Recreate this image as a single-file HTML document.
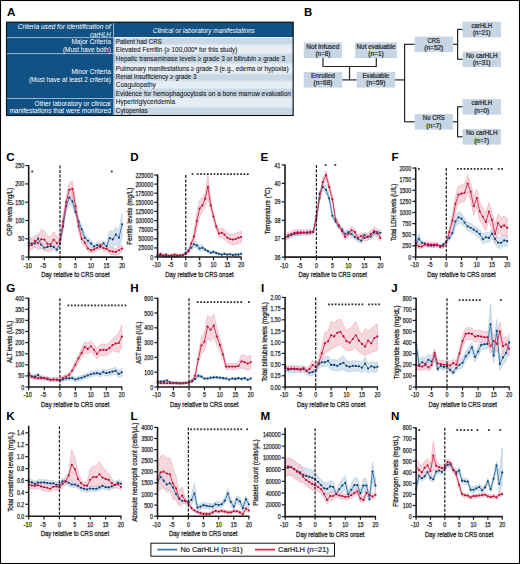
<!DOCTYPE html>
<html><head><meta charset="utf-8"><title>Figure</title>
<style>html,body{margin:0;padding:0;background:#fff;overflow:hidden}svg{display:block}
text{font-family:"Liberation Sans",sans-serif}</style></head>
<body><svg width="520" height="564" viewBox="0 0 520 564" font-family="Liberation Sans, sans-serif" fill="#222">
<rect x="0" y="0" width="520" height="564" fill="#fff"/>
<text x="7.00" y="15.80" font-size="11.6" font-weight="bold" fill="#000">A</text>
<rect x="6.0" y="21.8" width="287.6" height="94.2" fill="#115184"/>
<rect x="114.19999999999999" y="38.0" width="179.40000000000003" height="6.600000000000001" fill="#c8d8e6"/>
<rect x="114.19999999999999" y="44.6" width="179.40000000000003" height="9.0" fill="#e6edf5"/>
<rect x="114.19999999999999" y="53.6" width="179.40000000000003" height="10.0" fill="#c8d8e6"/>
<rect x="114.19999999999999" y="63.6" width="179.40000000000003" height="10.300000000000004" fill="#e6edf5"/>
<rect x="114.19999999999999" y="73.9" width="179.40000000000003" height="7.199999999999989" fill="#c8d8e6"/>
<rect x="114.19999999999999" y="81.1" width="179.40000000000003" height="7.5" fill="#e6edf5"/>
<rect x="114.19999999999999" y="88.6" width="179.40000000000003" height="9.200000000000003" fill="#c8d8e6"/>
<rect x="114.19999999999999" y="97.8" width="179.40000000000003" height="9.799999999999997" fill="#e6edf5"/>
<rect x="114.19999999999999" y="107.6" width="179.40000000000003" height="8.400000000000006" fill="#c8d8e6"/>
<rect x="114.19999999999999" y="44.25" width="179.40000000000003" height="0.7" fill="#f4f7fa"/>
<rect x="114.19999999999999" y="53.25" width="179.40000000000003" height="0.7" fill="#f4f7fa"/>
<rect x="114.19999999999999" y="63.25" width="179.40000000000003" height="0.7" fill="#f4f7fa"/>
<rect x="114.19999999999999" y="73.55000000000001" width="179.40000000000003" height="0.7" fill="#f4f7fa"/>
<rect x="114.19999999999999" y="80.75" width="179.40000000000003" height="0.7" fill="#f4f7fa"/>
<rect x="114.19999999999999" y="88.25" width="179.40000000000003" height="0.7" fill="#f4f7fa"/>
<rect x="114.19999999999999" y="97.45" width="179.40000000000003" height="0.7" fill="#f4f7fa"/>
<rect x="114.19999999999999" y="107.25" width="179.40000000000003" height="0.7" fill="#f4f7fa"/>
<rect x="114.19999999999999" y="37.0" width="179.40000000000003" height="1.0" fill="#f4f7fa"/>
<rect x="6.0" y="37.2" width="107.6" height="0.9" fill="#a8c0d8"/>
<rect x="6.0" y="53.2" width="107.6" height="0.9" fill="#a8c0d8"/>
<rect x="6.0" y="98.0" width="107.6" height="0.9" fill="#a8c0d8"/>
<rect x="113.19999999999999" y="21.8" width="0.9" height="94.2" fill="#a8c0d8"/>
<rect x="6.5" y="22.3" width="286.6" height="93.2" fill="none" stroke="#111" stroke-width="1.1"/>
<text x="115.80" y="43.70" font-size="7.0" fill="#1a1a1a" stroke="#1a1a1a" stroke-width="0.1" textLength="46.00" lengthAdjust="spacingAndGlyphs">Patient had CRS</text>
<text x="115.80" y="51.80" font-size="7.0" fill="#1a1a1a" stroke="#1a1a1a" stroke-width="0.1" textLength="121.50" lengthAdjust="spacingAndGlyphs">Elevated Ferritin (≥ 100,000* for this study)</text>
<text x="115.80" y="61.40" font-size="7.0" fill="#1a1a1a" stroke="#1a1a1a" stroke-width="0.1" textLength="169.20" lengthAdjust="spacingAndGlyphs">Hepatic transaminase levels ≥ grade 3 or bilirubin ≥ grade 3</text>
<text x="115.80" y="70.80" font-size="7.0" fill="#1a1a1a" stroke="#1a1a1a" stroke-width="0.1" textLength="172.70" lengthAdjust="spacingAndGlyphs">Pulmonary manifestations ≥ grade 3 (e.g., edema or hypoxia)</text>
<text x="115.80" y="79.40" font-size="7.0" fill="#1a1a1a" stroke="#1a1a1a" stroke-width="0.1" textLength="80.80" lengthAdjust="spacingAndGlyphs">Renal insufficiency ≥ grade 3</text>
<text x="115.80" y="86.80" font-size="7.0" fill="#1a1a1a" stroke="#1a1a1a" stroke-width="0.1" textLength="40.00" lengthAdjust="spacingAndGlyphs">Coagulopathy</text>
<text x="115.80" y="96.30" font-size="7.0" fill="#1a1a1a" stroke="#1a1a1a" stroke-width="0.1" textLength="175.00" lengthAdjust="spacingAndGlyphs">Evidence for hemophagocytosis on a bone marrow evaluation</text>
<text x="115.80" y="104.20" font-size="7.0" fill="#1a1a1a" stroke="#1a1a1a" stroke-width="0.1" textLength="59.20" lengthAdjust="spacingAndGlyphs">Hypertriglyceridemia</text>
<text x="115.80" y="113.20" font-size="7.0" fill="#1a1a1a" stroke="#1a1a1a" stroke-width="0.1" textLength="32.00" lengthAdjust="spacingAndGlyphs">Cytopenias</text>
<text x="152.80" y="32.50" font-size="7.0" font-style="italic" fill="#ffffff" textLength="102.00" lengthAdjust="spacingAndGlyphs">Clinical or laboratory manifestations</text>
<text x="110.80" y="29.20" font-size="6.9" font-style="italic" text-anchor="end" fill="#ffffff" textLength="93.00" lengthAdjust="spacingAndGlyphs">Criteria used for identification of</text>
<text x="110.80" y="36.60" font-size="6.9" font-style="italic" text-anchor="end" fill="#ffffff" textLength="20.80" lengthAdjust="spacingAndGlyphs">carHLH</text>
<text x="110.80" y="44.30" font-size="6.9" text-anchor="end" fill="#ffffff" textLength="39.40" lengthAdjust="spacingAndGlyphs">Major Criteria</text>
<text x="110.80" y="51.80" font-size="6.9" text-anchor="end" fill="#ffffff" textLength="47.80" lengthAdjust="spacingAndGlyphs">(Must have both)</text>
<text x="110.80" y="74.00" font-size="6.9" text-anchor="end" fill="#ffffff" textLength="39.40" lengthAdjust="spacingAndGlyphs">Minor Criteria</text>
<text x="110.80" y="81.50" font-size="6.9" text-anchor="end" fill="#ffffff" textLength="81.90" lengthAdjust="spacingAndGlyphs">(Must have at least 2 criteria)</text>
<text x="110.80" y="105.80" font-size="6.9" text-anchor="end" fill="#ffffff" textLength="76.20" lengthAdjust="spacingAndGlyphs">Other laboratory or clinical</text>
<text x="110.80" y="113.40" font-size="6.9" text-anchor="end" fill="#ffffff" textLength="101.40" lengthAdjust="spacingAndGlyphs">manifestations that were monitored</text>
<text x="304.00" y="15.60" font-size="11.4" font-weight="bold" fill="#000">B</text>
<rect x="303.8" y="42.3" width="38.099999999999966" height="15.700000000000003" fill="#c7d6e4"/>
<text x="322.85" y="48.50" font-size="6.4" text-anchor="middle" stroke="#222" stroke-width="0.2" textLength="33.00" lengthAdjust="spacingAndGlyphs">Not infused</text>
<text x="322.85" y="55.80" font-size="6.4" text-anchor="middle" stroke="#222" stroke-width="0.2" textLength="14.80" lengthAdjust="spacingAndGlyphs">(n=8)</text>
<rect x="355.1" y="42.3" width="41.799999999999955" height="15.700000000000003" fill="#c7d6e4"/>
<text x="376.00" y="48.50" font-size="6.4" text-anchor="middle" stroke="#222" stroke-width="0.2" textLength="39.00" lengthAdjust="spacingAndGlyphs">Not evaluable</text>
<text x="376.00" y="55.80" font-size="6.4" text-anchor="middle" stroke="#222" stroke-width="0.2" textLength="15.40" lengthAdjust="spacingAndGlyphs">(n=1)</text>
<rect x="303.8" y="71.9" width="38.39999999999998" height="15.699999999999989" fill="#c7d6e4"/>
<text x="323.00" y="78.10" font-size="6.4" text-anchor="middle" stroke="#222" stroke-width="0.2" textLength="24.00" lengthAdjust="spacingAndGlyphs">Enrolled</text>
<text x="323.00" y="85.40" font-size="6.4" text-anchor="middle" stroke="#222" stroke-width="0.2" textLength="19.00" lengthAdjust="spacingAndGlyphs">(n=68)</text>
<rect x="356.6" y="71.9" width="38.5" height="15.699999999999989" fill="#c7d6e4"/>
<text x="375.85" y="78.10" font-size="6.4" text-anchor="middle" stroke="#222" stroke-width="0.2" textLength="26.50" lengthAdjust="spacingAndGlyphs">Evaluable</text>
<text x="375.85" y="85.40" font-size="6.4" text-anchor="middle" stroke="#222" stroke-width="0.2" textLength="19.00" lengthAdjust="spacingAndGlyphs">(n=59)</text>
<rect x="414.6" y="36.6" width="38.39999999999998" height="15.5" fill="#c7d6e4"/>
<text x="433.80" y="42.80" font-size="6.4" text-anchor="middle" stroke="#222" stroke-width="0.2" textLength="12.50" lengthAdjust="spacingAndGlyphs">CRS</text>
<text x="433.80" y="50.10" font-size="6.4" text-anchor="middle" stroke="#222" stroke-width="0.2" textLength="19.00" lengthAdjust="spacingAndGlyphs">(n=52)</text>
<rect x="414.6" y="114.0" width="38.39999999999998" height="15.599999999999994" fill="#c7d6e4"/>
<text x="433.80" y="120.20" font-size="6.4" text-anchor="middle" stroke="#222" stroke-width="0.2" textLength="22.00" lengthAdjust="spacingAndGlyphs">No CRS</text>
<text x="433.80" y="127.50" font-size="6.4" text-anchor="middle" stroke="#222" stroke-width="0.2" textLength="15.00" lengthAdjust="spacingAndGlyphs">(n=7)</text>
<rect x="462.5" y="21.6" width="38.5" height="15.799999999999997" fill="#c7d6e4"/>
<text x="481.75" y="27.80" font-size="6.4" text-anchor="middle" stroke="#222" stroke-width="0.2" textLength="20.50" lengthAdjust="spacingAndGlyphs">carHLH</text>
<text x="481.75" y="35.10" font-size="6.4" text-anchor="middle" stroke="#222" stroke-width="0.2" textLength="17.50" lengthAdjust="spacingAndGlyphs">(n=21)</text>
<rect x="462.5" y="51.5" width="38.5" height="15.599999999999994" fill="#c7d6e4"/>
<text x="481.75" y="57.70" font-size="6.4" text-anchor="middle" stroke="#222" stroke-width="0.2" textLength="31.50" lengthAdjust="spacingAndGlyphs">No carHLH</text>
<text x="481.75" y="65.00" font-size="6.4" text-anchor="middle" stroke="#222" stroke-width="0.2" textLength="17.50" lengthAdjust="spacingAndGlyphs">(n=31)</text>
<rect x="462.5" y="99.1" width="38.5" height="15.5" fill="#c7d6e4"/>
<text x="481.75" y="105.30" font-size="6.4" text-anchor="middle" stroke="#222" stroke-width="0.2" textLength="20.50" lengthAdjust="spacingAndGlyphs">carHLH</text>
<text x="481.75" y="112.60" font-size="6.4" text-anchor="middle" stroke="#222" stroke-width="0.2" textLength="15.00" lengthAdjust="spacingAndGlyphs">(n=0)</text>
<rect x="462.5" y="129.0" width="38.5" height="15.599999999999994" fill="#c7d6e4"/>
<text x="481.75" y="135.20" font-size="6.4" text-anchor="middle" stroke="#222" stroke-width="0.2" textLength="31.50" lengthAdjust="spacingAndGlyphs">No carHLH</text>
<text x="481.75" y="142.50" font-size="6.4" text-anchor="middle" stroke="#222" stroke-width="0.2" textLength="15.00" lengthAdjust="spacingAndGlyphs">(n=7)</text>
<line x1="323.0" y1="58.0" x2="323.0" y2="66.5" stroke="#262626" stroke-width="1.2"/>
<line x1="376.3" y1="58.0" x2="376.3" y2="66.5" stroke="#262626" stroke-width="1.2"/>
<line x1="322.5" y1="66.5" x2="376.8" y2="66.5" stroke="#262626" stroke-width="1.2"/>
<line x1="349.5" y1="66.5" x2="349.5" y2="79.9" stroke="#262626" stroke-width="1.2"/>
<line x1="342.2" y1="79.9" x2="356.6" y2="79.9" stroke="#262626" stroke-width="1.2"/>
<line x1="395.1" y1="79.9" x2="404.6" y2="79.9" stroke="#262626" stroke-width="1.2"/>
<line x1="404.6" y1="44.3" x2="404.6" y2="121.8" stroke="#262626" stroke-width="1.2"/>
<line x1="404.1" y1="44.3" x2="414.6" y2="44.3" stroke="#262626" stroke-width="1.2"/>
<line x1="404.1" y1="121.8" x2="414.6" y2="121.8" stroke="#262626" stroke-width="1.2"/>
<line x1="453.0" y1="44.3" x2="457.6" y2="44.3" stroke="#262626" stroke-width="1.2"/>
<line x1="457.6" y1="29.4" x2="457.6" y2="59.3" stroke="#262626" stroke-width="1.2"/>
<line x1="457.1" y1="29.4" x2="462.5" y2="29.4" stroke="#262626" stroke-width="1.2"/>
<line x1="457.1" y1="59.3" x2="462.5" y2="59.3" stroke="#262626" stroke-width="1.2"/>
<line x1="453.0" y1="121.8" x2="457.6" y2="121.8" stroke="#262626" stroke-width="1.2"/>
<line x1="457.6" y1="106.8" x2="457.6" y2="136.8" stroke="#262626" stroke-width="1.2"/>
<line x1="457.1" y1="106.8" x2="462.5" y2="106.8" stroke="#262626" stroke-width="1.2"/>
<line x1="457.1" y1="136.8" x2="462.5" y2="136.8" stroke="#262626" stroke-width="1.2"/>
<polygon points="28.70,236.35 31.83,237.98 34.96,239.23 38.09,233.65 41.22,241.35 44.35,244.35 47.48,243.69 50.61,243.04 53.74,243.92 56.87,246.73 60.00,241.15 63.10,222.50 66.21,200.38 69.31,191.35 72.42,195.58 75.53,208.46 78.63,218.08 81.73,225.77 84.84,234.42 87.94,237.31 91.05,240.19 94.16,243.65 97.26,242.12 100.36,244.23 103.47,240.38 106.57,243.46 109.68,230.77 112.78,231.73 115.89,226.92 118.99,230.00 122.10,213.46 122.10,238.46 118.99,247.31 115.89,244.23 112.78,248.08 109.68,247.12 106.57,249.23 103.47,246.15 100.36,250.00 97.26,247.88 94.16,249.42 91.05,247.12 87.94,244.23 84.84,241.35 81.73,232.69 78.63,225.00 75.53,215.38 72.42,207.12 69.31,203.65 66.21,211.92 63.10,230.19 60.00,245.77 56.87,252.50 53.74,249.92 50.61,249.27 47.48,250.15 44.35,251.04 41.22,248.27 38.09,243.27 34.96,247.69 31.83,247.50 28.70,246.92" fill="#d3e1ee" fill-opacity="0.95" stroke="#b3c9de" stroke-width="0.7" stroke-opacity="0.85"/>
<polygon points="28.70,240.00 31.83,239.23 34.96,235.00 38.09,236.35 41.22,229.62 44.35,230.38 47.48,236.15 50.61,236.54 53.74,231.54 56.87,236.54 60.00,235.38 63.10,216.25 66.21,196.54 69.31,182.12 72.42,181.15 75.53,199.42 78.63,221.06 81.73,235.00 84.84,239.36 87.94,245.64 91.05,248.08 94.16,246.92 97.26,245.00 100.36,242.12 103.47,245.11 106.57,245.80 109.68,247.64 112.78,248.32 115.89,248.63 118.99,246.81 122.10,245.00 122.10,251.92 118.99,253.57 115.89,255.22 112.78,254.75 109.68,253.90 106.57,251.90 103.47,251.04 100.36,247.88 97.26,250.38 94.16,251.92 91.05,252.69 87.94,251.28 84.84,246.03 81.73,242.69 78.63,231.63 75.53,212.88 72.42,196.54 69.31,197.50 66.21,208.08 63.10,226.83 60.00,245.00 56.87,250.00 53.74,245.96 50.61,251.92 47.48,251.54 44.35,248.85 41.22,248.85 38.09,249.81 34.96,246.54 31.83,250.00 28.70,250.00" fill="#f5cdd6" fill-opacity="0.8" stroke="#eba9b8" stroke-width="0.7" stroke-opacity="0.85"/>
<polyline points="28.70,243.08 31.83,243.46 34.96,243.46 38.09,238.46 41.22,244.81 44.35,247.69 47.48,246.92 50.61,246.15 53.74,246.92 56.87,249.62 60.00,243.46 63.10,226.35 66.21,206.15 69.31,197.50 72.42,201.35 75.53,211.92 78.63,221.54 81.73,229.23 84.84,237.88 87.94,240.77 91.05,243.65 94.16,246.54 97.26,245.00 100.36,247.12 103.47,243.27 106.57,246.35 109.68,238.08 112.78,239.42 115.89,234.62 118.99,237.69 122.10,224.23" fill="none" stroke="#3a76ad" stroke-width="0.95" stroke-linejoin="round"/>
<circle cx="28.70" cy="243.08" r="1.05" fill="#0c3b6e"/>
<circle cx="31.83" cy="243.46" r="1.05" fill="#0c3b6e"/>
<circle cx="34.96" cy="243.46" r="1.05" fill="#0c3b6e"/>
<circle cx="38.09" cy="238.46" r="1.05" fill="#0c3b6e"/>
<circle cx="41.22" cy="244.81" r="1.05" fill="#0c3b6e"/>
<circle cx="44.35" cy="247.69" r="1.05" fill="#0c3b6e"/>
<circle cx="47.48" cy="246.92" r="1.05" fill="#0c3b6e"/>
<circle cx="50.61" cy="246.15" r="1.05" fill="#0c3b6e"/>
<circle cx="53.74" cy="246.92" r="1.05" fill="#0c3b6e"/>
<circle cx="56.87" cy="249.62" r="1.05" fill="#0c3b6e"/>
<circle cx="60.00" cy="243.46" r="1.05" fill="#0c3b6e"/>
<circle cx="63.10" cy="226.35" r="1.05" fill="#0c3b6e"/>
<circle cx="66.21" cy="206.15" r="1.05" fill="#0c3b6e"/>
<circle cx="69.31" cy="197.50" r="1.05" fill="#0c3b6e"/>
<circle cx="72.42" cy="201.35" r="1.05" fill="#0c3b6e"/>
<circle cx="75.53" cy="211.92" r="1.05" fill="#0c3b6e"/>
<circle cx="78.63" cy="221.54" r="1.05" fill="#0c3b6e"/>
<circle cx="81.73" cy="229.23" r="1.05" fill="#0c3b6e"/>
<circle cx="84.84" cy="237.88" r="1.05" fill="#0c3b6e"/>
<circle cx="87.94" cy="240.77" r="1.05" fill="#0c3b6e"/>
<circle cx="91.05" cy="243.65" r="1.05" fill="#0c3b6e"/>
<circle cx="94.16" cy="246.54" r="1.05" fill="#0c3b6e"/>
<circle cx="97.26" cy="245.00" r="1.05" fill="#0c3b6e"/>
<circle cx="100.36" cy="247.12" r="1.05" fill="#0c3b6e"/>
<circle cx="103.47" cy="243.27" r="1.05" fill="#0c3b6e"/>
<circle cx="106.57" cy="246.35" r="1.05" fill="#0c3b6e"/>
<circle cx="109.68" cy="238.08" r="1.05" fill="#0c3b6e"/>
<circle cx="112.78" cy="239.42" r="1.05" fill="#0c3b6e"/>
<circle cx="115.89" cy="234.62" r="1.05" fill="#0c3b6e"/>
<circle cx="118.99" cy="237.69" r="1.05" fill="#0c3b6e"/>
<circle cx="122.10" cy="224.23" r="1.05" fill="#0c3b6e"/>
<polyline points="28.70,245.77 31.83,245.00 34.96,240.77 38.09,243.08 41.22,239.23 44.35,239.62 47.48,243.85 50.61,244.23 53.74,239.81 56.87,243.27 60.00,240.19 63.10,221.54 66.21,202.31 69.31,189.81 72.42,188.85 75.53,206.15 78.63,226.35 81.73,238.85 84.84,242.69 87.94,248.46 91.05,250.38 94.16,249.42 97.26,247.69 100.36,245.00 103.47,248.08 106.57,248.85 109.68,250.77 112.78,251.54 115.89,251.92 118.99,250.19 122.10,248.46" fill="none" stroke="#d22c51" stroke-width="0.95" stroke-linejoin="round"/>
<circle cx="28.70" cy="245.77" r="1.05" fill="#b80d33"/>
<circle cx="31.83" cy="245.00" r="1.05" fill="#b80d33"/>
<circle cx="34.96" cy="240.77" r="1.05" fill="#b80d33"/>
<circle cx="38.09" cy="243.08" r="1.05" fill="#b80d33"/>
<circle cx="41.22" cy="239.23" r="1.05" fill="#b80d33"/>
<circle cx="44.35" cy="239.62" r="1.05" fill="#b80d33"/>
<circle cx="47.48" cy="243.85" r="1.05" fill="#b80d33"/>
<circle cx="50.61" cy="244.23" r="1.05" fill="#b80d33"/>
<circle cx="53.74" cy="239.81" r="1.05" fill="#b80d33"/>
<circle cx="56.87" cy="243.27" r="1.05" fill="#b80d33"/>
<circle cx="60.00" cy="240.19" r="1.05" fill="#b80d33"/>
<circle cx="63.10" cy="221.54" r="1.05" fill="#b80d33"/>
<circle cx="66.21" cy="202.31" r="1.05" fill="#b80d33"/>
<circle cx="69.31" cy="189.81" r="1.05" fill="#b80d33"/>
<circle cx="72.42" cy="188.85" r="1.05" fill="#b80d33"/>
<circle cx="75.53" cy="206.15" r="1.05" fill="#b80d33"/>
<circle cx="78.63" cy="226.35" r="1.05" fill="#b80d33"/>
<circle cx="81.73" cy="238.85" r="1.05" fill="#b80d33"/>
<circle cx="84.84" cy="242.69" r="1.05" fill="#b80d33"/>
<circle cx="87.94" cy="248.46" r="1.05" fill="#b80d33"/>
<circle cx="91.05" cy="250.38" r="1.05" fill="#b80d33"/>
<circle cx="94.16" cy="249.42" r="1.05" fill="#b80d33"/>
<circle cx="97.26" cy="247.69" r="1.05" fill="#b80d33"/>
<circle cx="100.36" cy="245.00" r="1.05" fill="#b80d33"/>
<circle cx="103.47" cy="248.08" r="1.05" fill="#b80d33"/>
<circle cx="106.57" cy="248.85" r="1.05" fill="#b80d33"/>
<circle cx="109.68" cy="250.77" r="1.05" fill="#b80d33"/>
<circle cx="112.78" cy="251.54" r="1.05" fill="#b80d33"/>
<circle cx="115.89" cy="251.92" r="1.05" fill="#b80d33"/>
<circle cx="118.99" cy="250.19" r="1.05" fill="#b80d33"/>
<circle cx="122.10" cy="248.46" r="1.05" fill="#b80d33"/>
<line x1="60.00" y1="165.6" x2="60.00" y2="257.1" stroke="#1a1a1a" stroke-width="1.2" stroke-dasharray="3,1.5"/>
<path d="M28.70,165.10 V257.10 H122.60" fill="none" stroke="#1a1a1a" stroke-width="1.6"/>
<line x1="25.40" y1="257.10" x2="28.70" y2="257.10" stroke="#1a1a1a" stroke-width="1.2"/>
<text x="24.20" y="259.60" font-size="6.8" text-anchor="end" fill="#2a2a2a" stroke="#2a2a2a" stroke-width="0.25" textLength="2.95" lengthAdjust="spacingAndGlyphs">0</text>
<line x1="25.40" y1="238.80" x2="28.70" y2="238.80" stroke="#1a1a1a" stroke-width="1.2"/>
<text x="24.20" y="241.30" font-size="6.8" text-anchor="end" fill="#2a2a2a" stroke="#2a2a2a" stroke-width="0.25" textLength="5.90" lengthAdjust="spacingAndGlyphs">50</text>
<line x1="25.40" y1="220.50" x2="28.70" y2="220.50" stroke="#1a1a1a" stroke-width="1.2"/>
<text x="24.20" y="223.00" font-size="6.8" text-anchor="end" fill="#2a2a2a" stroke="#2a2a2a" stroke-width="0.25" textLength="8.85" lengthAdjust="spacingAndGlyphs">100</text>
<line x1="25.40" y1="202.20" x2="28.70" y2="202.20" stroke="#1a1a1a" stroke-width="1.2"/>
<text x="24.20" y="204.70" font-size="6.8" text-anchor="end" fill="#2a2a2a" stroke="#2a2a2a" stroke-width="0.25" textLength="8.85" lengthAdjust="spacingAndGlyphs">150</text>
<line x1="25.40" y1="183.90" x2="28.70" y2="183.90" stroke="#1a1a1a" stroke-width="1.2"/>
<text x="24.20" y="186.40" font-size="6.8" text-anchor="end" fill="#2a2a2a" stroke="#2a2a2a" stroke-width="0.25" textLength="8.85" lengthAdjust="spacingAndGlyphs">200</text>
<line x1="25.40" y1="165.60" x2="28.70" y2="165.60" stroke="#1a1a1a" stroke-width="1.2"/>
<text x="24.20" y="168.10" font-size="6.8" text-anchor="end" fill="#2a2a2a" stroke="#2a2a2a" stroke-width="0.25" textLength="8.85" lengthAdjust="spacingAndGlyphs">250</text>
<line x1="28.70" y1="257.10" x2="28.70" y2="260.30" stroke="#1a1a1a" stroke-width="1.2"/>
<text x="27.70" y="267.50" font-size="6.8" text-anchor="middle" fill="#2a2a2a" stroke="#2a2a2a" stroke-width="0.25" textLength="8.20" lengthAdjust="spacingAndGlyphs">-10</text>
<line x1="44.35" y1="257.10" x2="44.35" y2="260.30" stroke="#1a1a1a" stroke-width="1.2"/>
<text x="43.35" y="267.50" font-size="6.8" text-anchor="middle" fill="#2a2a2a" stroke="#2a2a2a" stroke-width="0.25" textLength="5.25" lengthAdjust="spacingAndGlyphs">-5</text>
<line x1="60.00" y1="257.10" x2="60.00" y2="260.30" stroke="#1a1a1a" stroke-width="1.2"/>
<text x="60.00" y="267.50" font-size="6.8" text-anchor="middle" fill="#2a2a2a" stroke="#2a2a2a" stroke-width="0.25" textLength="2.95" lengthAdjust="spacingAndGlyphs">0</text>
<line x1="75.53" y1="257.10" x2="75.53" y2="260.30" stroke="#1a1a1a" stroke-width="1.2"/>
<text x="75.53" y="267.50" font-size="6.8" text-anchor="middle" fill="#2a2a2a" stroke="#2a2a2a" stroke-width="0.25" textLength="2.95" lengthAdjust="spacingAndGlyphs">5</text>
<line x1="91.05" y1="257.10" x2="91.05" y2="260.30" stroke="#1a1a1a" stroke-width="1.2"/>
<text x="91.05" y="267.50" font-size="6.8" text-anchor="middle" fill="#2a2a2a" stroke="#2a2a2a" stroke-width="0.25" textLength="5.90" lengthAdjust="spacingAndGlyphs">10</text>
<line x1="106.57" y1="257.10" x2="106.57" y2="260.30" stroke="#1a1a1a" stroke-width="1.2"/>
<text x="106.57" y="267.50" font-size="6.8" text-anchor="middle" fill="#2a2a2a" stroke="#2a2a2a" stroke-width="0.25" textLength="5.90" lengthAdjust="spacingAndGlyphs">15</text>
<line x1="122.10" y1="257.10" x2="122.10" y2="260.30" stroke="#1a1a1a" stroke-width="1.2"/>
<text x="122.10" y="267.50" font-size="6.8" text-anchor="middle" fill="#2a2a2a" stroke="#2a2a2a" stroke-width="0.25" textLength="5.90" lengthAdjust="spacingAndGlyphs">20</text>
<text x="75.40" y="277.10" font-size="7.9" text-anchor="middle" fill="#2a2a2a" stroke="#2a2a2a" stroke-width="0.3" textLength="68.40" lengthAdjust="spacingAndGlyphs">Day relative to CRS onset</text>
<text transform="translate(11.70,211.80) rotate(-90)" font-size="7.9" text-anchor="middle" fill="#2a2a2a" stroke="#2a2a2a" stroke-width="0.3" textLength="47.80" lengthAdjust="spacingAndGlyphs">CRP levels (mg/L)</text>
<text x="6.20" y="160.80" font-size="11.6" font-weight="bold" fill="#000">C</text>
<rect x="31.30" y="170.60" width="1.8" height="1.8" fill="#333"/>
<rect x="110.90" y="170.60" width="1.8" height="1.8" fill="#333"/>
<polygon points="157.60,254.81 160.41,254.42 163.23,255.19 166.04,255.19 168.86,255.38 171.68,255.19 174.49,255.38 177.31,255.19 180.12,254.81 182.94,254.04 185.75,252.12 188.52,248.46 191.29,244.81 194.07,241.35 196.84,242.50 199.61,245.58 202.38,244.81 205.16,248.27 207.93,249.82 210.70,251.38 213.47,250.62 216.25,251.79 219.02,252.57 221.79,253.36 224.56,252.60 227.34,253.39 230.11,253.02 232.88,253.80 235.65,253.43 238.43,253.45 241.20,252.69 241.20,255.00 238.43,255.78 235.65,255.80 232.88,256.20 230.11,255.44 227.34,255.84 224.56,255.09 221.79,255.87 219.02,255.12 216.25,254.36 213.47,253.22 210.70,254.01 207.93,252.49 205.16,250.96 202.38,250.58 199.61,251.35 196.84,248.27 194.07,247.12 191.29,250.58 188.52,252.31 185.75,254.04 182.94,255.96 180.12,256.73 177.31,257.00 174.49,257.00 171.68,257.00 168.86,257.00 166.04,257.00 163.23,257.00 160.41,256.35 157.60,256.73" fill="#d3e1ee" fill-opacity="0.95" stroke="#b3c9de" stroke-width="0.7" stroke-opacity="0.85"/>
<polygon points="157.60,254.62 160.41,252.69 163.23,254.23 166.04,253.46 168.86,254.62 171.68,254.23 174.49,253.46 177.31,254.23 180.12,254.23 182.94,253.85 185.75,252.69 188.52,249.42 191.29,241.15 194.07,231.73 196.84,213.27 199.61,199.81 202.38,198.08 205.16,193.08 207.93,175.00 210.70,201.15 213.47,213.08 216.25,223.65 219.02,229.23 221.79,228.08 224.56,229.90 227.34,232.88 230.11,233.94 232.88,234.23 235.65,233.53 238.43,232.05 241.20,231.35 241.20,242.88 238.43,243.33 235.65,244.55 232.88,245.00 230.11,244.13 227.34,242.50 224.56,239.33 221.79,237.31 219.02,237.69 216.25,229.42 213.47,220.00 210.70,209.62 207.93,198.85 205.16,205.96 202.38,211.54 199.61,217.12 196.84,228.65 194.07,241.35 191.29,245.77 188.52,252.88 185.75,255.00 182.94,256.15 180.12,256.54 177.31,256.54 174.49,255.77 171.68,256.54 168.86,256.92 166.04,255.77 163.23,256.54 160.41,255.00 157.60,256.92" fill="#f5cdd6" fill-opacity="0.8" stroke="#eba9b8" stroke-width="0.7" stroke-opacity="0.85"/>
<polyline points="157.60,255.77 160.41,255.38 163.23,256.15 166.04,256.15 168.86,256.35 171.68,256.15 174.49,256.35 177.31,256.15 180.12,255.77 182.94,255.00 185.75,253.08 188.52,250.38 191.29,247.69 194.07,244.23 196.84,245.38 199.61,248.46 202.38,247.69 205.16,249.62 207.93,251.15 210.70,252.69 213.47,251.92 216.25,253.08 219.02,253.85 221.79,254.62 224.56,253.85 227.34,254.62 230.11,254.23 232.88,255.00 235.65,254.62 238.43,254.62 241.20,253.85" fill="none" stroke="#3a76ad" stroke-width="0.95" stroke-linejoin="round"/>
<circle cx="157.60" cy="255.77" r="1.05" fill="#0c3b6e"/>
<circle cx="160.41" cy="255.38" r="1.05" fill="#0c3b6e"/>
<circle cx="163.23" cy="256.15" r="1.05" fill="#0c3b6e"/>
<circle cx="166.04" cy="256.15" r="1.05" fill="#0c3b6e"/>
<circle cx="168.86" cy="256.35" r="1.05" fill="#0c3b6e"/>
<circle cx="171.68" cy="256.15" r="1.05" fill="#0c3b6e"/>
<circle cx="174.49" cy="256.35" r="1.05" fill="#0c3b6e"/>
<circle cx="177.31" cy="256.15" r="1.05" fill="#0c3b6e"/>
<circle cx="180.12" cy="255.77" r="1.05" fill="#0c3b6e"/>
<circle cx="182.94" cy="255.00" r="1.05" fill="#0c3b6e"/>
<circle cx="185.75" cy="253.08" r="1.05" fill="#0c3b6e"/>
<circle cx="188.52" cy="250.38" r="1.05" fill="#0c3b6e"/>
<circle cx="191.29" cy="247.69" r="1.05" fill="#0c3b6e"/>
<circle cx="194.07" cy="244.23" r="1.05" fill="#0c3b6e"/>
<circle cx="196.84" cy="245.38" r="1.05" fill="#0c3b6e"/>
<circle cx="199.61" cy="248.46" r="1.05" fill="#0c3b6e"/>
<circle cx="202.38" cy="247.69" r="1.05" fill="#0c3b6e"/>
<circle cx="205.16" cy="249.62" r="1.05" fill="#0c3b6e"/>
<circle cx="207.93" cy="251.15" r="1.05" fill="#0c3b6e"/>
<circle cx="210.70" cy="252.69" r="1.05" fill="#0c3b6e"/>
<circle cx="213.47" cy="251.92" r="1.05" fill="#0c3b6e"/>
<circle cx="216.25" cy="253.08" r="1.05" fill="#0c3b6e"/>
<circle cx="219.02" cy="253.85" r="1.05" fill="#0c3b6e"/>
<circle cx="221.79" cy="254.62" r="1.05" fill="#0c3b6e"/>
<circle cx="224.56" cy="253.85" r="1.05" fill="#0c3b6e"/>
<circle cx="227.34" cy="254.62" r="1.05" fill="#0c3b6e"/>
<circle cx="230.11" cy="254.23" r="1.05" fill="#0c3b6e"/>
<circle cx="232.88" cy="255.00" r="1.05" fill="#0c3b6e"/>
<circle cx="235.65" cy="254.62" r="1.05" fill="#0c3b6e"/>
<circle cx="238.43" cy="254.62" r="1.05" fill="#0c3b6e"/>
<circle cx="241.20" cy="253.85" r="1.05" fill="#0c3b6e"/>
<polyline points="157.60,255.77 160.41,253.85 163.23,255.38 166.04,254.62 168.86,255.77 171.68,255.38 174.49,254.62 177.31,255.38 180.12,255.38 182.94,255.00 185.75,253.85 188.52,251.15 191.29,243.46 194.07,236.54 196.84,220.96 199.61,208.46 202.38,205.38 205.16,198.65 207.93,186.92 210.70,205.38 213.47,216.54 216.25,226.54 219.02,233.46 221.79,232.69 224.56,234.62 227.34,237.69 230.11,239.04 232.88,239.62 235.65,239.04 238.43,237.69 241.20,237.12" fill="none" stroke="#d22c51" stroke-width="0.95" stroke-linejoin="round"/>
<circle cx="157.60" cy="255.77" r="1.05" fill="#b80d33"/>
<circle cx="160.41" cy="253.85" r="1.05" fill="#b80d33"/>
<circle cx="163.23" cy="255.38" r="1.05" fill="#b80d33"/>
<circle cx="166.04" cy="254.62" r="1.05" fill="#b80d33"/>
<circle cx="168.86" cy="255.77" r="1.05" fill="#b80d33"/>
<circle cx="171.68" cy="255.38" r="1.05" fill="#b80d33"/>
<circle cx="174.49" cy="254.62" r="1.05" fill="#b80d33"/>
<circle cx="177.31" cy="255.38" r="1.05" fill="#b80d33"/>
<circle cx="180.12" cy="255.38" r="1.05" fill="#b80d33"/>
<circle cx="182.94" cy="255.00" r="1.05" fill="#b80d33"/>
<circle cx="185.75" cy="253.85" r="1.05" fill="#b80d33"/>
<circle cx="188.52" cy="251.15" r="1.05" fill="#b80d33"/>
<circle cx="191.29" cy="243.46" r="1.05" fill="#b80d33"/>
<circle cx="194.07" cy="236.54" r="1.05" fill="#b80d33"/>
<circle cx="196.84" cy="220.96" r="1.05" fill="#b80d33"/>
<circle cx="199.61" cy="208.46" r="1.05" fill="#b80d33"/>
<circle cx="202.38" cy="205.38" r="1.05" fill="#b80d33"/>
<circle cx="205.16" cy="198.65" r="1.05" fill="#b80d33"/>
<circle cx="207.93" cy="186.92" r="1.05" fill="#b80d33"/>
<circle cx="210.70" cy="205.38" r="1.05" fill="#b80d33"/>
<circle cx="213.47" cy="216.54" r="1.05" fill="#b80d33"/>
<circle cx="216.25" cy="226.54" r="1.05" fill="#b80d33"/>
<circle cx="219.02" cy="233.46" r="1.05" fill="#b80d33"/>
<circle cx="221.79" cy="232.69" r="1.05" fill="#b80d33"/>
<circle cx="224.56" cy="234.62" r="1.05" fill="#b80d33"/>
<circle cx="227.34" cy="237.69" r="1.05" fill="#b80d33"/>
<circle cx="230.11" cy="239.04" r="1.05" fill="#b80d33"/>
<circle cx="232.88" cy="239.62" r="1.05" fill="#b80d33"/>
<circle cx="235.65" cy="239.04" r="1.05" fill="#b80d33"/>
<circle cx="238.43" cy="237.69" r="1.05" fill="#b80d33"/>
<circle cx="241.20" cy="237.12" r="1.05" fill="#b80d33"/>
<line x1="185.75" y1="175.0" x2="185.75" y2="257.0" stroke="#1a1a1a" stroke-width="1.2" stroke-dasharray="3,1.5"/>
<path d="M157.60,174.50 V257.00 H241.70" fill="none" stroke="#1a1a1a" stroke-width="1.6"/>
<line x1="154.30" y1="257.00" x2="157.60" y2="257.00" stroke="#1a1a1a" stroke-width="1.2"/>
<text x="153.10" y="259.50" font-size="6.8" text-anchor="end" fill="#2a2a2a" stroke="#2a2a2a" stroke-width="0.25" textLength="2.95" lengthAdjust="spacingAndGlyphs">0</text>
<line x1="154.30" y1="247.89" x2="157.60" y2="247.89" stroke="#1a1a1a" stroke-width="1.2"/>
<text x="153.10" y="250.39" font-size="6.8" text-anchor="end" fill="#2a2a2a" stroke="#2a2a2a" stroke-width="0.25" textLength="14.75" lengthAdjust="spacingAndGlyphs">25000</text>
<line x1="154.30" y1="238.78" x2="157.60" y2="238.78" stroke="#1a1a1a" stroke-width="1.2"/>
<text x="153.10" y="241.28" font-size="6.8" text-anchor="end" fill="#2a2a2a" stroke="#2a2a2a" stroke-width="0.25" textLength="14.75" lengthAdjust="spacingAndGlyphs">50000</text>
<line x1="154.30" y1="229.67" x2="157.60" y2="229.67" stroke="#1a1a1a" stroke-width="1.2"/>
<text x="153.10" y="232.17" font-size="6.8" text-anchor="end" fill="#2a2a2a" stroke="#2a2a2a" stroke-width="0.25" textLength="14.75" lengthAdjust="spacingAndGlyphs">75000</text>
<line x1="154.30" y1="220.56" x2="157.60" y2="220.56" stroke="#1a1a1a" stroke-width="1.2"/>
<text x="153.10" y="223.06" font-size="6.8" text-anchor="end" fill="#2a2a2a" stroke="#2a2a2a" stroke-width="0.25" textLength="17.70" lengthAdjust="spacingAndGlyphs">100000</text>
<line x1="154.30" y1="211.44" x2="157.60" y2="211.44" stroke="#1a1a1a" stroke-width="1.2"/>
<text x="153.10" y="213.94" font-size="6.8" text-anchor="end" fill="#2a2a2a" stroke="#2a2a2a" stroke-width="0.25" textLength="17.70" lengthAdjust="spacingAndGlyphs">125000</text>
<line x1="154.30" y1="202.33" x2="157.60" y2="202.33" stroke="#1a1a1a" stroke-width="1.2"/>
<text x="153.10" y="204.83" font-size="6.8" text-anchor="end" fill="#2a2a2a" stroke="#2a2a2a" stroke-width="0.25" textLength="17.70" lengthAdjust="spacingAndGlyphs">150000</text>
<line x1="154.30" y1="193.22" x2="157.60" y2="193.22" stroke="#1a1a1a" stroke-width="1.2"/>
<text x="153.10" y="195.72" font-size="6.8" text-anchor="end" fill="#2a2a2a" stroke="#2a2a2a" stroke-width="0.25" textLength="17.70" lengthAdjust="spacingAndGlyphs">175000</text>
<line x1="154.30" y1="184.11" x2="157.60" y2="184.11" stroke="#1a1a1a" stroke-width="1.2"/>
<text x="153.10" y="186.61" font-size="6.8" text-anchor="end" fill="#2a2a2a" stroke="#2a2a2a" stroke-width="0.25" textLength="17.70" lengthAdjust="spacingAndGlyphs">200000</text>
<line x1="154.30" y1="175.00" x2="157.60" y2="175.00" stroke="#1a1a1a" stroke-width="1.2"/>
<text x="153.10" y="177.50" font-size="6.8" text-anchor="end" fill="#2a2a2a" stroke="#2a2a2a" stroke-width="0.25" textLength="17.70" lengthAdjust="spacingAndGlyphs">225000</text>
<line x1="157.60" y1="257.00" x2="157.60" y2="260.20" stroke="#1a1a1a" stroke-width="1.2"/>
<text x="156.60" y="267.40" font-size="6.8" text-anchor="middle" fill="#2a2a2a" stroke="#2a2a2a" stroke-width="0.25" textLength="8.20" lengthAdjust="spacingAndGlyphs">-10</text>
<line x1="171.68" y1="257.00" x2="171.68" y2="260.20" stroke="#1a1a1a" stroke-width="1.2"/>
<text x="170.68" y="267.40" font-size="6.8" text-anchor="middle" fill="#2a2a2a" stroke="#2a2a2a" stroke-width="0.25" textLength="5.25" lengthAdjust="spacingAndGlyphs">-5</text>
<line x1="185.75" y1="257.00" x2="185.75" y2="260.20" stroke="#1a1a1a" stroke-width="1.2"/>
<text x="185.75" y="267.40" font-size="6.8" text-anchor="middle" fill="#2a2a2a" stroke="#2a2a2a" stroke-width="0.25" textLength="2.95" lengthAdjust="spacingAndGlyphs">0</text>
<line x1="199.61" y1="257.00" x2="199.61" y2="260.20" stroke="#1a1a1a" stroke-width="1.2"/>
<text x="199.61" y="267.40" font-size="6.8" text-anchor="middle" fill="#2a2a2a" stroke="#2a2a2a" stroke-width="0.25" textLength="2.95" lengthAdjust="spacingAndGlyphs">5</text>
<line x1="213.47" y1="257.00" x2="213.47" y2="260.20" stroke="#1a1a1a" stroke-width="1.2"/>
<text x="213.47" y="267.40" font-size="6.8" text-anchor="middle" fill="#2a2a2a" stroke="#2a2a2a" stroke-width="0.25" textLength="5.90" lengthAdjust="spacingAndGlyphs">10</text>
<line x1="227.34" y1="257.00" x2="227.34" y2="260.20" stroke="#1a1a1a" stroke-width="1.2"/>
<text x="227.34" y="267.40" font-size="6.8" text-anchor="middle" fill="#2a2a2a" stroke="#2a2a2a" stroke-width="0.25" textLength="5.90" lengthAdjust="spacingAndGlyphs">15</text>
<line x1="241.20" y1="257.00" x2="241.20" y2="260.20" stroke="#1a1a1a" stroke-width="1.2"/>
<text x="241.20" y="267.40" font-size="6.8" text-anchor="middle" fill="#2a2a2a" stroke="#2a2a2a" stroke-width="0.25" textLength="5.90" lengthAdjust="spacingAndGlyphs">20</text>
<text x="199.40" y="277.00" font-size="7.9" text-anchor="middle" fill="#2a2a2a" stroke="#2a2a2a" stroke-width="0.3" textLength="68.40" lengthAdjust="spacingAndGlyphs">Day relative to CRS onset</text>
<text transform="translate(131.80,216.25) rotate(-90)" font-size="7.9" text-anchor="middle" fill="#2a2a2a" stroke="#2a2a2a" stroke-width="0.3" textLength="57.10" lengthAdjust="spacingAndGlyphs">Ferritin levels (mg/L)</text>
<text x="130.30" y="160.80" font-size="11.6" font-weight="bold" fill="#000">D</text>
<rect x="191.60" y="173.20" width="1.8" height="1.8" fill="#333"/>
<rect x="196.85" y="173.20" width="1.8" height="1.8" fill="#333"/>
<rect x="200.18" y="173.20" width="1.8" height="1.8" fill="#333"/>
<rect x="203.52" y="173.20" width="1.8" height="1.8" fill="#333"/>
<rect x="206.85" y="173.20" width="1.8" height="1.8" fill="#333"/>
<rect x="210.18" y="173.20" width="1.8" height="1.8" fill="#333"/>
<rect x="213.52" y="173.20" width="1.8" height="1.8" fill="#333"/>
<rect x="216.85" y="173.20" width="1.8" height="1.8" fill="#333"/>
<rect x="220.18" y="173.20" width="1.8" height="1.8" fill="#333"/>
<rect x="223.52" y="173.20" width="1.8" height="1.8" fill="#333"/>
<rect x="226.85" y="173.20" width="1.8" height="1.8" fill="#333"/>
<rect x="230.18" y="173.20" width="1.8" height="1.8" fill="#333"/>
<rect x="233.52" y="173.20" width="1.8" height="1.8" fill="#333"/>
<rect x="236.85" y="173.20" width="1.8" height="1.8" fill="#333"/>
<rect x="240.18" y="173.20" width="1.8" height="1.8" fill="#333"/>
<rect x="243.52" y="173.20" width="1.8" height="1.8" fill="#333"/>
<rect x="246.85" y="173.20" width="1.8" height="1.8" fill="#333"/>
<polygon points="285.00,235.58 288.14,234.25 291.28,232.74 294.42,231.79 297.56,231.24 300.70,230.88 303.84,230.51 306.98,230.92 310.12,230.56 313.26,230.00 316.40,216.25 319.60,190.96 322.80,183.46 326.00,186.35 329.20,195.38 332.40,212.88 335.60,218.85 338.80,223.63 342.00,226.87 345.20,231.26 348.40,229.31 351.60,231.21 354.80,234.07 358.00,235.96 361.20,237.86 364.40,232.06 367.60,233.96 370.80,233.54 374.00,229.67 377.20,230.41 380.40,229.62 380.40,235.77 377.20,236.51 374.00,235.71 370.80,239.53 367.60,239.89 364.40,237.94 361.20,243.68 358.00,241.73 354.80,239.78 351.60,236.87 348.40,234.92 345.20,236.81 342.00,232.36 338.80,229.07 335.60,224.23 332.40,218.65 329.20,201.54 326.00,193.27 322.80,190.38 319.60,196.35 316.40,221.06 313.26,234.23 310.12,234.83 306.98,235.24 303.84,234.87 300.70,235.28 297.56,235.68 294.42,236.28 291.28,237.26 288.14,238.82 285.00,240.19" fill="#d3e1ee" fill-opacity="0.95" stroke="#b3c9de" stroke-width="0.7" stroke-opacity="0.85"/>
<polygon points="285.00,234.23 288.14,232.39 291.28,231.13 294.42,229.87 297.56,229.57 300.70,229.66 303.84,229.94 306.98,229.83 310.12,229.53 313.26,229.62 316.40,213.08 319.60,195.38 322.80,178.65 326.00,170.77 329.20,183.46 332.40,196.25 335.60,216.73 338.80,222.50 342.00,228.27 345.20,234.04 348.40,231.15 351.60,225.96 354.80,229.23 358.00,234.84 361.20,232.76 364.40,234.52 367.60,233.40 370.80,230.35 374.00,227.31 377.20,228.46 380.40,234.42 380.40,241.35 377.20,235.77 374.00,235.00 370.80,237.72 367.60,240.45 364.40,241.25 361.20,239.17 358.00,240.93 354.80,235.00 351.60,234.42 348.40,236.92 345.20,239.81 342.00,234.04 338.80,228.27 335.60,222.50 332.40,202.60 329.20,190.38 326.00,179.23 322.80,185.58 319.60,201.54 316.40,218.46 313.26,234.23 310.12,234.32 306.98,234.79 303.84,235.06 300.70,234.96 297.56,235.04 294.42,235.51 291.28,236.94 288.14,238.38 285.00,240.38" fill="#f5cdd6" fill-opacity="0.8" stroke="#eba9b8" stroke-width="0.7" stroke-opacity="0.85"/>
<polyline points="285.00,237.88 288.14,236.54 291.28,235.00 294.42,234.04 297.56,233.46 300.70,233.08 303.84,232.69 306.98,233.08 310.12,232.69 313.26,232.12 316.40,218.65 319.60,193.65 322.80,186.92 326.00,189.81 329.20,198.46 332.40,215.77 335.60,221.54 338.80,226.35 342.00,229.62 345.20,234.04 348.40,232.12 351.60,234.04 354.80,236.92 358.00,238.85 361.20,240.77 364.40,235.00 367.60,236.92 370.80,236.54 374.00,232.69 377.20,233.46 380.40,232.69" fill="none" stroke="#3a76ad" stroke-width="0.95" stroke-linejoin="round"/>
<circle cx="285.00" cy="237.88" r="1.05" fill="#0c3b6e"/>
<circle cx="288.14" cy="236.54" r="1.05" fill="#0c3b6e"/>
<circle cx="291.28" cy="235.00" r="1.05" fill="#0c3b6e"/>
<circle cx="294.42" cy="234.04" r="1.05" fill="#0c3b6e"/>
<circle cx="297.56" cy="233.46" r="1.05" fill="#0c3b6e"/>
<circle cx="300.70" cy="233.08" r="1.05" fill="#0c3b6e"/>
<circle cx="303.84" cy="232.69" r="1.05" fill="#0c3b6e"/>
<circle cx="306.98" cy="233.08" r="1.05" fill="#0c3b6e"/>
<circle cx="310.12" cy="232.69" r="1.05" fill="#0c3b6e"/>
<circle cx="313.26" cy="232.12" r="1.05" fill="#0c3b6e"/>
<circle cx="316.40" cy="218.65" r="1.05" fill="#0c3b6e"/>
<circle cx="319.60" cy="193.65" r="1.05" fill="#0c3b6e"/>
<circle cx="322.80" cy="186.92" r="1.05" fill="#0c3b6e"/>
<circle cx="326.00" cy="189.81" r="1.05" fill="#0c3b6e"/>
<circle cx="329.20" cy="198.46" r="1.05" fill="#0c3b6e"/>
<circle cx="332.40" cy="215.77" r="1.05" fill="#0c3b6e"/>
<circle cx="335.60" cy="221.54" r="1.05" fill="#0c3b6e"/>
<circle cx="338.80" cy="226.35" r="1.05" fill="#0c3b6e"/>
<circle cx="342.00" cy="229.62" r="1.05" fill="#0c3b6e"/>
<circle cx="345.20" cy="234.04" r="1.05" fill="#0c3b6e"/>
<circle cx="348.40" cy="232.12" r="1.05" fill="#0c3b6e"/>
<circle cx="351.60" cy="234.04" r="1.05" fill="#0c3b6e"/>
<circle cx="354.80" cy="236.92" r="1.05" fill="#0c3b6e"/>
<circle cx="358.00" cy="238.85" r="1.05" fill="#0c3b6e"/>
<circle cx="361.20" cy="240.77" r="1.05" fill="#0c3b6e"/>
<circle cx="364.40" cy="235.00" r="1.05" fill="#0c3b6e"/>
<circle cx="367.60" cy="236.92" r="1.05" fill="#0c3b6e"/>
<circle cx="370.80" cy="236.54" r="1.05" fill="#0c3b6e"/>
<circle cx="374.00" cy="232.69" r="1.05" fill="#0c3b6e"/>
<circle cx="377.20" cy="233.46" r="1.05" fill="#0c3b6e"/>
<circle cx="380.40" cy="232.69" r="1.05" fill="#0c3b6e"/>
<polyline points="285.00,237.31 288.14,235.38 291.28,234.04 294.42,232.69 297.56,232.31 300.70,232.31 303.84,232.50 306.98,232.31 310.12,231.92 313.26,231.92 316.40,215.77 319.60,198.46 322.80,182.12 326.00,175.00 329.20,186.92 332.40,199.42 335.60,219.62 338.80,225.38 342.00,231.15 345.20,236.92 348.40,234.04 351.60,230.19 354.80,232.12 358.00,237.88 361.20,235.96 364.40,237.88 367.60,236.92 370.80,234.04 374.00,231.15 377.20,232.12 380.40,237.88" fill="none" stroke="#d22c51" stroke-width="0.95" stroke-linejoin="round"/>
<circle cx="285.00" cy="237.31" r="1.05" fill="#b80d33"/>
<circle cx="288.14" cy="235.38" r="1.05" fill="#b80d33"/>
<circle cx="291.28" cy="234.04" r="1.05" fill="#b80d33"/>
<circle cx="294.42" cy="232.69" r="1.05" fill="#b80d33"/>
<circle cx="297.56" cy="232.31" r="1.05" fill="#b80d33"/>
<circle cx="300.70" cy="232.31" r="1.05" fill="#b80d33"/>
<circle cx="303.84" cy="232.50" r="1.05" fill="#b80d33"/>
<circle cx="306.98" cy="232.31" r="1.05" fill="#b80d33"/>
<circle cx="310.12" cy="231.92" r="1.05" fill="#b80d33"/>
<circle cx="313.26" cy="231.92" r="1.05" fill="#b80d33"/>
<circle cx="316.40" cy="215.77" r="1.05" fill="#b80d33"/>
<circle cx="319.60" cy="198.46" r="1.05" fill="#b80d33"/>
<circle cx="322.80" cy="182.12" r="1.05" fill="#b80d33"/>
<circle cx="326.00" cy="175.00" r="1.05" fill="#b80d33"/>
<circle cx="329.20" cy="186.92" r="1.05" fill="#b80d33"/>
<circle cx="332.40" cy="199.42" r="1.05" fill="#b80d33"/>
<circle cx="335.60" cy="219.62" r="1.05" fill="#b80d33"/>
<circle cx="338.80" cy="225.38" r="1.05" fill="#b80d33"/>
<circle cx="342.00" cy="231.15" r="1.05" fill="#b80d33"/>
<circle cx="345.20" cy="236.92" r="1.05" fill="#b80d33"/>
<circle cx="348.40" cy="234.04" r="1.05" fill="#b80d33"/>
<circle cx="351.60" cy="230.19" r="1.05" fill="#b80d33"/>
<circle cx="354.80" cy="232.12" r="1.05" fill="#b80d33"/>
<circle cx="358.00" cy="237.88" r="1.05" fill="#b80d33"/>
<circle cx="361.20" cy="235.96" r="1.05" fill="#b80d33"/>
<circle cx="364.40" cy="237.88" r="1.05" fill="#b80d33"/>
<circle cx="367.60" cy="236.92" r="1.05" fill="#b80d33"/>
<circle cx="370.80" cy="234.04" r="1.05" fill="#b80d33"/>
<circle cx="374.00" cy="231.15" r="1.05" fill="#b80d33"/>
<circle cx="377.20" cy="232.12" r="1.05" fill="#b80d33"/>
<circle cx="380.40" cy="237.88" r="1.05" fill="#b80d33"/>
<line x1="316.40" y1="165.0" x2="316.40" y2="257.1" stroke="#1a1a1a" stroke-width="1.2" stroke-dasharray="3,1.5"/>
<path d="M285.00,164.50 V257.10 H380.90" fill="none" stroke="#1a1a1a" stroke-width="1.6"/>
<line x1="281.70" y1="257.10" x2="285.00" y2="257.10" stroke="#1a1a1a" stroke-width="1.2"/>
<text x="280.50" y="259.60" font-size="6.8" text-anchor="end" fill="#2a2a2a" stroke="#2a2a2a" stroke-width="0.25" textLength="5.90" lengthAdjust="spacingAndGlyphs">36</text>
<line x1="281.70" y1="238.68" x2="285.00" y2="238.68" stroke="#1a1a1a" stroke-width="1.2"/>
<text x="280.50" y="241.18" font-size="6.8" text-anchor="end" fill="#2a2a2a" stroke="#2a2a2a" stroke-width="0.25" textLength="5.90" lengthAdjust="spacingAndGlyphs">37</text>
<line x1="281.70" y1="220.26" x2="285.00" y2="220.26" stroke="#1a1a1a" stroke-width="1.2"/>
<text x="280.50" y="222.76" font-size="6.8" text-anchor="end" fill="#2a2a2a" stroke="#2a2a2a" stroke-width="0.25" textLength="5.90" lengthAdjust="spacingAndGlyphs">38</text>
<line x1="281.70" y1="201.84" x2="285.00" y2="201.84" stroke="#1a1a1a" stroke-width="1.2"/>
<text x="280.50" y="204.34" font-size="6.8" text-anchor="end" fill="#2a2a2a" stroke="#2a2a2a" stroke-width="0.25" textLength="5.90" lengthAdjust="spacingAndGlyphs">39</text>
<line x1="281.70" y1="183.42" x2="285.00" y2="183.42" stroke="#1a1a1a" stroke-width="1.2"/>
<text x="280.50" y="185.92" font-size="6.8" text-anchor="end" fill="#2a2a2a" stroke="#2a2a2a" stroke-width="0.25" textLength="5.90" lengthAdjust="spacingAndGlyphs">40</text>
<line x1="281.70" y1="165.00" x2="285.00" y2="165.00" stroke="#1a1a1a" stroke-width="1.2"/>
<text x="280.50" y="167.50" font-size="6.8" text-anchor="end" fill="#2a2a2a" stroke="#2a2a2a" stroke-width="0.25" textLength="5.90" lengthAdjust="spacingAndGlyphs">41</text>
<line x1="285.00" y1="257.10" x2="285.00" y2="260.30" stroke="#1a1a1a" stroke-width="1.2"/>
<text x="284.00" y="267.50" font-size="6.8" text-anchor="middle" fill="#2a2a2a" stroke="#2a2a2a" stroke-width="0.25" textLength="8.20" lengthAdjust="spacingAndGlyphs">-10</text>
<line x1="300.70" y1="257.10" x2="300.70" y2="260.30" stroke="#1a1a1a" stroke-width="1.2"/>
<text x="299.70" y="267.50" font-size="6.8" text-anchor="middle" fill="#2a2a2a" stroke="#2a2a2a" stroke-width="0.25" textLength="5.25" lengthAdjust="spacingAndGlyphs">-5</text>
<line x1="316.40" y1="257.10" x2="316.40" y2="260.30" stroke="#1a1a1a" stroke-width="1.2"/>
<text x="316.40" y="267.50" font-size="6.8" text-anchor="middle" fill="#2a2a2a" stroke="#2a2a2a" stroke-width="0.25" textLength="2.95" lengthAdjust="spacingAndGlyphs">0</text>
<line x1="332.40" y1="257.10" x2="332.40" y2="260.30" stroke="#1a1a1a" stroke-width="1.2"/>
<text x="332.40" y="267.50" font-size="6.8" text-anchor="middle" fill="#2a2a2a" stroke="#2a2a2a" stroke-width="0.25" textLength="2.95" lengthAdjust="spacingAndGlyphs">5</text>
<line x1="348.40" y1="257.10" x2="348.40" y2="260.30" stroke="#1a1a1a" stroke-width="1.2"/>
<text x="348.40" y="267.50" font-size="6.8" text-anchor="middle" fill="#2a2a2a" stroke="#2a2a2a" stroke-width="0.25" textLength="5.90" lengthAdjust="spacingAndGlyphs">10</text>
<line x1="364.40" y1="257.10" x2="364.40" y2="260.30" stroke="#1a1a1a" stroke-width="1.2"/>
<text x="364.40" y="267.50" font-size="6.8" text-anchor="middle" fill="#2a2a2a" stroke="#2a2a2a" stroke-width="0.25" textLength="5.90" lengthAdjust="spacingAndGlyphs">15</text>
<line x1="380.40" y1="257.10" x2="380.40" y2="260.30" stroke="#1a1a1a" stroke-width="1.2"/>
<text x="380.40" y="267.50" font-size="6.8" text-anchor="middle" fill="#2a2a2a" stroke="#2a2a2a" stroke-width="0.25" textLength="5.90" lengthAdjust="spacingAndGlyphs">20</text>
<text x="332.70" y="277.10" font-size="7.9" text-anchor="middle" fill="#2a2a2a" stroke="#2a2a2a" stroke-width="0.3" textLength="68.40" lengthAdjust="spacingAndGlyphs">Day relative to CRS onset</text>
<text transform="translate(269.90,210.90) rotate(-90)" font-size="7.9" text-anchor="middle" fill="#2a2a2a" stroke="#2a2a2a" stroke-width="0.3" textLength="46.90" lengthAdjust="spacingAndGlyphs">Temperature (°C)</text>
<text x="260.50" y="160.80" font-size="11.6" font-weight="bold" fill="#000">E</text>
<rect x="324.80" y="164.10" width="1.8" height="1.8" fill="#333"/>
<rect x="334.40" y="164.10" width="1.8" height="1.8" fill="#333"/>
<polygon points="415.70,242.69 418.76,234.04 421.82,240.77 424.88,241.73 427.94,243.65 431.00,243.65 434.06,243.65 437.12,243.27 440.18,244.04 443.24,242.69 446.30,240.19 449.35,235.67 452.39,230.19 455.44,215.77 458.48,211.54 461.52,212.88 464.57,218.27 467.62,222.12 470.66,223.46 473.70,225.38 476.75,227.31 479.80,229.81 482.84,234.42 485.88,232.50 488.93,233.08 491.98,228.85 495.02,233.46 498.06,237.31 501.11,237.31 504.15,235.00 507.20,235.77 507.20,246.54 504.15,245.77 501.11,248.08 498.06,248.08 495.02,244.23 491.98,238.46 488.93,242.69 485.88,242.12 482.84,244.04 479.80,238.27 476.75,235.77 473.70,233.85 470.66,231.92 467.62,230.58 464.57,226.73 461.52,224.42 458.48,223.08 455.44,227.31 452.39,235.96 449.35,240.10 446.30,243.27 443.24,246.54 440.18,247.88 437.12,247.12 434.06,247.50 431.00,247.50 427.94,247.50 424.88,245.58 421.82,244.62 418.76,243.65 415.70,248.46" fill="#d3e1ee" fill-opacity="0.95" stroke="#b3c9de" stroke-width="0.7" stroke-opacity="0.85"/>
<polygon points="415.70,240.77 418.76,244.62 421.82,244.62 424.88,242.69 427.94,242.31 431.00,242.69 434.06,242.69 437.12,242.69 440.18,245.00 443.24,244.23 446.30,240.77 449.35,228.27 452.39,214.81 455.44,196.15 458.48,185.96 461.52,185.00 464.57,184.04 467.62,174.81 470.66,183.08 473.70,197.45 476.75,189.33 479.80,202.74 482.84,207.88 485.88,213.03 488.93,202.60 491.98,211.01 495.02,225.00 498.06,213.99 501.11,217.79 504.15,216.20 507.20,218.46 507.20,236.92 504.15,234.57 501.11,236.06 498.06,232.16 495.02,243.08 491.98,228.99 488.93,220.48 485.88,230.82 482.84,225.58 479.80,220.34 476.75,206.83 473.70,214.86 470.66,200.38 467.62,192.12 464.57,201.35 461.52,202.31 458.48,203.27 455.44,211.54 452.39,226.35 449.35,235.96 446.30,244.62 443.24,248.08 440.18,248.85 437.12,246.54 434.06,246.54 431.00,246.54 427.94,246.15 424.88,246.54 421.82,248.46 418.76,248.46 415.70,244.62" fill="#f5cdd6" fill-opacity="0.8" stroke="#eba9b8" stroke-width="0.7" stroke-opacity="0.85"/>
<polyline points="415.70,245.58 418.76,238.85 421.82,242.69 424.88,243.65 427.94,245.58 431.00,245.58 434.06,245.58 437.12,245.19 440.18,245.96 443.24,244.62 446.30,241.73 449.35,237.88 452.39,233.08 455.44,221.54 458.48,217.31 461.52,218.65 464.57,222.50 467.62,226.35 470.66,227.69 473.70,229.62 476.75,231.54 479.80,234.04 482.84,239.23 485.88,237.31 488.93,237.88 491.98,233.65 495.02,238.85 498.06,242.69 501.11,242.69 504.15,240.38 507.20,241.15" fill="none" stroke="#3a76ad" stroke-width="0.95" stroke-linejoin="round"/>
<circle cx="415.70" cy="245.58" r="1.05" fill="#0c3b6e"/>
<circle cx="418.76" cy="238.85" r="1.05" fill="#0c3b6e"/>
<circle cx="421.82" cy="242.69" r="1.05" fill="#0c3b6e"/>
<circle cx="424.88" cy="243.65" r="1.05" fill="#0c3b6e"/>
<circle cx="427.94" cy="245.58" r="1.05" fill="#0c3b6e"/>
<circle cx="431.00" cy="245.58" r="1.05" fill="#0c3b6e"/>
<circle cx="434.06" cy="245.58" r="1.05" fill="#0c3b6e"/>
<circle cx="437.12" cy="245.19" r="1.05" fill="#0c3b6e"/>
<circle cx="440.18" cy="245.96" r="1.05" fill="#0c3b6e"/>
<circle cx="443.24" cy="244.62" r="1.05" fill="#0c3b6e"/>
<circle cx="446.30" cy="241.73" r="1.05" fill="#0c3b6e"/>
<circle cx="449.35" cy="237.88" r="1.05" fill="#0c3b6e"/>
<circle cx="452.39" cy="233.08" r="1.05" fill="#0c3b6e"/>
<circle cx="455.44" cy="221.54" r="1.05" fill="#0c3b6e"/>
<circle cx="458.48" cy="217.31" r="1.05" fill="#0c3b6e"/>
<circle cx="461.52" cy="218.65" r="1.05" fill="#0c3b6e"/>
<circle cx="464.57" cy="222.50" r="1.05" fill="#0c3b6e"/>
<circle cx="467.62" cy="226.35" r="1.05" fill="#0c3b6e"/>
<circle cx="470.66" cy="227.69" r="1.05" fill="#0c3b6e"/>
<circle cx="473.70" cy="229.62" r="1.05" fill="#0c3b6e"/>
<circle cx="476.75" cy="231.54" r="1.05" fill="#0c3b6e"/>
<circle cx="479.80" cy="234.04" r="1.05" fill="#0c3b6e"/>
<circle cx="482.84" cy="239.23" r="1.05" fill="#0c3b6e"/>
<circle cx="485.88" cy="237.31" r="1.05" fill="#0c3b6e"/>
<circle cx="488.93" cy="237.88" r="1.05" fill="#0c3b6e"/>
<circle cx="491.98" cy="233.65" r="1.05" fill="#0c3b6e"/>
<circle cx="495.02" cy="238.85" r="1.05" fill="#0c3b6e"/>
<circle cx="498.06" cy="242.69" r="1.05" fill="#0c3b6e"/>
<circle cx="501.11" cy="242.69" r="1.05" fill="#0c3b6e"/>
<circle cx="504.15" cy="240.38" r="1.05" fill="#0c3b6e"/>
<circle cx="507.20" cy="241.15" r="1.05" fill="#0c3b6e"/>
<polyline points="415.70,242.69 418.76,246.54 421.82,246.54 424.88,244.62 427.94,244.23 431.00,244.62 434.06,244.62 437.12,244.62 440.18,246.92 443.24,246.15 446.30,242.69 449.35,232.12 452.39,220.58 455.44,203.85 458.48,194.62 461.52,193.65 464.57,192.69 467.62,183.46 470.66,191.73 473.70,206.15 476.75,198.08 479.80,211.54 482.84,216.73 485.88,221.92 488.93,211.54 491.98,220.00 495.02,234.04 498.06,223.08 501.11,226.92 504.15,225.38 507.20,227.69" fill="none" stroke="#d22c51" stroke-width="0.95" stroke-linejoin="round"/>
<circle cx="415.70" cy="242.69" r="1.05" fill="#b80d33"/>
<circle cx="418.76" cy="246.54" r="1.05" fill="#b80d33"/>
<circle cx="421.82" cy="246.54" r="1.05" fill="#b80d33"/>
<circle cx="424.88" cy="244.62" r="1.05" fill="#b80d33"/>
<circle cx="427.94" cy="244.23" r="1.05" fill="#b80d33"/>
<circle cx="431.00" cy="244.62" r="1.05" fill="#b80d33"/>
<circle cx="434.06" cy="244.62" r="1.05" fill="#b80d33"/>
<circle cx="437.12" cy="244.62" r="1.05" fill="#b80d33"/>
<circle cx="440.18" cy="246.92" r="1.05" fill="#b80d33"/>
<circle cx="443.24" cy="246.15" r="1.05" fill="#b80d33"/>
<circle cx="446.30" cy="242.69" r="1.05" fill="#b80d33"/>
<circle cx="449.35" cy="232.12" r="1.05" fill="#b80d33"/>
<circle cx="452.39" cy="220.58" r="1.05" fill="#b80d33"/>
<circle cx="455.44" cy="203.85" r="1.05" fill="#b80d33"/>
<circle cx="458.48" cy="194.62" r="1.05" fill="#b80d33"/>
<circle cx="461.52" cy="193.65" r="1.05" fill="#b80d33"/>
<circle cx="464.57" cy="192.69" r="1.05" fill="#b80d33"/>
<circle cx="467.62" cy="183.46" r="1.05" fill="#b80d33"/>
<circle cx="470.66" cy="191.73" r="1.05" fill="#b80d33"/>
<circle cx="473.70" cy="206.15" r="1.05" fill="#b80d33"/>
<circle cx="476.75" cy="198.08" r="1.05" fill="#b80d33"/>
<circle cx="479.80" cy="211.54" r="1.05" fill="#b80d33"/>
<circle cx="482.84" cy="216.73" r="1.05" fill="#b80d33"/>
<circle cx="485.88" cy="221.92" r="1.05" fill="#b80d33"/>
<circle cx="488.93" cy="211.54" r="1.05" fill="#b80d33"/>
<circle cx="491.98" cy="220.00" r="1.05" fill="#b80d33"/>
<circle cx="495.02" cy="234.04" r="1.05" fill="#b80d33"/>
<circle cx="498.06" cy="223.08" r="1.05" fill="#b80d33"/>
<circle cx="501.11" cy="226.92" r="1.05" fill="#b80d33"/>
<circle cx="504.15" cy="225.38" r="1.05" fill="#b80d33"/>
<circle cx="507.20" cy="227.69" r="1.05" fill="#b80d33"/>
<line x1="446.30" y1="168.0" x2="446.30" y2="257.0" stroke="#1a1a1a" stroke-width="1.2" stroke-dasharray="3,1.5"/>
<path d="M415.70,167.50 V257.00 H507.70" fill="none" stroke="#1a1a1a" stroke-width="1.6"/>
<line x1="412.40" y1="257.00" x2="415.70" y2="257.00" stroke="#1a1a1a" stroke-width="1.2"/>
<text x="411.20" y="259.50" font-size="6.8" text-anchor="end" fill="#2a2a2a" stroke="#2a2a2a" stroke-width="0.25" textLength="2.95" lengthAdjust="spacingAndGlyphs">0</text>
<line x1="412.40" y1="245.88" x2="415.70" y2="245.88" stroke="#1a1a1a" stroke-width="1.2"/>
<text x="411.20" y="248.38" font-size="6.8" text-anchor="end" fill="#2a2a2a" stroke="#2a2a2a" stroke-width="0.25" textLength="8.85" lengthAdjust="spacingAndGlyphs">250</text>
<line x1="412.40" y1="234.75" x2="415.70" y2="234.75" stroke="#1a1a1a" stroke-width="1.2"/>
<text x="411.20" y="237.25" font-size="6.8" text-anchor="end" fill="#2a2a2a" stroke="#2a2a2a" stroke-width="0.25" textLength="8.85" lengthAdjust="spacingAndGlyphs">500</text>
<line x1="412.40" y1="223.62" x2="415.70" y2="223.62" stroke="#1a1a1a" stroke-width="1.2"/>
<text x="411.20" y="226.12" font-size="6.8" text-anchor="end" fill="#2a2a2a" stroke="#2a2a2a" stroke-width="0.25" textLength="8.85" lengthAdjust="spacingAndGlyphs">750</text>
<line x1="412.40" y1="212.50" x2="415.70" y2="212.50" stroke="#1a1a1a" stroke-width="1.2"/>
<text x="411.20" y="215.00" font-size="6.8" text-anchor="end" fill="#2a2a2a" stroke="#2a2a2a" stroke-width="0.25" textLength="11.80" lengthAdjust="spacingAndGlyphs">1000</text>
<line x1="412.40" y1="201.38" x2="415.70" y2="201.38" stroke="#1a1a1a" stroke-width="1.2"/>
<text x="411.20" y="203.88" font-size="6.8" text-anchor="end" fill="#2a2a2a" stroke="#2a2a2a" stroke-width="0.25" textLength="11.80" lengthAdjust="spacingAndGlyphs">1250</text>
<line x1="412.40" y1="190.25" x2="415.70" y2="190.25" stroke="#1a1a1a" stroke-width="1.2"/>
<text x="411.20" y="192.75" font-size="6.8" text-anchor="end" fill="#2a2a2a" stroke="#2a2a2a" stroke-width="0.25" textLength="11.80" lengthAdjust="spacingAndGlyphs">1500</text>
<line x1="412.40" y1="179.12" x2="415.70" y2="179.12" stroke="#1a1a1a" stroke-width="1.2"/>
<text x="411.20" y="181.62" font-size="6.8" text-anchor="end" fill="#2a2a2a" stroke="#2a2a2a" stroke-width="0.25" textLength="11.80" lengthAdjust="spacingAndGlyphs">1750</text>
<line x1="412.40" y1="168.00" x2="415.70" y2="168.00" stroke="#1a1a1a" stroke-width="1.2"/>
<text x="411.20" y="170.50" font-size="6.8" text-anchor="end" fill="#2a2a2a" stroke="#2a2a2a" stroke-width="0.25" textLength="11.80" lengthAdjust="spacingAndGlyphs">2000</text>
<line x1="415.70" y1="257.00" x2="415.70" y2="260.20" stroke="#1a1a1a" stroke-width="1.2"/>
<text x="414.70" y="267.40" font-size="6.8" text-anchor="middle" fill="#2a2a2a" stroke="#2a2a2a" stroke-width="0.25" textLength="8.20" lengthAdjust="spacingAndGlyphs">-10</text>
<line x1="431.00" y1="257.00" x2="431.00" y2="260.20" stroke="#1a1a1a" stroke-width="1.2"/>
<text x="430.00" y="267.40" font-size="6.8" text-anchor="middle" fill="#2a2a2a" stroke="#2a2a2a" stroke-width="0.25" textLength="5.25" lengthAdjust="spacingAndGlyphs">-5</text>
<line x1="446.30" y1="257.00" x2="446.30" y2="260.20" stroke="#1a1a1a" stroke-width="1.2"/>
<text x="446.30" y="267.40" font-size="6.8" text-anchor="middle" fill="#2a2a2a" stroke="#2a2a2a" stroke-width="0.25" textLength="2.95" lengthAdjust="spacingAndGlyphs">0</text>
<line x1="461.52" y1="257.00" x2="461.52" y2="260.20" stroke="#1a1a1a" stroke-width="1.2"/>
<text x="461.52" y="267.40" font-size="6.8" text-anchor="middle" fill="#2a2a2a" stroke="#2a2a2a" stroke-width="0.25" textLength="2.95" lengthAdjust="spacingAndGlyphs">5</text>
<line x1="476.75" y1="257.00" x2="476.75" y2="260.20" stroke="#1a1a1a" stroke-width="1.2"/>
<text x="476.75" y="267.40" font-size="6.8" text-anchor="middle" fill="#2a2a2a" stroke="#2a2a2a" stroke-width="0.25" textLength="5.90" lengthAdjust="spacingAndGlyphs">10</text>
<line x1="491.98" y1="257.00" x2="491.98" y2="260.20" stroke="#1a1a1a" stroke-width="1.2"/>
<text x="491.98" y="267.40" font-size="6.8" text-anchor="middle" fill="#2a2a2a" stroke="#2a2a2a" stroke-width="0.25" textLength="5.90" lengthAdjust="spacingAndGlyphs">15</text>
<line x1="507.20" y1="257.00" x2="507.20" y2="260.20" stroke="#1a1a1a" stroke-width="1.2"/>
<text x="507.20" y="267.40" font-size="6.8" text-anchor="middle" fill="#2a2a2a" stroke="#2a2a2a" stroke-width="0.25" textLength="5.90" lengthAdjust="spacingAndGlyphs">20</text>
<text x="461.45" y="277.00" font-size="7.9" text-anchor="middle" fill="#2a2a2a" stroke="#2a2a2a" stroke-width="0.3" textLength="68.40" lengthAdjust="spacingAndGlyphs">Day relative to CRS onset</text>
<text transform="translate(396.30,212.40) rotate(-90)" font-size="7.9" text-anchor="middle" fill="#2a2a2a" stroke="#2a2a2a" stroke-width="0.3" textLength="57.40" lengthAdjust="spacingAndGlyphs">Total LDH levels (U/L)</text>
<text x="391.50" y="160.80" font-size="11.6" font-weight="bold" fill="#000">F</text>
<rect x="417.90" y="168.00" width="1.8" height="1.8" fill="#333"/>
<rect x="456.90" y="168.00" width="1.8" height="1.8" fill="#333"/>
<rect x="460.27" y="168.00" width="1.8" height="1.8" fill="#333"/>
<rect x="463.64" y="168.00" width="1.8" height="1.8" fill="#333"/>
<rect x="467.01" y="168.00" width="1.8" height="1.8" fill="#333"/>
<rect x="470.38" y="168.00" width="1.8" height="1.8" fill="#333"/>
<rect x="473.75" y="168.00" width="1.8" height="1.8" fill="#333"/>
<rect x="477.12" y="168.00" width="1.8" height="1.8" fill="#333"/>
<rect x="480.49" y="168.00" width="1.8" height="1.8" fill="#333"/>
<rect x="483.86" y="168.00" width="1.8" height="1.8" fill="#333"/>
<rect x="487.23" y="168.00" width="1.8" height="1.8" fill="#333"/>
<rect x="490.60" y="168.00" width="1.8" height="1.8" fill="#333"/>
<rect x="497.80" y="168.00" width="1.8" height="1.8" fill="#333"/>
<rect x="501.20" y="168.00" width="1.8" height="1.8" fill="#333"/>
<polygon points="28.70,373.15 31.82,374.69 34.94,374.69 38.06,373.15 41.18,375.65 44.30,376.23 47.42,377.00 50.54,377.77 53.66,377.58 56.78,377.77 59.90,378.54 62.99,377.53 66.09,376.52 69.19,376.09 72.28,376.04 75.38,377.34 78.47,376.33 81.56,375.51 84.66,374.31 87.75,373.06 90.85,371.81 93.94,370.94 97.04,370.46 100.13,371.13 103.23,369.12 106.32,370.11 109.42,369.18 112.51,368.25 115.61,367.32 118.70,370.24 121.80,368.54 121.80,376.23 118.70,377.61 115.61,374.37 112.51,374.98 109.42,375.59 106.32,376.20 103.23,374.88 100.13,376.71 97.04,375.85 93.94,376.13 90.85,376.81 87.75,377.87 84.66,378.92 81.56,380.03 78.47,380.75 75.38,381.66 72.28,380.27 69.19,380.22 66.09,380.56 62.99,381.47 59.90,382.38 56.78,381.62 53.66,381.42 50.54,381.62 47.42,380.85 44.30,380.08 41.18,379.50 38.06,377.00 34.94,378.54 31.82,378.54 28.70,377.00" fill="#d3e1ee" fill-opacity="0.95" stroke="#b3c9de" stroke-width="0.7" stroke-opacity="0.85"/>
<polygon points="28.70,371.23 31.82,374.69 34.94,375.85 38.06,376.23 41.18,376.23 44.30,376.23 47.42,376.62 50.54,377.77 53.66,377.58 56.78,377.58 59.90,377.77 62.99,375.85 66.09,374.69 69.19,372.77 72.28,368.06 75.38,361.81 78.47,354.50 81.56,348.35 84.66,341.62 87.75,343.54 90.85,340.85 93.94,344.31 97.04,348.54 100.13,344.50 103.23,343.92 106.32,344.31 109.42,342.38 112.51,339.31 115.61,335.85 118.70,333.35 121.80,325.08 121.80,348.15 118.70,352.58 115.61,351.23 112.51,350.85 109.42,353.92 106.32,355.85 103.23,355.46 100.13,355.65 97.04,359.31 93.94,355.08 90.85,351.62 87.75,354.31 84.66,352.38 81.56,357.96 78.47,362.19 75.38,367.58 72.28,372.87 69.19,376.62 66.09,378.54 62.99,379.69 59.90,381.62 56.78,381.42 53.66,381.42 50.54,381.62 47.42,380.46 44.30,380.08 41.18,380.08 38.06,380.08 34.94,379.69 31.82,378.54 28.70,375.08" fill="#f5cdd6" fill-opacity="0.8" stroke="#eba9b8" stroke-width="0.7" stroke-opacity="0.85"/>
<polyline points="28.70,375.08 31.82,376.62 34.94,376.62 38.06,375.08 41.18,377.58 44.30,378.15 47.42,378.92 50.54,379.69 53.66,379.50 56.78,379.69 59.90,380.46 62.99,379.50 66.09,378.54 69.19,378.15 72.28,378.15 75.38,379.50 78.47,378.54 81.56,377.77 84.66,376.62 87.75,375.46 90.85,374.31 93.94,373.54 97.04,373.15 100.13,373.92 103.23,372.00 106.32,373.15 109.42,372.38 112.51,371.62 115.61,370.85 118.70,373.92 121.80,372.38" fill="none" stroke="#3a76ad" stroke-width="0.95" stroke-linejoin="round"/>
<circle cx="28.70" cy="375.08" r="1.05" fill="#0c3b6e"/>
<circle cx="31.82" cy="376.62" r="1.05" fill="#0c3b6e"/>
<circle cx="34.94" cy="376.62" r="1.05" fill="#0c3b6e"/>
<circle cx="38.06" cy="375.08" r="1.05" fill="#0c3b6e"/>
<circle cx="41.18" cy="377.58" r="1.05" fill="#0c3b6e"/>
<circle cx="44.30" cy="378.15" r="1.05" fill="#0c3b6e"/>
<circle cx="47.42" cy="378.92" r="1.05" fill="#0c3b6e"/>
<circle cx="50.54" cy="379.69" r="1.05" fill="#0c3b6e"/>
<circle cx="53.66" cy="379.50" r="1.05" fill="#0c3b6e"/>
<circle cx="56.78" cy="379.69" r="1.05" fill="#0c3b6e"/>
<circle cx="59.90" cy="380.46" r="1.05" fill="#0c3b6e"/>
<circle cx="62.99" cy="379.50" r="1.05" fill="#0c3b6e"/>
<circle cx="66.09" cy="378.54" r="1.05" fill="#0c3b6e"/>
<circle cx="69.19" cy="378.15" r="1.05" fill="#0c3b6e"/>
<circle cx="72.28" cy="378.15" r="1.05" fill="#0c3b6e"/>
<circle cx="75.38" cy="379.50" r="1.05" fill="#0c3b6e"/>
<circle cx="78.47" cy="378.54" r="1.05" fill="#0c3b6e"/>
<circle cx="81.56" cy="377.77" r="1.05" fill="#0c3b6e"/>
<circle cx="84.66" cy="376.62" r="1.05" fill="#0c3b6e"/>
<circle cx="87.75" cy="375.46" r="1.05" fill="#0c3b6e"/>
<circle cx="90.85" cy="374.31" r="1.05" fill="#0c3b6e"/>
<circle cx="93.94" cy="373.54" r="1.05" fill="#0c3b6e"/>
<circle cx="97.04" cy="373.15" r="1.05" fill="#0c3b6e"/>
<circle cx="100.13" cy="373.92" r="1.05" fill="#0c3b6e"/>
<circle cx="103.23" cy="372.00" r="1.05" fill="#0c3b6e"/>
<circle cx="106.32" cy="373.15" r="1.05" fill="#0c3b6e"/>
<circle cx="109.42" cy="372.38" r="1.05" fill="#0c3b6e"/>
<circle cx="112.51" cy="371.62" r="1.05" fill="#0c3b6e"/>
<circle cx="115.61" cy="370.85" r="1.05" fill="#0c3b6e"/>
<circle cx="118.70" cy="373.92" r="1.05" fill="#0c3b6e"/>
<circle cx="121.80" cy="372.38" r="1.05" fill="#0c3b6e"/>
<polyline points="28.70,373.15 31.82,376.62 34.94,377.77 38.06,378.15 41.18,378.15 44.30,378.15 47.42,378.54 50.54,379.69 53.66,379.50 56.78,379.50 59.90,379.69 62.99,377.77 66.09,376.62 69.19,374.69 72.28,370.46 75.38,364.69 78.47,358.35 81.56,353.15 84.66,347.00 87.75,348.92 90.85,346.23 93.94,349.69 97.04,353.92 100.13,350.08 103.23,349.69 106.32,350.08 109.42,348.15 112.51,345.08 115.61,343.54 118.70,342.96 121.80,336.62" fill="none" stroke="#d22c51" stroke-width="0.95" stroke-linejoin="round"/>
<circle cx="28.70" cy="373.15" r="1.05" fill="#b80d33"/>
<circle cx="31.82" cy="376.62" r="1.05" fill="#b80d33"/>
<circle cx="34.94" cy="377.77" r="1.05" fill="#b80d33"/>
<circle cx="38.06" cy="378.15" r="1.05" fill="#b80d33"/>
<circle cx="41.18" cy="378.15" r="1.05" fill="#b80d33"/>
<circle cx="44.30" cy="378.15" r="1.05" fill="#b80d33"/>
<circle cx="47.42" cy="378.54" r="1.05" fill="#b80d33"/>
<circle cx="50.54" cy="379.69" r="1.05" fill="#b80d33"/>
<circle cx="53.66" cy="379.50" r="1.05" fill="#b80d33"/>
<circle cx="56.78" cy="379.50" r="1.05" fill="#b80d33"/>
<circle cx="59.90" cy="379.69" r="1.05" fill="#b80d33"/>
<circle cx="62.99" cy="377.77" r="1.05" fill="#b80d33"/>
<circle cx="66.09" cy="376.62" r="1.05" fill="#b80d33"/>
<circle cx="69.19" cy="374.69" r="1.05" fill="#b80d33"/>
<circle cx="72.28" cy="370.46" r="1.05" fill="#b80d33"/>
<circle cx="75.38" cy="364.69" r="1.05" fill="#b80d33"/>
<circle cx="78.47" cy="358.35" r="1.05" fill="#b80d33"/>
<circle cx="81.56" cy="353.15" r="1.05" fill="#b80d33"/>
<circle cx="84.66" cy="347.00" r="1.05" fill="#b80d33"/>
<circle cx="87.75" cy="348.92" r="1.05" fill="#b80d33"/>
<circle cx="90.85" cy="346.23" r="1.05" fill="#b80d33"/>
<circle cx="93.94" cy="349.69" r="1.05" fill="#b80d33"/>
<circle cx="97.04" cy="353.92" r="1.05" fill="#b80d33"/>
<circle cx="100.13" cy="350.08" r="1.05" fill="#b80d33"/>
<circle cx="103.23" cy="349.69" r="1.05" fill="#b80d33"/>
<circle cx="106.32" cy="350.08" r="1.05" fill="#b80d33"/>
<circle cx="109.42" cy="348.15" r="1.05" fill="#b80d33"/>
<circle cx="112.51" cy="345.08" r="1.05" fill="#b80d33"/>
<circle cx="115.61" cy="343.54" r="1.05" fill="#b80d33"/>
<circle cx="118.70" cy="342.96" r="1.05" fill="#b80d33"/>
<circle cx="121.80" cy="336.62" r="1.05" fill="#b80d33"/>
<line x1="59.90" y1="298.2" x2="59.90" y2="387.0" stroke="#1a1a1a" stroke-width="1.2" stroke-dasharray="3,1.5"/>
<path d="M28.70,297.70 V387.00 H122.30" fill="none" stroke="#1a1a1a" stroke-width="1.6"/>
<line x1="25.40" y1="387.00" x2="28.70" y2="387.00" stroke="#1a1a1a" stroke-width="1.2"/>
<text x="24.20" y="389.50" font-size="6.8" text-anchor="end" fill="#2a2a2a" stroke="#2a2a2a" stroke-width="0.25" textLength="2.95" lengthAdjust="spacingAndGlyphs">0</text>
<line x1="25.40" y1="375.90" x2="28.70" y2="375.90" stroke="#1a1a1a" stroke-width="1.2"/>
<text x="24.20" y="378.40" font-size="6.8" text-anchor="end" fill="#2a2a2a" stroke="#2a2a2a" stroke-width="0.25" textLength="5.90" lengthAdjust="spacingAndGlyphs">50</text>
<line x1="25.40" y1="364.80" x2="28.70" y2="364.80" stroke="#1a1a1a" stroke-width="1.2"/>
<text x="24.20" y="367.30" font-size="6.8" text-anchor="end" fill="#2a2a2a" stroke="#2a2a2a" stroke-width="0.25" textLength="8.85" lengthAdjust="spacingAndGlyphs">100</text>
<line x1="25.40" y1="353.70" x2="28.70" y2="353.70" stroke="#1a1a1a" stroke-width="1.2"/>
<text x="24.20" y="356.20" font-size="6.8" text-anchor="end" fill="#2a2a2a" stroke="#2a2a2a" stroke-width="0.25" textLength="8.85" lengthAdjust="spacingAndGlyphs">150</text>
<line x1="25.40" y1="342.60" x2="28.70" y2="342.60" stroke="#1a1a1a" stroke-width="1.2"/>
<text x="24.20" y="345.10" font-size="6.8" text-anchor="end" fill="#2a2a2a" stroke="#2a2a2a" stroke-width="0.25" textLength="8.85" lengthAdjust="spacingAndGlyphs">200</text>
<line x1="25.40" y1="331.50" x2="28.70" y2="331.50" stroke="#1a1a1a" stroke-width="1.2"/>
<text x="24.20" y="334.00" font-size="6.8" text-anchor="end" fill="#2a2a2a" stroke="#2a2a2a" stroke-width="0.25" textLength="8.85" lengthAdjust="spacingAndGlyphs">250</text>
<line x1="25.40" y1="320.40" x2="28.70" y2="320.40" stroke="#1a1a1a" stroke-width="1.2"/>
<text x="24.20" y="322.90" font-size="6.8" text-anchor="end" fill="#2a2a2a" stroke="#2a2a2a" stroke-width="0.25" textLength="8.85" lengthAdjust="spacingAndGlyphs">300</text>
<line x1="25.40" y1="309.30" x2="28.70" y2="309.30" stroke="#1a1a1a" stroke-width="1.2"/>
<text x="24.20" y="311.80" font-size="6.8" text-anchor="end" fill="#2a2a2a" stroke="#2a2a2a" stroke-width="0.25" textLength="8.85" lengthAdjust="spacingAndGlyphs">350</text>
<line x1="25.40" y1="298.20" x2="28.70" y2="298.20" stroke="#1a1a1a" stroke-width="1.2"/>
<text x="24.20" y="300.70" font-size="6.8" text-anchor="end" fill="#2a2a2a" stroke="#2a2a2a" stroke-width="0.25" textLength="8.85" lengthAdjust="spacingAndGlyphs">400</text>
<line x1="28.70" y1="387.00" x2="28.70" y2="390.20" stroke="#1a1a1a" stroke-width="1.2"/>
<text x="27.70" y="397.40" font-size="6.8" text-anchor="middle" fill="#2a2a2a" stroke="#2a2a2a" stroke-width="0.25" textLength="8.20" lengthAdjust="spacingAndGlyphs">-10</text>
<line x1="44.30" y1="387.00" x2="44.30" y2="390.20" stroke="#1a1a1a" stroke-width="1.2"/>
<text x="43.30" y="397.40" font-size="6.8" text-anchor="middle" fill="#2a2a2a" stroke="#2a2a2a" stroke-width="0.25" textLength="5.25" lengthAdjust="spacingAndGlyphs">-5</text>
<line x1="59.90" y1="387.00" x2="59.90" y2="390.20" stroke="#1a1a1a" stroke-width="1.2"/>
<text x="59.90" y="397.40" font-size="6.8" text-anchor="middle" fill="#2a2a2a" stroke="#2a2a2a" stroke-width="0.25" textLength="2.95" lengthAdjust="spacingAndGlyphs">0</text>
<line x1="75.38" y1="387.00" x2="75.38" y2="390.20" stroke="#1a1a1a" stroke-width="1.2"/>
<text x="75.38" y="397.40" font-size="6.8" text-anchor="middle" fill="#2a2a2a" stroke="#2a2a2a" stroke-width="0.25" textLength="2.95" lengthAdjust="spacingAndGlyphs">5</text>
<line x1="90.85" y1="387.00" x2="90.85" y2="390.20" stroke="#1a1a1a" stroke-width="1.2"/>
<text x="90.85" y="397.40" font-size="6.8" text-anchor="middle" fill="#2a2a2a" stroke="#2a2a2a" stroke-width="0.25" textLength="5.90" lengthAdjust="spacingAndGlyphs">10</text>
<line x1="106.32" y1="387.00" x2="106.32" y2="390.20" stroke="#1a1a1a" stroke-width="1.2"/>
<text x="106.32" y="397.40" font-size="6.8" text-anchor="middle" fill="#2a2a2a" stroke="#2a2a2a" stroke-width="0.25" textLength="5.90" lengthAdjust="spacingAndGlyphs">15</text>
<line x1="121.80" y1="387.00" x2="121.80" y2="390.20" stroke="#1a1a1a" stroke-width="1.2"/>
<text x="121.80" y="397.40" font-size="6.8" text-anchor="middle" fill="#2a2a2a" stroke="#2a2a2a" stroke-width="0.25" textLength="5.90" lengthAdjust="spacingAndGlyphs">20</text>
<text x="75.25" y="407.00" font-size="7.9" text-anchor="middle" fill="#2a2a2a" stroke="#2a2a2a" stroke-width="0.3" textLength="68.40" lengthAdjust="spacingAndGlyphs">Day relative to CRS onset</text>
<text transform="translate(12.40,341.90) rotate(-90)" font-size="7.9" text-anchor="middle" fill="#2a2a2a" stroke="#2a2a2a" stroke-width="0.3" textLength="42.30" lengthAdjust="spacingAndGlyphs">ALT levels (U/L)</text>
<text x="6.20" y="292.00" font-size="11.6" font-weight="bold" fill="#000">G</text>
<rect x="67.40" y="304.50" width="1.8" height="1.8" fill="#333"/>
<rect x="70.76" y="304.50" width="1.8" height="1.8" fill="#333"/>
<rect x="74.12" y="304.50" width="1.8" height="1.8" fill="#333"/>
<rect x="77.48" y="304.50" width="1.8" height="1.8" fill="#333"/>
<rect x="80.84" y="304.50" width="1.8" height="1.8" fill="#333"/>
<rect x="84.19" y="304.50" width="1.8" height="1.8" fill="#333"/>
<rect x="87.55" y="304.50" width="1.8" height="1.8" fill="#333"/>
<rect x="90.91" y="304.50" width="1.8" height="1.8" fill="#333"/>
<rect x="94.27" y="304.50" width="1.8" height="1.8" fill="#333"/>
<rect x="97.63" y="304.50" width="1.8" height="1.8" fill="#333"/>
<rect x="100.99" y="304.50" width="1.8" height="1.8" fill="#333"/>
<rect x="104.35" y="304.50" width="1.8" height="1.8" fill="#333"/>
<rect x="107.71" y="304.50" width="1.8" height="1.8" fill="#333"/>
<rect x="111.06" y="304.50" width="1.8" height="1.8" fill="#333"/>
<rect x="114.42" y="304.50" width="1.8" height="1.8" fill="#333"/>
<rect x="117.78" y="304.50" width="1.8" height="1.8" fill="#333"/>
<rect x="121.14" y="304.50" width="1.8" height="1.8" fill="#333"/>
<rect x="124.50" y="304.50" width="1.8" height="1.8" fill="#333"/>
<polygon points="157.70,380.46 160.83,380.46 163.96,380.27 167.09,379.31 170.22,381.23 173.35,381.62 176.48,381.62 179.61,382.00 182.74,382.00 185.87,381.62 189.00,381.23 192.09,380.27 195.18,377.77 198.27,373.92 201.36,375.27 204.45,377.20 207.54,377.22 210.63,376.46 213.72,376.09 216.81,376.10 219.90,376.50 222.99,376.89 226.08,377.29 229.17,378.26 232.26,377.31 235.35,377.71 238.44,376.95 241.53,377.73 244.62,376.98 247.71,378.53 250.80,377.38 250.80,379.69 247.71,380.86 244.62,379.33 241.53,380.11 238.44,379.36 235.35,380.14 232.26,379.76 229.17,380.74 226.08,379.79 222.99,379.42 219.90,379.04 216.81,378.67 213.72,378.68 210.63,379.08 207.54,379.86 204.45,379.87 201.36,377.96 198.27,377.77 195.18,380.08 192.09,382.58 189.00,383.54 185.87,383.92 182.74,384.31 179.61,384.31 176.48,383.92 173.35,383.92 170.22,383.54 167.09,381.62 163.96,382.58 160.83,382.77 157.70,382.77" fill="#d3e1ee" fill-opacity="0.95" stroke="#b3c9de" stroke-width="0.7" stroke-opacity="0.85"/>
<polygon points="157.70,382.19 160.83,382.19 163.96,382.19 167.09,382.19 170.22,382.19 173.35,382.19 176.48,382.38 179.61,382.58 182.74,382.19 185.87,382.00 189.00,381.81 192.09,379.50 195.18,373.25 198.27,355.46 201.36,336.81 204.45,332.96 207.54,315.08 210.63,318.15 213.72,314.12 216.81,327.96 219.90,338.15 222.99,349.69 226.08,363.73 229.17,363.73 232.26,363.73 235.35,363.73 238.44,363.15 241.53,354.50 244.62,355.46 247.71,356.81 250.80,355.46 250.80,368.92 247.71,370.27 244.62,368.92 241.53,367.96 238.44,368.92 235.35,369.50 232.26,369.50 229.17,369.50 226.08,369.50 222.99,359.31 219.90,351.62 216.81,345.27 213.72,337.19 210.63,341.23 207.54,338.15 204.45,350.27 201.36,354.12 198.27,363.15 195.18,378.06 192.09,381.42 189.00,383.73 185.87,383.92 182.74,384.12 179.61,384.50 176.48,384.31 173.35,384.12 170.22,384.12 167.09,384.12 163.96,384.12 160.83,384.12 157.70,384.12" fill="#f5cdd6" fill-opacity="0.8" stroke="#eba9b8" stroke-width="0.7" stroke-opacity="0.85"/>
<polyline points="157.70,381.62 160.83,381.62 163.96,381.42 167.09,380.46 170.22,382.38 173.35,382.77 176.48,382.77 179.61,383.15 182.74,383.15 185.87,382.77 189.00,382.38 192.09,381.42 195.18,378.92 198.27,375.85 201.36,376.62 204.45,378.54 207.54,378.54 210.63,377.77 213.72,377.38 216.81,377.38 219.90,377.77 222.99,378.15 226.08,378.54 229.17,379.50 232.26,378.54 235.35,378.92 238.44,378.15 241.53,378.92 244.62,378.15 247.71,379.69 250.80,378.54" fill="none" stroke="#3a76ad" stroke-width="0.95" stroke-linejoin="round"/>
<circle cx="157.70" cy="381.62" r="1.05" fill="#0c3b6e"/>
<circle cx="160.83" cy="381.62" r="1.05" fill="#0c3b6e"/>
<circle cx="163.96" cy="381.42" r="1.05" fill="#0c3b6e"/>
<circle cx="167.09" cy="380.46" r="1.05" fill="#0c3b6e"/>
<circle cx="170.22" cy="382.38" r="1.05" fill="#0c3b6e"/>
<circle cx="173.35" cy="382.77" r="1.05" fill="#0c3b6e"/>
<circle cx="176.48" cy="382.77" r="1.05" fill="#0c3b6e"/>
<circle cx="179.61" cy="383.15" r="1.05" fill="#0c3b6e"/>
<circle cx="182.74" cy="383.15" r="1.05" fill="#0c3b6e"/>
<circle cx="185.87" cy="382.77" r="1.05" fill="#0c3b6e"/>
<circle cx="189.00" cy="382.38" r="1.05" fill="#0c3b6e"/>
<circle cx="192.09" cy="381.42" r="1.05" fill="#0c3b6e"/>
<circle cx="195.18" cy="378.92" r="1.05" fill="#0c3b6e"/>
<circle cx="198.27" cy="375.85" r="1.05" fill="#0c3b6e"/>
<circle cx="201.36" cy="376.62" r="1.05" fill="#0c3b6e"/>
<circle cx="204.45" cy="378.54" r="1.05" fill="#0c3b6e"/>
<circle cx="207.54" cy="378.54" r="1.05" fill="#0c3b6e"/>
<circle cx="210.63" cy="377.77" r="1.05" fill="#0c3b6e"/>
<circle cx="213.72" cy="377.38" r="1.05" fill="#0c3b6e"/>
<circle cx="216.81" cy="377.38" r="1.05" fill="#0c3b6e"/>
<circle cx="219.90" cy="377.77" r="1.05" fill="#0c3b6e"/>
<circle cx="222.99" cy="378.15" r="1.05" fill="#0c3b6e"/>
<circle cx="226.08" cy="378.54" r="1.05" fill="#0c3b6e"/>
<circle cx="229.17" cy="379.50" r="1.05" fill="#0c3b6e"/>
<circle cx="232.26" cy="378.54" r="1.05" fill="#0c3b6e"/>
<circle cx="235.35" cy="378.92" r="1.05" fill="#0c3b6e"/>
<circle cx="238.44" cy="378.15" r="1.05" fill="#0c3b6e"/>
<circle cx="241.53" cy="378.92" r="1.05" fill="#0c3b6e"/>
<circle cx="244.62" cy="378.15" r="1.05" fill="#0c3b6e"/>
<circle cx="247.71" cy="379.69" r="1.05" fill="#0c3b6e"/>
<circle cx="250.80" cy="378.54" r="1.05" fill="#0c3b6e"/>
<polyline points="157.70,383.15 160.83,383.15 163.96,383.15 167.09,383.15 170.22,383.15 173.35,383.15 176.48,383.35 179.61,383.54 182.74,383.15 185.87,382.96 189.00,382.77 192.09,380.46 195.18,375.65 198.27,359.31 201.36,345.46 204.45,341.62 207.54,326.62 210.63,329.69 213.72,325.65 216.81,336.62 219.90,344.88 222.99,354.50 226.08,366.62 229.17,366.62 232.26,366.62 235.35,366.62 238.44,366.04 241.53,361.23 244.62,362.19 247.71,363.54 250.80,362.19" fill="none" stroke="#d22c51" stroke-width="0.95" stroke-linejoin="round"/>
<circle cx="157.70" cy="383.15" r="1.05" fill="#b80d33"/>
<circle cx="160.83" cy="383.15" r="1.05" fill="#b80d33"/>
<circle cx="163.96" cy="383.15" r="1.05" fill="#b80d33"/>
<circle cx="167.09" cy="383.15" r="1.05" fill="#b80d33"/>
<circle cx="170.22" cy="383.15" r="1.05" fill="#b80d33"/>
<circle cx="173.35" cy="383.15" r="1.05" fill="#b80d33"/>
<circle cx="176.48" cy="383.35" r="1.05" fill="#b80d33"/>
<circle cx="179.61" cy="383.54" r="1.05" fill="#b80d33"/>
<circle cx="182.74" cy="383.15" r="1.05" fill="#b80d33"/>
<circle cx="185.87" cy="382.96" r="1.05" fill="#b80d33"/>
<circle cx="189.00" cy="382.77" r="1.05" fill="#b80d33"/>
<circle cx="192.09" cy="380.46" r="1.05" fill="#b80d33"/>
<circle cx="195.18" cy="375.65" r="1.05" fill="#b80d33"/>
<circle cx="198.27" cy="359.31" r="1.05" fill="#b80d33"/>
<circle cx="201.36" cy="345.46" r="1.05" fill="#b80d33"/>
<circle cx="204.45" cy="341.62" r="1.05" fill="#b80d33"/>
<circle cx="207.54" cy="326.62" r="1.05" fill="#b80d33"/>
<circle cx="210.63" cy="329.69" r="1.05" fill="#b80d33"/>
<circle cx="213.72" cy="325.65" r="1.05" fill="#b80d33"/>
<circle cx="216.81" cy="336.62" r="1.05" fill="#b80d33"/>
<circle cx="219.90" cy="344.88" r="1.05" fill="#b80d33"/>
<circle cx="222.99" cy="354.50" r="1.05" fill="#b80d33"/>
<circle cx="226.08" cy="366.62" r="1.05" fill="#b80d33"/>
<circle cx="229.17" cy="366.62" r="1.05" fill="#b80d33"/>
<circle cx="232.26" cy="366.62" r="1.05" fill="#b80d33"/>
<circle cx="235.35" cy="366.62" r="1.05" fill="#b80d33"/>
<circle cx="238.44" cy="366.04" r="1.05" fill="#b80d33"/>
<circle cx="241.53" cy="361.23" r="1.05" fill="#b80d33"/>
<circle cx="244.62" cy="362.19" r="1.05" fill="#b80d33"/>
<circle cx="247.71" cy="363.54" r="1.05" fill="#b80d33"/>
<circle cx="250.80" cy="362.19" r="1.05" fill="#b80d33"/>
<line x1="189.00" y1="298.2" x2="189.00" y2="387.0" stroke="#1a1a1a" stroke-width="1.2" stroke-dasharray="3,1.5"/>
<path d="M157.70,297.70 V387.00 H251.30" fill="none" stroke="#1a1a1a" stroke-width="1.6"/>
<line x1="154.40" y1="387.00" x2="157.70" y2="387.00" stroke="#1a1a1a" stroke-width="1.2"/>
<text x="153.20" y="389.50" font-size="6.8" text-anchor="end" fill="#2a2a2a" stroke="#2a2a2a" stroke-width="0.25" textLength="2.95" lengthAdjust="spacingAndGlyphs">0</text>
<line x1="154.40" y1="372.20" x2="157.70" y2="372.20" stroke="#1a1a1a" stroke-width="1.2"/>
<text x="153.20" y="374.70" font-size="6.8" text-anchor="end" fill="#2a2a2a" stroke="#2a2a2a" stroke-width="0.25" textLength="8.85" lengthAdjust="spacingAndGlyphs">100</text>
<line x1="154.40" y1="357.40" x2="157.70" y2="357.40" stroke="#1a1a1a" stroke-width="1.2"/>
<text x="153.20" y="359.90" font-size="6.8" text-anchor="end" fill="#2a2a2a" stroke="#2a2a2a" stroke-width="0.25" textLength="8.85" lengthAdjust="spacingAndGlyphs">200</text>
<line x1="154.40" y1="342.60" x2="157.70" y2="342.60" stroke="#1a1a1a" stroke-width="1.2"/>
<text x="153.20" y="345.10" font-size="6.8" text-anchor="end" fill="#2a2a2a" stroke="#2a2a2a" stroke-width="0.25" textLength="8.85" lengthAdjust="spacingAndGlyphs">300</text>
<line x1="154.40" y1="327.80" x2="157.70" y2="327.80" stroke="#1a1a1a" stroke-width="1.2"/>
<text x="153.20" y="330.30" font-size="6.8" text-anchor="end" fill="#2a2a2a" stroke="#2a2a2a" stroke-width="0.25" textLength="8.85" lengthAdjust="spacingAndGlyphs">400</text>
<line x1="154.40" y1="313.00" x2="157.70" y2="313.00" stroke="#1a1a1a" stroke-width="1.2"/>
<text x="153.20" y="315.50" font-size="6.8" text-anchor="end" fill="#2a2a2a" stroke="#2a2a2a" stroke-width="0.25" textLength="8.85" lengthAdjust="spacingAndGlyphs">500</text>
<line x1="154.40" y1="298.20" x2="157.70" y2="298.20" stroke="#1a1a1a" stroke-width="1.2"/>
<text x="153.20" y="300.70" font-size="6.8" text-anchor="end" fill="#2a2a2a" stroke="#2a2a2a" stroke-width="0.25" textLength="8.85" lengthAdjust="spacingAndGlyphs">600</text>
<line x1="157.70" y1="387.00" x2="157.70" y2="390.20" stroke="#1a1a1a" stroke-width="1.2"/>
<text x="156.70" y="397.40" font-size="6.8" text-anchor="middle" fill="#2a2a2a" stroke="#2a2a2a" stroke-width="0.25" textLength="8.20" lengthAdjust="spacingAndGlyphs">-10</text>
<line x1="173.35" y1="387.00" x2="173.35" y2="390.20" stroke="#1a1a1a" stroke-width="1.2"/>
<text x="172.35" y="397.40" font-size="6.8" text-anchor="middle" fill="#2a2a2a" stroke="#2a2a2a" stroke-width="0.25" textLength="5.25" lengthAdjust="spacingAndGlyphs">-5</text>
<line x1="189.00" y1="387.00" x2="189.00" y2="390.20" stroke="#1a1a1a" stroke-width="1.2"/>
<text x="189.00" y="397.40" font-size="6.8" text-anchor="middle" fill="#2a2a2a" stroke="#2a2a2a" stroke-width="0.25" textLength="2.95" lengthAdjust="spacingAndGlyphs">0</text>
<line x1="204.45" y1="387.00" x2="204.45" y2="390.20" stroke="#1a1a1a" stroke-width="1.2"/>
<text x="204.45" y="397.40" font-size="6.8" text-anchor="middle" fill="#2a2a2a" stroke="#2a2a2a" stroke-width="0.25" textLength="2.95" lengthAdjust="spacingAndGlyphs">5</text>
<line x1="219.90" y1="387.00" x2="219.90" y2="390.20" stroke="#1a1a1a" stroke-width="1.2"/>
<text x="219.90" y="397.40" font-size="6.8" text-anchor="middle" fill="#2a2a2a" stroke="#2a2a2a" stroke-width="0.25" textLength="5.90" lengthAdjust="spacingAndGlyphs">10</text>
<line x1="235.35" y1="387.00" x2="235.35" y2="390.20" stroke="#1a1a1a" stroke-width="1.2"/>
<text x="235.35" y="397.40" font-size="6.8" text-anchor="middle" fill="#2a2a2a" stroke="#2a2a2a" stroke-width="0.25" textLength="5.90" lengthAdjust="spacingAndGlyphs">15</text>
<line x1="250.80" y1="387.00" x2="250.80" y2="390.20" stroke="#1a1a1a" stroke-width="1.2"/>
<text x="250.80" y="397.40" font-size="6.8" text-anchor="middle" fill="#2a2a2a" stroke="#2a2a2a" stroke-width="0.25" textLength="5.90" lengthAdjust="spacingAndGlyphs">20</text>
<text x="204.25" y="407.00" font-size="7.9" text-anchor="middle" fill="#2a2a2a" stroke="#2a2a2a" stroke-width="0.3" textLength="68.40" lengthAdjust="spacingAndGlyphs">Day relative to CRS onset</text>
<text transform="translate(140.80,342.70) rotate(-90)" font-size="7.9" text-anchor="middle" fill="#2a2a2a" stroke="#2a2a2a" stroke-width="0.3" textLength="42.30" lengthAdjust="spacingAndGlyphs">AST levels (U/L)</text>
<text x="130.20" y="292.00" font-size="11.6" font-weight="bold" fill="#000">H</text>
<rect x="196.80" y="301.20" width="1.8" height="1.8" fill="#333"/>
<rect x="200.15" y="301.20" width="1.8" height="1.8" fill="#333"/>
<rect x="203.49" y="301.20" width="1.8" height="1.8" fill="#333"/>
<rect x="206.84" y="301.20" width="1.8" height="1.8" fill="#333"/>
<rect x="210.18" y="301.20" width="1.8" height="1.8" fill="#333"/>
<rect x="213.53" y="301.20" width="1.8" height="1.8" fill="#333"/>
<rect x="216.88" y="301.20" width="1.8" height="1.8" fill="#333"/>
<rect x="220.22" y="301.20" width="1.8" height="1.8" fill="#333"/>
<rect x="223.57" y="301.20" width="1.8" height="1.8" fill="#333"/>
<rect x="226.92" y="301.20" width="1.8" height="1.8" fill="#333"/>
<rect x="230.26" y="301.20" width="1.8" height="1.8" fill="#333"/>
<rect x="233.61" y="301.20" width="1.8" height="1.8" fill="#333"/>
<rect x="236.95" y="301.20" width="1.8" height="1.8" fill="#333"/>
<rect x="240.30" y="301.20" width="1.8" height="1.8" fill="#333"/>
<rect x="248.00" y="301.20" width="1.8" height="1.8" fill="#333"/>
<polygon points="285.10,363.15 288.16,366.23 291.22,365.46 294.28,365.85 297.34,365.85 300.40,366.23 303.46,365.46 306.52,367.38 309.58,369.31 312.64,368.54 315.70,366.81 318.78,359.88 321.87,357.77 324.95,357.58 328.04,356.04 331.12,359.84 334.21,359.60 337.29,360.32 340.38,358.35 343.46,355.65 346.55,360.46 349.63,361.54 352.72,360.69 355.81,361.00 358.89,361.31 361.97,362.96 365.06,356.81 368.14,363.73 371.23,361.42 374.31,362.58 377.40,362.00 377.40,371.62 374.31,372.19 371.23,371.04 368.14,373.35 365.06,370.27 361.97,372.58 358.89,371.15 355.81,371.08 352.72,371.00 349.63,372.08 346.55,371.23 343.46,369.88 340.38,369.88 337.29,371.38 334.21,370.17 331.12,369.93 328.04,365.65 324.95,366.81 321.87,366.62 318.78,368.35 315.70,373.73 312.64,375.46 309.58,376.23 306.52,374.31 303.46,372.38 300.40,373.15 297.34,372.77 294.28,372.77 291.22,372.38 288.16,373.15 285.10,370.08" fill="#d3e1ee" fill-opacity="0.95" stroke="#b3c9de" stroke-width="0.7" stroke-opacity="0.85"/>
<polygon points="285.10,365.65 288.16,366.23 291.22,366.23 294.28,366.23 297.34,366.62 300.40,367.00 303.46,365.85 306.52,368.54 309.58,365.08 312.64,360.27 315.70,364.12 318.78,358.92 321.87,346.04 324.95,332.58 328.04,331.23 331.12,321.04 334.21,322.96 337.29,320.08 340.38,318.92 343.46,324.88 346.55,330.46 349.63,328.54 352.72,325.85 355.81,321.62 358.89,329.88 361.97,335.27 365.06,328.54 368.14,331.23 371.23,328.54 374.31,325.85 377.40,323.73 377.40,350.65 374.31,351.23 371.23,352.77 368.14,353.92 365.06,355.46 361.97,353.92 358.89,352.00 355.81,347.38 352.72,350.08 349.63,350.65 346.55,350.65 343.46,347.96 340.38,344.69 337.29,345.46 334.21,347.38 331.12,349.31 328.04,351.23 324.95,352.77 321.87,360.65 318.78,366.62 315.70,369.88 312.64,369.88 309.58,372.77 306.52,373.15 303.46,370.46 300.40,371.62 297.34,371.23 294.28,370.85 291.22,370.85 288.16,370.85 285.10,370.27" fill="#f5cdd6" fill-opacity="0.8" stroke="#eba9b8" stroke-width="0.7" stroke-opacity="0.85"/>
<polyline points="285.10,366.62 288.16,369.69 291.22,368.92 294.28,369.31 297.34,369.31 300.40,369.69 303.46,368.92 306.52,370.85 309.58,372.77 312.64,372.00 315.70,370.27 318.78,364.12 321.87,362.19 324.95,362.19 328.04,360.85 331.12,364.88 334.21,364.88 337.29,365.85 340.38,364.12 343.46,362.77 346.55,365.85 349.63,366.81 352.72,365.85 355.81,366.04 358.89,366.23 361.97,367.77 365.06,363.54 368.14,368.54 371.23,366.23 374.31,367.38 377.40,366.81" fill="none" stroke="#3a76ad" stroke-width="0.95" stroke-linejoin="round"/>
<circle cx="285.10" cy="366.62" r="1.05" fill="#0c3b6e"/>
<circle cx="288.16" cy="369.69" r="1.05" fill="#0c3b6e"/>
<circle cx="291.22" cy="368.92" r="1.05" fill="#0c3b6e"/>
<circle cx="294.28" cy="369.31" r="1.05" fill="#0c3b6e"/>
<circle cx="297.34" cy="369.31" r="1.05" fill="#0c3b6e"/>
<circle cx="300.40" cy="369.69" r="1.05" fill="#0c3b6e"/>
<circle cx="303.46" cy="368.92" r="1.05" fill="#0c3b6e"/>
<circle cx="306.52" cy="370.85" r="1.05" fill="#0c3b6e"/>
<circle cx="309.58" cy="372.77" r="1.05" fill="#0c3b6e"/>
<circle cx="312.64" cy="372.00" r="1.05" fill="#0c3b6e"/>
<circle cx="315.70" cy="370.27" r="1.05" fill="#0c3b6e"/>
<circle cx="318.78" cy="364.12" r="1.05" fill="#0c3b6e"/>
<circle cx="321.87" cy="362.19" r="1.05" fill="#0c3b6e"/>
<circle cx="324.95" cy="362.19" r="1.05" fill="#0c3b6e"/>
<circle cx="328.04" cy="360.85" r="1.05" fill="#0c3b6e"/>
<circle cx="331.12" cy="364.88" r="1.05" fill="#0c3b6e"/>
<circle cx="334.21" cy="364.88" r="1.05" fill="#0c3b6e"/>
<circle cx="337.29" cy="365.85" r="1.05" fill="#0c3b6e"/>
<circle cx="340.38" cy="364.12" r="1.05" fill="#0c3b6e"/>
<circle cx="343.46" cy="362.77" r="1.05" fill="#0c3b6e"/>
<circle cx="346.55" cy="365.85" r="1.05" fill="#0c3b6e"/>
<circle cx="349.63" cy="366.81" r="1.05" fill="#0c3b6e"/>
<circle cx="352.72" cy="365.85" r="1.05" fill="#0c3b6e"/>
<circle cx="355.81" cy="366.04" r="1.05" fill="#0c3b6e"/>
<circle cx="358.89" cy="366.23" r="1.05" fill="#0c3b6e"/>
<circle cx="361.97" cy="367.77" r="1.05" fill="#0c3b6e"/>
<circle cx="365.06" cy="363.54" r="1.05" fill="#0c3b6e"/>
<circle cx="368.14" cy="368.54" r="1.05" fill="#0c3b6e"/>
<circle cx="371.23" cy="366.23" r="1.05" fill="#0c3b6e"/>
<circle cx="374.31" cy="367.38" r="1.05" fill="#0c3b6e"/>
<circle cx="377.40" cy="366.81" r="1.05" fill="#0c3b6e"/>
<polyline points="285.10,367.96 288.16,368.54 291.22,368.54 294.28,368.54 297.34,368.92 300.40,369.31 303.46,368.15 306.52,370.85 309.58,368.92 312.64,365.08 315.70,367.00 318.78,362.77 321.87,353.35 324.95,343.35 328.04,341.23 331.12,335.27 334.21,336.42 337.29,332.77 340.38,331.81 343.46,336.42 346.55,341.23 349.63,342.58 352.72,339.12 355.81,335.27 358.89,340.65 361.97,343.92 365.06,346.62 368.14,340.65 371.23,343.35 374.31,337.96 377.40,336.42" fill="none" stroke="#d22c51" stroke-width="0.95" stroke-linejoin="round"/>
<circle cx="285.10" cy="367.96" r="1.05" fill="#b80d33"/>
<circle cx="288.16" cy="368.54" r="1.05" fill="#b80d33"/>
<circle cx="291.22" cy="368.54" r="1.05" fill="#b80d33"/>
<circle cx="294.28" cy="368.54" r="1.05" fill="#b80d33"/>
<circle cx="297.34" cy="368.92" r="1.05" fill="#b80d33"/>
<circle cx="300.40" cy="369.31" r="1.05" fill="#b80d33"/>
<circle cx="303.46" cy="368.15" r="1.05" fill="#b80d33"/>
<circle cx="306.52" cy="370.85" r="1.05" fill="#b80d33"/>
<circle cx="309.58" cy="368.92" r="1.05" fill="#b80d33"/>
<circle cx="312.64" cy="365.08" r="1.05" fill="#b80d33"/>
<circle cx="315.70" cy="367.00" r="1.05" fill="#b80d33"/>
<circle cx="318.78" cy="362.77" r="1.05" fill="#b80d33"/>
<circle cx="321.87" cy="353.35" r="1.05" fill="#b80d33"/>
<circle cx="324.95" cy="343.35" r="1.05" fill="#b80d33"/>
<circle cx="328.04" cy="341.23" r="1.05" fill="#b80d33"/>
<circle cx="331.12" cy="335.27" r="1.05" fill="#b80d33"/>
<circle cx="334.21" cy="336.42" r="1.05" fill="#b80d33"/>
<circle cx="337.29" cy="332.77" r="1.05" fill="#b80d33"/>
<circle cx="340.38" cy="331.81" r="1.05" fill="#b80d33"/>
<circle cx="343.46" cy="336.42" r="1.05" fill="#b80d33"/>
<circle cx="346.55" cy="341.23" r="1.05" fill="#b80d33"/>
<circle cx="349.63" cy="342.58" r="1.05" fill="#b80d33"/>
<circle cx="352.72" cy="339.12" r="1.05" fill="#b80d33"/>
<circle cx="355.81" cy="335.27" r="1.05" fill="#b80d33"/>
<circle cx="358.89" cy="340.65" r="1.05" fill="#b80d33"/>
<circle cx="361.97" cy="343.92" r="1.05" fill="#b80d33"/>
<circle cx="365.06" cy="346.62" r="1.05" fill="#b80d33"/>
<circle cx="368.14" cy="340.65" r="1.05" fill="#b80d33"/>
<circle cx="371.23" cy="343.35" r="1.05" fill="#b80d33"/>
<circle cx="374.31" cy="337.96" r="1.05" fill="#b80d33"/>
<circle cx="377.40" cy="336.42" r="1.05" fill="#b80d33"/>
<line x1="315.70" y1="297.4" x2="315.70" y2="387.0" stroke="#1a1a1a" stroke-width="1.2" stroke-dasharray="3,1.5"/>
<path d="M285.10,296.90 V387.00 H377.90" fill="none" stroke="#1a1a1a" stroke-width="1.6"/>
<line x1="281.80" y1="387.00" x2="285.10" y2="387.00" stroke="#1a1a1a" stroke-width="1.2"/>
<text x="280.60" y="389.50" font-size="6.8" text-anchor="end" fill="#2a2a2a" stroke="#2a2a2a" stroke-width="0.25" textLength="10.15" lengthAdjust="spacingAndGlyphs">0.00</text>
<line x1="281.80" y1="375.80" x2="285.10" y2="375.80" stroke="#1a1a1a" stroke-width="1.2"/>
<text x="280.60" y="378.30" font-size="6.8" text-anchor="end" fill="#2a2a2a" stroke="#2a2a2a" stroke-width="0.25" textLength="10.15" lengthAdjust="spacingAndGlyphs">0.25</text>
<line x1="281.80" y1="364.60" x2="285.10" y2="364.60" stroke="#1a1a1a" stroke-width="1.2"/>
<text x="280.60" y="367.10" font-size="6.8" text-anchor="end" fill="#2a2a2a" stroke="#2a2a2a" stroke-width="0.25" textLength="10.15" lengthAdjust="spacingAndGlyphs">0.50</text>
<line x1="281.80" y1="353.40" x2="285.10" y2="353.40" stroke="#1a1a1a" stroke-width="1.2"/>
<text x="280.60" y="355.90" font-size="6.8" text-anchor="end" fill="#2a2a2a" stroke="#2a2a2a" stroke-width="0.25" textLength="10.15" lengthAdjust="spacingAndGlyphs">0.75</text>
<line x1="281.80" y1="342.20" x2="285.10" y2="342.20" stroke="#1a1a1a" stroke-width="1.2"/>
<text x="280.60" y="344.70" font-size="6.8" text-anchor="end" fill="#2a2a2a" stroke="#2a2a2a" stroke-width="0.25" textLength="10.15" lengthAdjust="spacingAndGlyphs">1.00</text>
<line x1="281.80" y1="331.00" x2="285.10" y2="331.00" stroke="#1a1a1a" stroke-width="1.2"/>
<text x="280.60" y="333.50" font-size="6.8" text-anchor="end" fill="#2a2a2a" stroke="#2a2a2a" stroke-width="0.25" textLength="10.15" lengthAdjust="spacingAndGlyphs">1.25</text>
<line x1="281.80" y1="319.80" x2="285.10" y2="319.80" stroke="#1a1a1a" stroke-width="1.2"/>
<text x="280.60" y="322.30" font-size="6.8" text-anchor="end" fill="#2a2a2a" stroke="#2a2a2a" stroke-width="0.25" textLength="10.15" lengthAdjust="spacingAndGlyphs">1.50</text>
<line x1="281.80" y1="308.60" x2="285.10" y2="308.60" stroke="#1a1a1a" stroke-width="1.2"/>
<text x="280.60" y="311.10" font-size="6.8" text-anchor="end" fill="#2a2a2a" stroke="#2a2a2a" stroke-width="0.25" textLength="10.15" lengthAdjust="spacingAndGlyphs">1.75</text>
<line x1="281.80" y1="297.40" x2="285.10" y2="297.40" stroke="#1a1a1a" stroke-width="1.2"/>
<text x="280.60" y="299.90" font-size="6.8" text-anchor="end" fill="#2a2a2a" stroke="#2a2a2a" stroke-width="0.25" textLength="10.15" lengthAdjust="spacingAndGlyphs">2.00</text>
<line x1="285.10" y1="387.00" x2="285.10" y2="390.20" stroke="#1a1a1a" stroke-width="1.2"/>
<text x="284.10" y="397.40" font-size="6.8" text-anchor="middle" fill="#2a2a2a" stroke="#2a2a2a" stroke-width="0.25" textLength="8.20" lengthAdjust="spacingAndGlyphs">-10</text>
<line x1="300.40" y1="387.00" x2="300.40" y2="390.20" stroke="#1a1a1a" stroke-width="1.2"/>
<text x="299.40" y="397.40" font-size="6.8" text-anchor="middle" fill="#2a2a2a" stroke="#2a2a2a" stroke-width="0.25" textLength="5.25" lengthAdjust="spacingAndGlyphs">-5</text>
<line x1="315.70" y1="387.00" x2="315.70" y2="390.20" stroke="#1a1a1a" stroke-width="1.2"/>
<text x="315.70" y="397.40" font-size="6.8" text-anchor="middle" fill="#2a2a2a" stroke="#2a2a2a" stroke-width="0.25" textLength="2.95" lengthAdjust="spacingAndGlyphs">0</text>
<line x1="331.12" y1="387.00" x2="331.12" y2="390.20" stroke="#1a1a1a" stroke-width="1.2"/>
<text x="331.12" y="397.40" font-size="6.8" text-anchor="middle" fill="#2a2a2a" stroke="#2a2a2a" stroke-width="0.25" textLength="2.95" lengthAdjust="spacingAndGlyphs">5</text>
<line x1="346.55" y1="387.00" x2="346.55" y2="390.20" stroke="#1a1a1a" stroke-width="1.2"/>
<text x="346.55" y="397.40" font-size="6.8" text-anchor="middle" fill="#2a2a2a" stroke="#2a2a2a" stroke-width="0.25" textLength="5.90" lengthAdjust="spacingAndGlyphs">10</text>
<line x1="361.97" y1="387.00" x2="361.97" y2="390.20" stroke="#1a1a1a" stroke-width="1.2"/>
<text x="361.97" y="397.40" font-size="6.8" text-anchor="middle" fill="#2a2a2a" stroke="#2a2a2a" stroke-width="0.25" textLength="5.90" lengthAdjust="spacingAndGlyphs">15</text>
<line x1="377.40" y1="387.00" x2="377.40" y2="390.20" stroke="#1a1a1a" stroke-width="1.2"/>
<text x="377.40" y="397.40" font-size="6.8" text-anchor="middle" fill="#2a2a2a" stroke="#2a2a2a" stroke-width="0.25" textLength="5.90" lengthAdjust="spacingAndGlyphs">20</text>
<text x="331.25" y="407.00" font-size="7.9" text-anchor="middle" fill="#2a2a2a" stroke="#2a2a2a" stroke-width="0.3" textLength="68.40" lengthAdjust="spacingAndGlyphs">Day relative to CRS onset</text>
<text transform="translate(266.50,342.00) rotate(-90)" font-size="7.9" text-anchor="middle" fill="#2a2a2a" stroke="#2a2a2a" stroke-width="0.3" textLength="79.70" lengthAdjust="spacingAndGlyphs">Total bilirubin levels (mg/dL)</text>
<text x="261.00" y="292.00" font-size="11.6" font-weight="bold" fill="#000">I</text>
<rect x="328.00" y="303.50" width="1.8" height="1.8" fill="#333"/>
<rect x="331.35" y="303.50" width="1.8" height="1.8" fill="#333"/>
<rect x="334.70" y="303.50" width="1.8" height="1.8" fill="#333"/>
<rect x="338.05" y="303.50" width="1.8" height="1.8" fill="#333"/>
<rect x="341.40" y="303.50" width="1.8" height="1.8" fill="#333"/>
<rect x="344.75" y="303.50" width="1.8" height="1.8" fill="#333"/>
<rect x="348.10" y="303.50" width="1.8" height="1.8" fill="#333"/>
<rect x="351.45" y="303.50" width="1.8" height="1.8" fill="#333"/>
<rect x="354.80" y="303.50" width="1.8" height="1.8" fill="#333"/>
<rect x="358.15" y="303.50" width="1.8" height="1.8" fill="#333"/>
<rect x="361.50" y="303.50" width="1.8" height="1.8" fill="#333"/>
<rect x="368.10" y="303.50" width="1.8" height="1.8" fill="#333"/>
<rect x="371.47" y="303.50" width="1.8" height="1.8" fill="#333"/>
<rect x="374.83" y="303.50" width="1.8" height="1.8" fill="#333"/>
<rect x="378.20" y="303.50" width="1.8" height="1.8" fill="#333"/>
<polygon points="416.10,337.19 419.19,359.31 422.28,356.42 425.37,358.35 428.46,353.92 431.55,355.85 434.64,349.69 437.73,366.04 440.82,363.15 443.91,364.12 447.00,363.15 450.11,367.00 453.22,369.50 456.33,365.08 459.44,359.88 462.55,357.96 465.66,351.62 468.77,347.77 471.88,342.58 474.99,352.19 478.10,346.81 481.21,340.08 484.32,339.50 487.43,339.12 490.54,304.12 493.65,347.77 496.76,319.31 499.87,358.35 502.98,349.69 506.09,345.46 509.20,334.69 509.20,350.08 506.09,360.85 502.98,365.08 499.87,369.88 496.76,342.38 493.65,363.15 490.54,344.50 487.43,348.73 484.32,349.12 481.21,349.69 478.10,356.42 474.99,361.81 471.88,352.19 468.77,357.38 465.66,361.23 462.55,367.58 459.44,369.50 456.33,370.85 453.22,375.27 450.11,372.77 447.00,368.92 443.91,369.88 440.82,368.92 437.73,371.81 434.64,361.23 431.55,367.38 428.46,365.46 425.37,369.88 422.28,367.96 419.19,370.85 416.10,352.58" fill="#d3e1ee" fill-opacity="0.95" stroke="#b3c9de" stroke-width="0.7" stroke-opacity="0.85"/>
<polygon points="416.10,361.23 419.19,362.19 422.28,362.77 425.37,361.23 428.46,363.54 431.55,361.23 434.64,349.31 437.73,359.69 440.82,360.27 443.91,360.85 447.00,360.85 450.11,361.62 453.22,359.31 456.33,360.85 459.44,349.69 462.55,335.27 465.66,328.15 468.77,327.58 471.88,328.15 474.99,330.85 478.10,330.08 481.21,330.85 484.32,331.42 487.43,331.42 490.54,339.50 493.65,333.35 496.76,336.23 499.87,321.81 502.98,338.54 506.09,336.62 509.20,341.04 509.20,356.42 506.09,352.00 502.98,353.92 499.87,341.04 496.76,351.62 493.65,348.73 490.54,352.96 487.43,342.96 484.32,342.96 481.21,342.38 478.10,341.62 474.99,342.38 471.88,339.69 468.77,339.12 465.66,339.69 462.55,346.81 459.44,357.38 456.33,368.54 453.22,367.00 450.11,369.31 447.00,368.54 443.91,368.54 440.82,367.96 437.73,367.38 434.64,357.00 431.55,368.92 428.46,371.23 425.37,368.92 422.28,370.46 419.19,369.88 416.10,368.92" fill="#f5cdd6" fill-opacity="0.8" stroke="#eba9b8" stroke-width="0.7" stroke-opacity="0.85"/>
<polyline points="416.10,344.88 419.19,365.08 422.28,362.19 425.37,364.12 428.46,359.69 431.55,361.62 434.64,355.46 437.73,368.92 440.82,366.04 443.91,367.00 447.00,366.04 450.11,369.88 453.22,372.38 456.33,367.96 459.44,364.69 462.55,362.77 465.66,356.42 468.77,352.58 471.88,347.38 474.99,357.00 478.10,351.62 481.21,344.88 484.32,344.31 487.43,343.92 490.54,324.31 493.65,355.46 496.76,330.85 499.87,364.12 502.98,357.38 506.09,353.15 509.20,342.38" fill="none" stroke="#3a76ad" stroke-width="0.95" stroke-linejoin="round"/>
<circle cx="416.10" cy="344.88" r="1.05" fill="#0c3b6e"/>
<circle cx="419.19" cy="365.08" r="1.05" fill="#0c3b6e"/>
<circle cx="422.28" cy="362.19" r="1.05" fill="#0c3b6e"/>
<circle cx="425.37" cy="364.12" r="1.05" fill="#0c3b6e"/>
<circle cx="428.46" cy="359.69" r="1.05" fill="#0c3b6e"/>
<circle cx="431.55" cy="361.62" r="1.05" fill="#0c3b6e"/>
<circle cx="434.64" cy="355.46" r="1.05" fill="#0c3b6e"/>
<circle cx="437.73" cy="368.92" r="1.05" fill="#0c3b6e"/>
<circle cx="440.82" cy="366.04" r="1.05" fill="#0c3b6e"/>
<circle cx="443.91" cy="367.00" r="1.05" fill="#0c3b6e"/>
<circle cx="447.00" cy="366.04" r="1.05" fill="#0c3b6e"/>
<circle cx="450.11" cy="369.88" r="1.05" fill="#0c3b6e"/>
<circle cx="453.22" cy="372.38" r="1.05" fill="#0c3b6e"/>
<circle cx="456.33" cy="367.96" r="1.05" fill="#0c3b6e"/>
<circle cx="459.44" cy="364.69" r="1.05" fill="#0c3b6e"/>
<circle cx="462.55" cy="362.77" r="1.05" fill="#0c3b6e"/>
<circle cx="465.66" cy="356.42" r="1.05" fill="#0c3b6e"/>
<circle cx="468.77" cy="352.58" r="1.05" fill="#0c3b6e"/>
<circle cx="471.88" cy="347.38" r="1.05" fill="#0c3b6e"/>
<circle cx="474.99" cy="357.00" r="1.05" fill="#0c3b6e"/>
<circle cx="478.10" cy="351.62" r="1.05" fill="#0c3b6e"/>
<circle cx="481.21" cy="344.88" r="1.05" fill="#0c3b6e"/>
<circle cx="484.32" cy="344.31" r="1.05" fill="#0c3b6e"/>
<circle cx="487.43" cy="343.92" r="1.05" fill="#0c3b6e"/>
<circle cx="490.54" cy="324.31" r="1.05" fill="#0c3b6e"/>
<circle cx="493.65" cy="355.46" r="1.05" fill="#0c3b6e"/>
<circle cx="496.76" cy="330.85" r="1.05" fill="#0c3b6e"/>
<circle cx="499.87" cy="364.12" r="1.05" fill="#0c3b6e"/>
<circle cx="502.98" cy="357.38" r="1.05" fill="#0c3b6e"/>
<circle cx="506.09" cy="353.15" r="1.05" fill="#0c3b6e"/>
<circle cx="509.20" cy="342.38" r="1.05" fill="#0c3b6e"/>
<polyline points="416.10,365.08 419.19,366.04 422.28,366.62 425.37,365.08 428.46,367.38 431.55,365.08 434.64,353.15 437.73,363.54 440.82,364.12 443.91,364.69 447.00,364.69 450.11,365.46 453.22,363.15 456.33,364.69 459.44,353.54 462.55,341.04 465.66,333.92 468.77,333.35 471.88,333.92 474.99,336.62 478.10,335.85 481.21,336.62 484.32,337.19 487.43,337.19 490.54,346.23 493.65,341.04 496.76,343.92 499.87,331.42 502.98,346.23 506.09,344.31 509.20,348.73" fill="none" stroke="#d22c51" stroke-width="0.95" stroke-linejoin="round"/>
<circle cx="416.10" cy="365.08" r="1.05" fill="#b80d33"/>
<circle cx="419.19" cy="366.04" r="1.05" fill="#b80d33"/>
<circle cx="422.28" cy="366.62" r="1.05" fill="#b80d33"/>
<circle cx="425.37" cy="365.08" r="1.05" fill="#b80d33"/>
<circle cx="428.46" cy="367.38" r="1.05" fill="#b80d33"/>
<circle cx="431.55" cy="365.08" r="1.05" fill="#b80d33"/>
<circle cx="434.64" cy="353.15" r="1.05" fill="#b80d33"/>
<circle cx="437.73" cy="363.54" r="1.05" fill="#b80d33"/>
<circle cx="440.82" cy="364.12" r="1.05" fill="#b80d33"/>
<circle cx="443.91" cy="364.69" r="1.05" fill="#b80d33"/>
<circle cx="447.00" cy="364.69" r="1.05" fill="#b80d33"/>
<circle cx="450.11" cy="365.46" r="1.05" fill="#b80d33"/>
<circle cx="453.22" cy="363.15" r="1.05" fill="#b80d33"/>
<circle cx="456.33" cy="364.69" r="1.05" fill="#b80d33"/>
<circle cx="459.44" cy="353.54" r="1.05" fill="#b80d33"/>
<circle cx="462.55" cy="341.04" r="1.05" fill="#b80d33"/>
<circle cx="465.66" cy="333.92" r="1.05" fill="#b80d33"/>
<circle cx="468.77" cy="333.35" r="1.05" fill="#b80d33"/>
<circle cx="471.88" cy="333.92" r="1.05" fill="#b80d33"/>
<circle cx="474.99" cy="336.62" r="1.05" fill="#b80d33"/>
<circle cx="478.10" cy="335.85" r="1.05" fill="#b80d33"/>
<circle cx="481.21" cy="336.62" r="1.05" fill="#b80d33"/>
<circle cx="484.32" cy="337.19" r="1.05" fill="#b80d33"/>
<circle cx="487.43" cy="337.19" r="1.05" fill="#b80d33"/>
<circle cx="490.54" cy="346.23" r="1.05" fill="#b80d33"/>
<circle cx="493.65" cy="341.04" r="1.05" fill="#b80d33"/>
<circle cx="496.76" cy="343.92" r="1.05" fill="#b80d33"/>
<circle cx="499.87" cy="331.42" r="1.05" fill="#b80d33"/>
<circle cx="502.98" cy="346.23" r="1.05" fill="#b80d33"/>
<circle cx="506.09" cy="344.31" r="1.05" fill="#b80d33"/>
<circle cx="509.20" cy="348.73" r="1.05" fill="#b80d33"/>
<line x1="447.00" y1="298.2" x2="447.00" y2="387.0" stroke="#1a1a1a" stroke-width="1.2" stroke-dasharray="3,1.5"/>
<path d="M416.10,297.70 V387.00 H509.70" fill="none" stroke="#1a1a1a" stroke-width="1.6"/>
<line x1="412.80" y1="387.00" x2="416.10" y2="387.00" stroke="#1a1a1a" stroke-width="1.2"/>
<text x="411.60" y="389.50" font-size="6.8" text-anchor="end" fill="#2a2a2a" stroke="#2a2a2a" stroke-width="0.25" textLength="2.95" lengthAdjust="spacingAndGlyphs">0</text>
<line x1="412.80" y1="375.90" x2="416.10" y2="375.90" stroke="#1a1a1a" stroke-width="1.2"/>
<text x="411.60" y="378.40" font-size="6.8" text-anchor="end" fill="#2a2a2a" stroke="#2a2a2a" stroke-width="0.25" textLength="8.85" lengthAdjust="spacingAndGlyphs">100</text>
<line x1="412.80" y1="364.80" x2="416.10" y2="364.80" stroke="#1a1a1a" stroke-width="1.2"/>
<text x="411.60" y="367.30" font-size="6.8" text-anchor="end" fill="#2a2a2a" stroke="#2a2a2a" stroke-width="0.25" textLength="8.85" lengthAdjust="spacingAndGlyphs">200</text>
<line x1="412.80" y1="353.70" x2="416.10" y2="353.70" stroke="#1a1a1a" stroke-width="1.2"/>
<text x="411.60" y="356.20" font-size="6.8" text-anchor="end" fill="#2a2a2a" stroke="#2a2a2a" stroke-width="0.25" textLength="8.85" lengthAdjust="spacingAndGlyphs">300</text>
<line x1="412.80" y1="342.60" x2="416.10" y2="342.60" stroke="#1a1a1a" stroke-width="1.2"/>
<text x="411.60" y="345.10" font-size="6.8" text-anchor="end" fill="#2a2a2a" stroke="#2a2a2a" stroke-width="0.25" textLength="8.85" lengthAdjust="spacingAndGlyphs">400</text>
<line x1="412.80" y1="331.50" x2="416.10" y2="331.50" stroke="#1a1a1a" stroke-width="1.2"/>
<text x="411.60" y="334.00" font-size="6.8" text-anchor="end" fill="#2a2a2a" stroke="#2a2a2a" stroke-width="0.25" textLength="8.85" lengthAdjust="spacingAndGlyphs">500</text>
<line x1="412.80" y1="320.40" x2="416.10" y2="320.40" stroke="#1a1a1a" stroke-width="1.2"/>
<text x="411.60" y="322.90" font-size="6.8" text-anchor="end" fill="#2a2a2a" stroke="#2a2a2a" stroke-width="0.25" textLength="8.85" lengthAdjust="spacingAndGlyphs">600</text>
<line x1="412.80" y1="309.30" x2="416.10" y2="309.30" stroke="#1a1a1a" stroke-width="1.2"/>
<text x="411.60" y="311.80" font-size="6.8" text-anchor="end" fill="#2a2a2a" stroke="#2a2a2a" stroke-width="0.25" textLength="8.85" lengthAdjust="spacingAndGlyphs">700</text>
<line x1="412.80" y1="298.20" x2="416.10" y2="298.20" stroke="#1a1a1a" stroke-width="1.2"/>
<text x="411.60" y="300.70" font-size="6.8" text-anchor="end" fill="#2a2a2a" stroke="#2a2a2a" stroke-width="0.25" textLength="8.85" lengthAdjust="spacingAndGlyphs">800</text>
<line x1="416.10" y1="387.00" x2="416.10" y2="390.20" stroke="#1a1a1a" stroke-width="1.2"/>
<text x="415.10" y="397.40" font-size="6.8" text-anchor="middle" fill="#2a2a2a" stroke="#2a2a2a" stroke-width="0.25" textLength="8.20" lengthAdjust="spacingAndGlyphs">-10</text>
<line x1="431.55" y1="387.00" x2="431.55" y2="390.20" stroke="#1a1a1a" stroke-width="1.2"/>
<text x="430.55" y="397.40" font-size="6.8" text-anchor="middle" fill="#2a2a2a" stroke="#2a2a2a" stroke-width="0.25" textLength="5.25" lengthAdjust="spacingAndGlyphs">-5</text>
<line x1="447.00" y1="387.00" x2="447.00" y2="390.20" stroke="#1a1a1a" stroke-width="1.2"/>
<text x="447.00" y="397.40" font-size="6.8" text-anchor="middle" fill="#2a2a2a" stroke="#2a2a2a" stroke-width="0.25" textLength="2.95" lengthAdjust="spacingAndGlyphs">0</text>
<line x1="462.55" y1="387.00" x2="462.55" y2="390.20" stroke="#1a1a1a" stroke-width="1.2"/>
<text x="462.55" y="397.40" font-size="6.8" text-anchor="middle" fill="#2a2a2a" stroke="#2a2a2a" stroke-width="0.25" textLength="2.95" lengthAdjust="spacingAndGlyphs">5</text>
<line x1="478.10" y1="387.00" x2="478.10" y2="390.20" stroke="#1a1a1a" stroke-width="1.2"/>
<text x="478.10" y="397.40" font-size="6.8" text-anchor="middle" fill="#2a2a2a" stroke="#2a2a2a" stroke-width="0.25" textLength="5.90" lengthAdjust="spacingAndGlyphs">10</text>
<line x1="493.65" y1="387.00" x2="493.65" y2="390.20" stroke="#1a1a1a" stroke-width="1.2"/>
<text x="493.65" y="397.40" font-size="6.8" text-anchor="middle" fill="#2a2a2a" stroke="#2a2a2a" stroke-width="0.25" textLength="5.90" lengthAdjust="spacingAndGlyphs">15</text>
<line x1="509.20" y1="387.00" x2="509.20" y2="390.20" stroke="#1a1a1a" stroke-width="1.2"/>
<text x="509.20" y="397.40" font-size="6.8" text-anchor="middle" fill="#2a2a2a" stroke="#2a2a2a" stroke-width="0.25" textLength="5.90" lengthAdjust="spacingAndGlyphs">20</text>
<text x="462.65" y="407.00" font-size="7.9" text-anchor="middle" fill="#2a2a2a" stroke="#2a2a2a" stroke-width="0.3" textLength="68.40" lengthAdjust="spacingAndGlyphs">Day relative to CRS onset</text>
<text transform="translate(398.80,342.40) rotate(-90)" font-size="7.9" text-anchor="middle" fill="#2a2a2a" stroke="#2a2a2a" stroke-width="0.3" textLength="73.80" lengthAdjust="spacingAndGlyphs">Triglyceride levels (mg/dL)</text>
<text x="391.20" y="292.00" font-size="11.6" font-weight="bold" fill="#000">J</text>
<rect x="458.70" y="299.20" width="1.8" height="1.8" fill="#333"/>
<rect x="462.07" y="299.20" width="1.8" height="1.8" fill="#333"/>
<rect x="465.43" y="299.20" width="1.8" height="1.8" fill="#333"/>
<rect x="468.80" y="299.20" width="1.8" height="1.8" fill="#333"/>
<rect x="472.17" y="299.20" width="1.8" height="1.8" fill="#333"/>
<rect x="475.53" y="299.20" width="1.8" height="1.8" fill="#333"/>
<rect x="478.90" y="299.20" width="1.8" height="1.8" fill="#333"/>
<rect x="500.00" y="299.20" width="1.8" height="1.8" fill="#333"/>
<polygon points="28.70,478.54 31.77,479.50 34.85,481.04 37.92,479.69 41.00,479.69 44.08,479.50 47.15,480.08 50.23,480.46 53.30,480.46 56.38,481.81 59.45,481.81 62.53,478.54 65.61,478.15 68.68,479.88 71.76,481.62 74.84,481.62 77.91,482.96 80.99,484.88 84.07,485.85 87.15,486.62 90.22,485.65 93.30,485.85 96.38,485.85 99.46,484.50 102.53,482.96 105.61,484.31 108.69,484.50 111.77,483.54 114.84,482.19 117.92,479.88 121.00,480.85 121.00,486.62 117.92,485.65 114.84,487.96 111.77,489.31 108.69,490.27 105.61,490.08 102.53,488.73 99.46,490.27 96.38,491.62 93.30,491.62 90.22,491.42 87.15,492.38 84.07,491.62 80.99,490.65 77.91,488.73 74.84,487.38 71.76,487.38 68.68,485.65 65.61,483.92 62.53,484.31 59.45,487.58 56.38,487.58 53.30,486.23 50.23,486.23 47.15,485.85 44.08,485.27 41.00,485.46 37.92,485.46 34.85,486.81 31.77,485.27 28.70,484.31" fill="#d3e1ee" fill-opacity="0.95" stroke="#b3c9de" stroke-width="0.7" stroke-opacity="0.85"/>
<polygon points="28.70,481.04 31.77,482.00 34.85,482.38 37.92,481.62 41.00,482.96 44.08,483.73 47.15,484.31 50.23,485.27 53.30,483.35 56.38,482.96 59.45,483.92 62.53,480.46 65.61,478.15 68.68,471.62 71.76,449.69 74.84,457.58 77.91,471.04 80.99,478.92 84.07,482.00 87.15,482.19 90.22,468.92 93.30,466.23 96.38,465.65 99.46,461.81 102.53,467.00 105.61,470.27 108.69,473.54 111.77,478.92 114.84,481.42 117.92,480.85 121.00,483.54 121.00,490.46 117.92,487.77 114.84,488.35 111.77,487.00 108.69,486.42 105.61,486.42 102.53,486.42 99.46,485.85 96.38,486.42 93.30,486.42 90.22,486.42 87.15,489.12 84.07,488.92 80.99,487.00 77.91,487.00 74.84,485.85 71.76,480.46 68.68,479.31 65.61,485.08 62.53,487.38 59.45,490.85 56.38,489.88 53.30,490.27 50.23,492.19 47.15,491.23 44.08,490.65 41.00,489.88 37.92,488.54 34.85,489.31 31.77,488.92 28.70,487.96" fill="#f5cdd6" fill-opacity="0.8" stroke="#eba9b8" stroke-width="0.7" stroke-opacity="0.85"/>
<polyline points="28.70,481.42 31.77,482.38 34.85,483.92 37.92,482.58 41.00,482.58 44.08,482.38 47.15,482.96 50.23,483.35 53.30,483.35 56.38,484.69 59.45,484.69 62.53,481.42 65.61,481.04 68.68,482.77 71.76,484.50 74.84,484.50 77.91,485.85 80.99,487.77 84.07,488.73 87.15,489.50 90.22,488.54 93.30,488.73 96.38,488.73 99.46,487.38 102.53,485.85 105.61,487.19 108.69,487.38 111.77,486.42 114.84,485.08 117.92,482.77 121.00,483.73" fill="none" stroke="#3a76ad" stroke-width="0.95" stroke-linejoin="round"/>
<circle cx="28.70" cy="481.42" r="1.05" fill="#0c3b6e"/>
<circle cx="31.77" cy="482.38" r="1.05" fill="#0c3b6e"/>
<circle cx="34.85" cy="483.92" r="1.05" fill="#0c3b6e"/>
<circle cx="37.92" cy="482.58" r="1.05" fill="#0c3b6e"/>
<circle cx="41.00" cy="482.58" r="1.05" fill="#0c3b6e"/>
<circle cx="44.08" cy="482.38" r="1.05" fill="#0c3b6e"/>
<circle cx="47.15" cy="482.96" r="1.05" fill="#0c3b6e"/>
<circle cx="50.23" cy="483.35" r="1.05" fill="#0c3b6e"/>
<circle cx="53.30" cy="483.35" r="1.05" fill="#0c3b6e"/>
<circle cx="56.38" cy="484.69" r="1.05" fill="#0c3b6e"/>
<circle cx="59.45" cy="484.69" r="1.05" fill="#0c3b6e"/>
<circle cx="62.53" cy="481.42" r="1.05" fill="#0c3b6e"/>
<circle cx="65.61" cy="481.04" r="1.05" fill="#0c3b6e"/>
<circle cx="68.68" cy="482.77" r="1.05" fill="#0c3b6e"/>
<circle cx="71.76" cy="484.50" r="1.05" fill="#0c3b6e"/>
<circle cx="74.84" cy="484.50" r="1.05" fill="#0c3b6e"/>
<circle cx="77.91" cy="485.85" r="1.05" fill="#0c3b6e"/>
<circle cx="80.99" cy="487.77" r="1.05" fill="#0c3b6e"/>
<circle cx="84.07" cy="488.73" r="1.05" fill="#0c3b6e"/>
<circle cx="87.15" cy="489.50" r="1.05" fill="#0c3b6e"/>
<circle cx="90.22" cy="488.54" r="1.05" fill="#0c3b6e"/>
<circle cx="93.30" cy="488.73" r="1.05" fill="#0c3b6e"/>
<circle cx="96.38" cy="488.73" r="1.05" fill="#0c3b6e"/>
<circle cx="99.46" cy="487.38" r="1.05" fill="#0c3b6e"/>
<circle cx="102.53" cy="485.85" r="1.05" fill="#0c3b6e"/>
<circle cx="105.61" cy="487.19" r="1.05" fill="#0c3b6e"/>
<circle cx="108.69" cy="487.38" r="1.05" fill="#0c3b6e"/>
<circle cx="111.77" cy="486.42" r="1.05" fill="#0c3b6e"/>
<circle cx="114.84" cy="485.08" r="1.05" fill="#0c3b6e"/>
<circle cx="117.92" cy="482.77" r="1.05" fill="#0c3b6e"/>
<circle cx="121.00" cy="483.73" r="1.05" fill="#0c3b6e"/>
<polyline points="28.70,484.50 31.77,485.46 34.85,485.85 37.92,485.08 41.00,486.42 44.08,487.19 47.15,487.77 50.23,488.73 53.30,486.81 56.38,486.42 59.45,487.38 62.53,483.92 65.61,481.62 68.68,475.46 71.76,464.69 74.84,469.12 77.91,478.92 80.99,483.15 84.07,485.46 87.15,485.65 90.22,479.69 93.30,477.00 96.38,477.00 99.46,474.31 102.53,477.58 105.61,478.92 108.69,479.88 111.77,483.15 114.84,484.88 117.92,484.31 121.00,487.00" fill="none" stroke="#d22c51" stroke-width="0.95" stroke-linejoin="round"/>
<circle cx="28.70" cy="484.50" r="1.05" fill="#b80d33"/>
<circle cx="31.77" cy="485.46" r="1.05" fill="#b80d33"/>
<circle cx="34.85" cy="485.85" r="1.05" fill="#b80d33"/>
<circle cx="37.92" cy="485.08" r="1.05" fill="#b80d33"/>
<circle cx="41.00" cy="486.42" r="1.05" fill="#b80d33"/>
<circle cx="44.08" cy="487.19" r="1.05" fill="#b80d33"/>
<circle cx="47.15" cy="487.77" r="1.05" fill="#b80d33"/>
<circle cx="50.23" cy="488.73" r="1.05" fill="#b80d33"/>
<circle cx="53.30" cy="486.81" r="1.05" fill="#b80d33"/>
<circle cx="56.38" cy="486.42" r="1.05" fill="#b80d33"/>
<circle cx="59.45" cy="487.38" r="1.05" fill="#b80d33"/>
<circle cx="62.53" cy="483.92" r="1.05" fill="#b80d33"/>
<circle cx="65.61" cy="481.62" r="1.05" fill="#b80d33"/>
<circle cx="68.68" cy="475.46" r="1.05" fill="#b80d33"/>
<circle cx="71.76" cy="464.69" r="1.05" fill="#b80d33"/>
<circle cx="74.84" cy="469.12" r="1.05" fill="#b80d33"/>
<circle cx="77.91" cy="478.92" r="1.05" fill="#b80d33"/>
<circle cx="80.99" cy="483.15" r="1.05" fill="#b80d33"/>
<circle cx="84.07" cy="485.46" r="1.05" fill="#b80d33"/>
<circle cx="87.15" cy="485.65" r="1.05" fill="#b80d33"/>
<circle cx="90.22" cy="479.69" r="1.05" fill="#b80d33"/>
<circle cx="93.30" cy="477.00" r="1.05" fill="#b80d33"/>
<circle cx="96.38" cy="477.00" r="1.05" fill="#b80d33"/>
<circle cx="99.46" cy="474.31" r="1.05" fill="#b80d33"/>
<circle cx="102.53" cy="477.58" r="1.05" fill="#b80d33"/>
<circle cx="105.61" cy="478.92" r="1.05" fill="#b80d33"/>
<circle cx="108.69" cy="479.88" r="1.05" fill="#b80d33"/>
<circle cx="111.77" cy="483.15" r="1.05" fill="#b80d33"/>
<circle cx="114.84" cy="484.88" r="1.05" fill="#b80d33"/>
<circle cx="117.92" cy="484.31" r="1.05" fill="#b80d33"/>
<circle cx="121.00" cy="487.00" r="1.05" fill="#b80d33"/>
<line x1="59.45" y1="426.2" x2="59.45" y2="516.2" stroke="#1a1a1a" stroke-width="1.2" stroke-dasharray="3,1.5"/>
<path d="M28.70,425.70 V516.20 H121.50" fill="none" stroke="#1a1a1a" stroke-width="1.6"/>
<line x1="25.40" y1="516.20" x2="28.70" y2="516.20" stroke="#1a1a1a" stroke-width="1.2"/>
<text x="24.20" y="518.70" font-size="6.8" text-anchor="end" fill="#2a2a2a" stroke="#2a2a2a" stroke-width="0.25" textLength="7.20" lengthAdjust="spacingAndGlyphs">0.0</text>
<line x1="25.40" y1="504.29" x2="28.70" y2="504.29" stroke="#1a1a1a" stroke-width="1.2"/>
<text x="24.20" y="506.79" font-size="6.8" text-anchor="end" fill="#2a2a2a" stroke="#2a2a2a" stroke-width="0.25" textLength="7.20" lengthAdjust="spacingAndGlyphs">0.2</text>
<line x1="25.40" y1="492.37" x2="28.70" y2="492.37" stroke="#1a1a1a" stroke-width="1.2"/>
<text x="24.20" y="494.87" font-size="6.8" text-anchor="end" fill="#2a2a2a" stroke="#2a2a2a" stroke-width="0.25" textLength="7.20" lengthAdjust="spacingAndGlyphs">0.4</text>
<line x1="25.40" y1="480.46" x2="28.70" y2="480.46" stroke="#1a1a1a" stroke-width="1.2"/>
<text x="24.20" y="482.96" font-size="6.8" text-anchor="end" fill="#2a2a2a" stroke="#2a2a2a" stroke-width="0.25" textLength="7.20" lengthAdjust="spacingAndGlyphs">0.6</text>
<line x1="25.40" y1="468.54" x2="28.70" y2="468.54" stroke="#1a1a1a" stroke-width="1.2"/>
<text x="24.20" y="471.04" font-size="6.8" text-anchor="end" fill="#2a2a2a" stroke="#2a2a2a" stroke-width="0.25" textLength="7.20" lengthAdjust="spacingAndGlyphs">0.8</text>
<line x1="25.40" y1="456.63" x2="28.70" y2="456.63" stroke="#1a1a1a" stroke-width="1.2"/>
<text x="24.20" y="459.13" font-size="6.8" text-anchor="end" fill="#2a2a2a" stroke="#2a2a2a" stroke-width="0.25" textLength="7.20" lengthAdjust="spacingAndGlyphs">1.0</text>
<line x1="25.40" y1="444.71" x2="28.70" y2="444.71" stroke="#1a1a1a" stroke-width="1.2"/>
<text x="24.20" y="447.21" font-size="6.8" text-anchor="end" fill="#2a2a2a" stroke="#2a2a2a" stroke-width="0.25" textLength="7.20" lengthAdjust="spacingAndGlyphs">1.2</text>
<line x1="25.40" y1="432.80" x2="28.70" y2="432.80" stroke="#1a1a1a" stroke-width="1.2"/>
<text x="24.20" y="435.30" font-size="6.8" text-anchor="end" fill="#2a2a2a" stroke="#2a2a2a" stroke-width="0.25" textLength="7.20" lengthAdjust="spacingAndGlyphs">1.4</text>
<line x1="28.70" y1="516.20" x2="28.70" y2="519.40" stroke="#1a1a1a" stroke-width="1.2"/>
<text x="27.70" y="526.60" font-size="6.8" text-anchor="middle" fill="#2a2a2a" stroke="#2a2a2a" stroke-width="0.25" textLength="8.20" lengthAdjust="spacingAndGlyphs">-10</text>
<line x1="44.08" y1="516.20" x2="44.08" y2="519.40" stroke="#1a1a1a" stroke-width="1.2"/>
<text x="43.08" y="526.60" font-size="6.8" text-anchor="middle" fill="#2a2a2a" stroke="#2a2a2a" stroke-width="0.25" textLength="5.25" lengthAdjust="spacingAndGlyphs">-5</text>
<line x1="59.45" y1="516.20" x2="59.45" y2="519.40" stroke="#1a1a1a" stroke-width="1.2"/>
<text x="59.45" y="526.60" font-size="6.8" text-anchor="middle" fill="#2a2a2a" stroke="#2a2a2a" stroke-width="0.25" textLength="2.95" lengthAdjust="spacingAndGlyphs">0</text>
<line x1="74.84" y1="516.20" x2="74.84" y2="519.40" stroke="#1a1a1a" stroke-width="1.2"/>
<text x="74.84" y="526.60" font-size="6.8" text-anchor="middle" fill="#2a2a2a" stroke="#2a2a2a" stroke-width="0.25" textLength="2.95" lengthAdjust="spacingAndGlyphs">5</text>
<line x1="90.22" y1="516.20" x2="90.22" y2="519.40" stroke="#1a1a1a" stroke-width="1.2"/>
<text x="90.22" y="526.60" font-size="6.8" text-anchor="middle" fill="#2a2a2a" stroke="#2a2a2a" stroke-width="0.25" textLength="5.90" lengthAdjust="spacingAndGlyphs">10</text>
<line x1="105.61" y1="516.20" x2="105.61" y2="519.40" stroke="#1a1a1a" stroke-width="1.2"/>
<text x="105.61" y="526.60" font-size="6.8" text-anchor="middle" fill="#2a2a2a" stroke="#2a2a2a" stroke-width="0.25" textLength="5.90" lengthAdjust="spacingAndGlyphs">15</text>
<line x1="121.00" y1="516.20" x2="121.00" y2="519.40" stroke="#1a1a1a" stroke-width="1.2"/>
<text x="121.00" y="526.60" font-size="6.8" text-anchor="middle" fill="#2a2a2a" stroke="#2a2a2a" stroke-width="0.25" textLength="5.90" lengthAdjust="spacingAndGlyphs">20</text>
<text x="74.85" y="536.20" font-size="7.9" text-anchor="middle" fill="#2a2a2a" stroke="#2a2a2a" stroke-width="0.3" textLength="68.40" lengthAdjust="spacingAndGlyphs">Day relative to CRS onset</text>
<text transform="translate(12.80,472.00) rotate(-90)" font-size="7.9" text-anchor="middle" fill="#2a2a2a" stroke="#2a2a2a" stroke-width="0.3" textLength="79.70" lengthAdjust="spacingAndGlyphs">Total creatinine levels (mg/L)</text>
<text x="6.30" y="419.80" font-size="11.6" font-weight="bold" fill="#000">K</text>
<polygon points="157.50,473.54 160.59,469.12 163.68,472.96 166.77,476.81 169.86,475.46 172.95,482.58 176.04,489.31 179.13,494.12 182.22,498.54 185.31,498.92 188.40,500.08 191.43,495.08 194.45,482.96 197.47,504.69 200.50,503.73 203.53,502.19 206.55,502.96 209.58,503.35 212.60,503.73 215.62,501.42 218.65,502.19 221.68,501.42 224.70,497.96 227.73,488.73 230.75,497.96 233.78,502.77 236.80,495.46 239.82,497.38 242.85,504.31 245.88,495.46 248.90,500.46 248.90,508.15 245.88,503.15 242.85,512.00 239.82,505.08 236.80,503.15 233.78,510.46 230.75,505.65 227.73,498.35 224.70,503.73 221.68,507.19 218.65,507.96 215.62,507.19 212.60,509.50 209.58,509.12 206.55,508.73 203.53,507.96 200.50,509.50 197.47,510.46 194.45,499.31 191.43,504.69 188.40,504.69 185.31,503.54 182.22,503.15 179.13,503.73 176.04,498.92 172.95,492.19 169.86,490.85 166.77,492.19 163.68,488.35 160.59,484.50 157.50,492.77" fill="#d3e1ee" fill-opacity="0.95" stroke="#b3c9de" stroke-width="0.7" stroke-opacity="0.85"/>
<polygon points="157.50,465.85 160.59,456.04 163.68,455.27 166.77,458.15 169.86,457.96 172.95,468.15 176.04,476.81 179.13,490.85 182.22,486.81 185.31,497.96 188.40,501.23 191.43,506.62 194.45,508.92 197.47,510.46 200.50,511.62 203.53,512.38 206.55,512.38 209.58,512.38 212.60,510.85 215.62,509.31 218.65,510.08 221.68,509.31 224.70,510.08 227.73,510.85 230.75,510.85 233.78,509.69 236.80,509.69 239.82,510.85 242.85,512.77 245.88,506.23 248.90,508.54 248.90,512.38 245.88,510.85 242.85,515.85 239.82,513.92 236.80,512.77 233.78,512.77 230.75,513.92 227.73,513.92 224.70,513.15 221.68,512.38 218.65,513.15 215.62,512.38 212.60,513.92 209.58,515.46 206.55,515.46 203.53,515.46 200.50,514.69 197.47,513.54 194.45,512.00 191.43,509.69 188.40,505.08 185.31,503.73 182.22,504.12 179.13,506.23 176.04,499.88 172.95,498.92 169.86,490.65 166.77,488.92 163.68,487.96 160.59,488.73 157.50,492.77" fill="#f5cdd6" fill-opacity="0.8" stroke="#eba9b8" stroke-width="0.7" stroke-opacity="0.85"/>
<polyline points="157.50,483.15 160.59,476.81 163.68,480.65 166.77,484.50 169.86,483.15 172.95,487.38 176.04,494.12 179.13,498.92 182.22,500.85 185.31,501.23 188.40,502.38 191.43,499.88 194.45,493.54 197.47,507.58 200.50,506.62 203.53,505.08 206.55,505.85 209.58,506.23 212.60,506.62 215.62,504.31 218.65,505.08 221.68,504.31 224.70,500.85 227.73,493.54 230.75,501.81 233.78,506.62 236.80,499.31 239.82,501.23 242.85,508.15 245.88,499.31 248.90,504.31" fill="none" stroke="#3a76ad" stroke-width="0.95" stroke-linejoin="round"/>
<circle cx="157.50" cy="483.15" r="1.05" fill="#0c3b6e"/>
<circle cx="160.59" cy="476.81" r="1.05" fill="#0c3b6e"/>
<circle cx="163.68" cy="480.65" r="1.05" fill="#0c3b6e"/>
<circle cx="166.77" cy="484.50" r="1.05" fill="#0c3b6e"/>
<circle cx="169.86" cy="483.15" r="1.05" fill="#0c3b6e"/>
<circle cx="172.95" cy="487.38" r="1.05" fill="#0c3b6e"/>
<circle cx="176.04" cy="494.12" r="1.05" fill="#0c3b6e"/>
<circle cx="179.13" cy="498.92" r="1.05" fill="#0c3b6e"/>
<circle cx="182.22" cy="500.85" r="1.05" fill="#0c3b6e"/>
<circle cx="185.31" cy="501.23" r="1.05" fill="#0c3b6e"/>
<circle cx="188.40" cy="502.38" r="1.05" fill="#0c3b6e"/>
<circle cx="191.43" cy="499.88" r="1.05" fill="#0c3b6e"/>
<circle cx="194.45" cy="493.54" r="1.05" fill="#0c3b6e"/>
<circle cx="197.47" cy="507.58" r="1.05" fill="#0c3b6e"/>
<circle cx="200.50" cy="506.62" r="1.05" fill="#0c3b6e"/>
<circle cx="203.53" cy="505.08" r="1.05" fill="#0c3b6e"/>
<circle cx="206.55" cy="505.85" r="1.05" fill="#0c3b6e"/>
<circle cx="209.58" cy="506.23" r="1.05" fill="#0c3b6e"/>
<circle cx="212.60" cy="506.62" r="1.05" fill="#0c3b6e"/>
<circle cx="215.62" cy="504.31" r="1.05" fill="#0c3b6e"/>
<circle cx="218.65" cy="505.08" r="1.05" fill="#0c3b6e"/>
<circle cx="221.68" cy="504.31" r="1.05" fill="#0c3b6e"/>
<circle cx="224.70" cy="500.85" r="1.05" fill="#0c3b6e"/>
<circle cx="227.73" cy="493.54" r="1.05" fill="#0c3b6e"/>
<circle cx="230.75" cy="501.81" r="1.05" fill="#0c3b6e"/>
<circle cx="233.78" cy="506.62" r="1.05" fill="#0c3b6e"/>
<circle cx="236.80" cy="499.31" r="1.05" fill="#0c3b6e"/>
<circle cx="239.82" cy="501.23" r="1.05" fill="#0c3b6e"/>
<circle cx="242.85" cy="508.15" r="1.05" fill="#0c3b6e"/>
<circle cx="245.88" cy="499.31" r="1.05" fill="#0c3b6e"/>
<circle cx="248.90" cy="504.31" r="1.05" fill="#0c3b6e"/>
<polyline points="157.50,479.31 160.59,472.38 163.68,471.62 166.77,473.54 169.86,474.31 172.95,483.54 176.04,488.35 179.13,498.54 182.22,495.46 185.31,500.85 188.40,503.15 191.43,508.15 194.45,510.46 197.47,512.00 200.50,513.15 203.53,513.92 206.55,513.92 209.58,513.92 212.60,512.38 215.62,510.85 218.65,511.62 221.68,510.85 224.70,511.62 227.73,512.38 230.75,512.38 233.78,511.23 236.80,511.23 239.82,512.38 242.85,514.31 245.88,508.54 248.90,510.46" fill="none" stroke="#d22c51" stroke-width="0.95" stroke-linejoin="round"/>
<circle cx="157.50" cy="479.31" r="1.05" fill="#b80d33"/>
<circle cx="160.59" cy="472.38" r="1.05" fill="#b80d33"/>
<circle cx="163.68" cy="471.62" r="1.05" fill="#b80d33"/>
<circle cx="166.77" cy="473.54" r="1.05" fill="#b80d33"/>
<circle cx="169.86" cy="474.31" r="1.05" fill="#b80d33"/>
<circle cx="172.95" cy="483.54" r="1.05" fill="#b80d33"/>
<circle cx="176.04" cy="488.35" r="1.05" fill="#b80d33"/>
<circle cx="179.13" cy="498.54" r="1.05" fill="#b80d33"/>
<circle cx="182.22" cy="495.46" r="1.05" fill="#b80d33"/>
<circle cx="185.31" cy="500.85" r="1.05" fill="#b80d33"/>
<circle cx="188.40" cy="503.15" r="1.05" fill="#b80d33"/>
<circle cx="191.43" cy="508.15" r="1.05" fill="#b80d33"/>
<circle cx="194.45" cy="510.46" r="1.05" fill="#b80d33"/>
<circle cx="197.47" cy="512.00" r="1.05" fill="#b80d33"/>
<circle cx="200.50" cy="513.15" r="1.05" fill="#b80d33"/>
<circle cx="203.53" cy="513.92" r="1.05" fill="#b80d33"/>
<circle cx="206.55" cy="513.92" r="1.05" fill="#b80d33"/>
<circle cx="209.58" cy="513.92" r="1.05" fill="#b80d33"/>
<circle cx="212.60" cy="512.38" r="1.05" fill="#b80d33"/>
<circle cx="215.62" cy="510.85" r="1.05" fill="#b80d33"/>
<circle cx="218.65" cy="511.62" r="1.05" fill="#b80d33"/>
<circle cx="221.68" cy="510.85" r="1.05" fill="#b80d33"/>
<circle cx="224.70" cy="511.62" r="1.05" fill="#b80d33"/>
<circle cx="227.73" cy="512.38" r="1.05" fill="#b80d33"/>
<circle cx="230.75" cy="512.38" r="1.05" fill="#b80d33"/>
<circle cx="233.78" cy="511.23" r="1.05" fill="#b80d33"/>
<circle cx="236.80" cy="511.23" r="1.05" fill="#b80d33"/>
<circle cx="239.82" cy="512.38" r="1.05" fill="#b80d33"/>
<circle cx="242.85" cy="514.31" r="1.05" fill="#b80d33"/>
<circle cx="245.88" cy="508.54" r="1.05" fill="#b80d33"/>
<circle cx="248.90" cy="510.46" r="1.05" fill="#b80d33"/>
<line x1="188.40" y1="427.4" x2="188.40" y2="516.2" stroke="#1a1a1a" stroke-width="1.2" stroke-dasharray="3,1.5"/>
<path d="M157.50,426.90 V516.20 H249.40" fill="none" stroke="#1a1a1a" stroke-width="1.6"/>
<line x1="154.20" y1="516.20" x2="157.50" y2="516.20" stroke="#1a1a1a" stroke-width="1.2"/>
<text x="153.00" y="518.70" font-size="6.8" text-anchor="end" fill="#2a2a2a" stroke="#2a2a2a" stroke-width="0.25" textLength="2.95" lengthAdjust="spacingAndGlyphs">0</text>
<line x1="154.20" y1="505.10" x2="157.50" y2="505.10" stroke="#1a1a1a" stroke-width="1.2"/>
<text x="153.00" y="507.60" font-size="6.8" text-anchor="end" fill="#2a2a2a" stroke="#2a2a2a" stroke-width="0.25" textLength="8.85" lengthAdjust="spacingAndGlyphs">500</text>
<line x1="154.20" y1="494.00" x2="157.50" y2="494.00" stroke="#1a1a1a" stroke-width="1.2"/>
<text x="153.00" y="496.50" font-size="6.8" text-anchor="end" fill="#2a2a2a" stroke="#2a2a2a" stroke-width="0.25" textLength="11.80" lengthAdjust="spacingAndGlyphs">1000</text>
<line x1="154.20" y1="482.90" x2="157.50" y2="482.90" stroke="#1a1a1a" stroke-width="1.2"/>
<text x="153.00" y="485.40" font-size="6.8" text-anchor="end" fill="#2a2a2a" stroke="#2a2a2a" stroke-width="0.25" textLength="11.80" lengthAdjust="spacingAndGlyphs">1500</text>
<line x1="154.20" y1="471.80" x2="157.50" y2="471.80" stroke="#1a1a1a" stroke-width="1.2"/>
<text x="153.00" y="474.30" font-size="6.8" text-anchor="end" fill="#2a2a2a" stroke="#2a2a2a" stroke-width="0.25" textLength="11.80" lengthAdjust="spacingAndGlyphs">2000</text>
<line x1="154.20" y1="460.70" x2="157.50" y2="460.70" stroke="#1a1a1a" stroke-width="1.2"/>
<text x="153.00" y="463.20" font-size="6.8" text-anchor="end" fill="#2a2a2a" stroke="#2a2a2a" stroke-width="0.25" textLength="11.80" lengthAdjust="spacingAndGlyphs">2500</text>
<line x1="154.20" y1="449.60" x2="157.50" y2="449.60" stroke="#1a1a1a" stroke-width="1.2"/>
<text x="153.00" y="452.10" font-size="6.8" text-anchor="end" fill="#2a2a2a" stroke="#2a2a2a" stroke-width="0.25" textLength="11.80" lengthAdjust="spacingAndGlyphs">3000</text>
<line x1="154.20" y1="438.50" x2="157.50" y2="438.50" stroke="#1a1a1a" stroke-width="1.2"/>
<text x="153.00" y="441.00" font-size="6.8" text-anchor="end" fill="#2a2a2a" stroke="#2a2a2a" stroke-width="0.25" textLength="11.80" lengthAdjust="spacingAndGlyphs">3500</text>
<line x1="154.20" y1="427.40" x2="157.50" y2="427.40" stroke="#1a1a1a" stroke-width="1.2"/>
<text x="153.00" y="429.90" font-size="6.8" text-anchor="end" fill="#2a2a2a" stroke="#2a2a2a" stroke-width="0.25" textLength="11.80" lengthAdjust="spacingAndGlyphs">4000</text>
<line x1="157.50" y1="516.20" x2="157.50" y2="519.40" stroke="#1a1a1a" stroke-width="1.2"/>
<text x="156.50" y="526.60" font-size="6.8" text-anchor="middle" fill="#2a2a2a" stroke="#2a2a2a" stroke-width="0.25" textLength="8.20" lengthAdjust="spacingAndGlyphs">-10</text>
<line x1="172.95" y1="516.20" x2="172.95" y2="519.40" stroke="#1a1a1a" stroke-width="1.2"/>
<text x="171.95" y="526.60" font-size="6.8" text-anchor="middle" fill="#2a2a2a" stroke="#2a2a2a" stroke-width="0.25" textLength="5.25" lengthAdjust="spacingAndGlyphs">-5</text>
<line x1="188.40" y1="516.20" x2="188.40" y2="519.40" stroke="#1a1a1a" stroke-width="1.2"/>
<text x="188.40" y="526.60" font-size="6.8" text-anchor="middle" fill="#2a2a2a" stroke="#2a2a2a" stroke-width="0.25" textLength="2.95" lengthAdjust="spacingAndGlyphs">0</text>
<line x1="203.53" y1="516.20" x2="203.53" y2="519.40" stroke="#1a1a1a" stroke-width="1.2"/>
<text x="203.53" y="526.60" font-size="6.8" text-anchor="middle" fill="#2a2a2a" stroke="#2a2a2a" stroke-width="0.25" textLength="2.95" lengthAdjust="spacingAndGlyphs">5</text>
<line x1="218.65" y1="516.20" x2="218.65" y2="519.40" stroke="#1a1a1a" stroke-width="1.2"/>
<text x="218.65" y="526.60" font-size="6.8" text-anchor="middle" fill="#2a2a2a" stroke="#2a2a2a" stroke-width="0.25" textLength="5.90" lengthAdjust="spacingAndGlyphs">10</text>
<line x1="233.78" y1="516.20" x2="233.78" y2="519.40" stroke="#1a1a1a" stroke-width="1.2"/>
<text x="233.78" y="526.60" font-size="6.8" text-anchor="middle" fill="#2a2a2a" stroke="#2a2a2a" stroke-width="0.25" textLength="5.90" lengthAdjust="spacingAndGlyphs">15</text>
<line x1="248.90" y1="516.20" x2="248.90" y2="519.40" stroke="#1a1a1a" stroke-width="1.2"/>
<text x="248.90" y="526.60" font-size="6.8" text-anchor="middle" fill="#2a2a2a" stroke="#2a2a2a" stroke-width="0.25" textLength="5.90" lengthAdjust="spacingAndGlyphs">20</text>
<text x="203.20" y="536.20" font-size="7.9" text-anchor="middle" fill="#2a2a2a" stroke="#2a2a2a" stroke-width="0.3" textLength="68.40" lengthAdjust="spacingAndGlyphs">Day relative to CRS onset</text>
<text transform="translate(136.80,472.20) rotate(-90)" font-size="7.9" text-anchor="middle" fill="#2a2a2a" stroke="#2a2a2a" stroke-width="0.3" textLength="98.90" lengthAdjust="spacingAndGlyphs">Absolute neutrophil count (cells/µL)</text>
<text x="130.50" y="419.80" font-size="11.6" font-weight="bold" fill="#000">L</text>
<rect x="190.20" y="428.40" width="1.8" height="1.8" fill="#333"/>
<rect x="193.55" y="428.40" width="1.8" height="1.8" fill="#333"/>
<rect x="196.89" y="428.40" width="1.8" height="1.8" fill="#333"/>
<rect x="200.24" y="428.40" width="1.8" height="1.8" fill="#333"/>
<rect x="203.59" y="428.40" width="1.8" height="1.8" fill="#333"/>
<rect x="206.93" y="428.40" width="1.8" height="1.8" fill="#333"/>
<rect x="210.28" y="428.40" width="1.8" height="1.8" fill="#333"/>
<rect x="213.63" y="428.40" width="1.8" height="1.8" fill="#333"/>
<rect x="216.97" y="428.40" width="1.8" height="1.8" fill="#333"/>
<rect x="220.32" y="428.40" width="1.8" height="1.8" fill="#333"/>
<rect x="223.67" y="428.40" width="1.8" height="1.8" fill="#333"/>
<rect x="227.01" y="428.40" width="1.8" height="1.8" fill="#333"/>
<rect x="230.36" y="428.40" width="1.8" height="1.8" fill="#333"/>
<rect x="233.71" y="428.40" width="1.8" height="1.8" fill="#333"/>
<rect x="237.05" y="428.40" width="1.8" height="1.8" fill="#333"/>
<rect x="240.40" y="428.40" width="1.8" height="1.8" fill="#333"/>
<rect x="246.30" y="428.40" width="1.8" height="1.8" fill="#333"/>
<polygon points="285.10,460.08 288.10,460.08 291.10,459.50 294.10,461.42 297.10,463.35 300.10,464.69 303.10,467.19 306.10,468.15 309.10,469.12 312.10,470.08 315.10,471.62 318.12,476.23 321.14,479.31 324.16,482.58 327.18,483.15 330.20,480.65 333.22,481.23 336.24,491.23 339.26,484.50 342.28,478.73 345.30,475.46 348.32,491.42 351.34,483.92 354.36,477.77 357.38,477.77 360.40,490.27 363.42,478.73 366.44,478.73 369.46,496.42 372.48,462.00 375.50,479.69 375.50,491.23 372.48,481.23 369.46,502.19 366.44,492.19 363.42,492.19 360.40,496.04 357.38,492.38 354.36,492.38 351.34,495.46 348.32,497.19 345.30,490.08 342.28,492.19 339.26,494.12 336.24,497.00 333.22,492.77 330.20,492.19 327.18,494.69 324.16,494.12 321.14,490.85 318.12,487.77 315.10,487.00 312.10,485.46 309.10,484.50 306.10,483.54 303.10,482.58 300.10,480.08 297.10,478.73 294.10,476.81 291.10,474.88 288.10,475.46 285.10,475.46" fill="#d3e1ee" fill-opacity="0.95" stroke="#b3c9de" stroke-width="0.7" stroke-opacity="0.85"/>
<polygon points="285.10,459.50 288.10,457.58 291.10,458.54 294.10,460.46 297.10,462.96 300.10,464.88 303.10,471.04 306.10,474.31 309.10,476.23 312.10,478.15 315.10,479.31 318.12,482.77 321.14,485.08 324.16,489.88 327.18,495.65 330.20,491.81 333.22,491.81 336.24,491.23 339.26,492.58 342.28,493.15 345.30,494.12 348.32,493.73 351.34,492.19 354.36,490.27 357.38,488.35 360.40,495.65 363.42,497.00 366.44,489.88 369.46,492.19 372.48,493.73 375.50,491.81 375.50,497.58 372.48,499.50 369.46,497.96 366.44,495.65 363.42,502.77 360.40,501.42 357.38,494.12 354.36,496.04 351.34,497.96 348.32,499.50 345.30,499.88 342.28,498.92 339.26,498.35 336.24,497.00 333.22,500.27 330.20,500.27 327.18,504.12 324.16,498.35 321.14,493.54 318.12,491.23 315.10,490.85 312.10,489.69 309.10,487.77 306.10,485.85 303.10,482.58 300.10,482.19 297.10,480.27 294.10,477.77 291.10,475.85 288.10,474.88 285.10,476.81" fill="#f5cdd6" fill-opacity="0.8" stroke="#eba9b8" stroke-width="0.7" stroke-opacity="0.85"/>
<polyline points="285.10,467.77 288.10,467.77 291.10,467.19 294.10,469.12 297.10,471.04 300.10,472.38 303.10,474.88 306.10,475.85 309.10,476.81 312.10,477.77 315.10,479.31 318.12,482.00 321.14,485.08 324.16,488.35 327.18,488.92 330.20,486.42 333.22,487.00 336.24,494.12 339.26,489.31 342.28,485.46 345.30,482.77 348.32,494.31 351.34,489.69 354.36,485.08 357.38,485.08 360.40,493.15 363.42,485.46 366.44,485.46 369.46,499.31 372.48,471.62 375.50,485.46" fill="none" stroke="#3a76ad" stroke-width="0.95" stroke-linejoin="round"/>
<circle cx="285.10" cy="467.77" r="1.05" fill="#0c3b6e"/>
<circle cx="288.10" cy="467.77" r="1.05" fill="#0c3b6e"/>
<circle cx="291.10" cy="467.19" r="1.05" fill="#0c3b6e"/>
<circle cx="294.10" cy="469.12" r="1.05" fill="#0c3b6e"/>
<circle cx="297.10" cy="471.04" r="1.05" fill="#0c3b6e"/>
<circle cx="300.10" cy="472.38" r="1.05" fill="#0c3b6e"/>
<circle cx="303.10" cy="474.88" r="1.05" fill="#0c3b6e"/>
<circle cx="306.10" cy="475.85" r="1.05" fill="#0c3b6e"/>
<circle cx="309.10" cy="476.81" r="1.05" fill="#0c3b6e"/>
<circle cx="312.10" cy="477.77" r="1.05" fill="#0c3b6e"/>
<circle cx="315.10" cy="479.31" r="1.05" fill="#0c3b6e"/>
<circle cx="318.12" cy="482.00" r="1.05" fill="#0c3b6e"/>
<circle cx="321.14" cy="485.08" r="1.05" fill="#0c3b6e"/>
<circle cx="324.16" cy="488.35" r="1.05" fill="#0c3b6e"/>
<circle cx="327.18" cy="488.92" r="1.05" fill="#0c3b6e"/>
<circle cx="330.20" cy="486.42" r="1.05" fill="#0c3b6e"/>
<circle cx="333.22" cy="487.00" r="1.05" fill="#0c3b6e"/>
<circle cx="336.24" cy="494.12" r="1.05" fill="#0c3b6e"/>
<circle cx="339.26" cy="489.31" r="1.05" fill="#0c3b6e"/>
<circle cx="342.28" cy="485.46" r="1.05" fill="#0c3b6e"/>
<circle cx="345.30" cy="482.77" r="1.05" fill="#0c3b6e"/>
<circle cx="348.32" cy="494.31" r="1.05" fill="#0c3b6e"/>
<circle cx="351.34" cy="489.69" r="1.05" fill="#0c3b6e"/>
<circle cx="354.36" cy="485.08" r="1.05" fill="#0c3b6e"/>
<circle cx="357.38" cy="485.08" r="1.05" fill="#0c3b6e"/>
<circle cx="360.40" cy="493.15" r="1.05" fill="#0c3b6e"/>
<circle cx="363.42" cy="485.46" r="1.05" fill="#0c3b6e"/>
<circle cx="366.44" cy="485.46" r="1.05" fill="#0c3b6e"/>
<circle cx="369.46" cy="499.31" r="1.05" fill="#0c3b6e"/>
<circle cx="372.48" cy="471.62" r="1.05" fill="#0c3b6e"/>
<circle cx="375.50" cy="485.46" r="1.05" fill="#0c3b6e"/>
<polyline points="285.10,468.15 288.10,466.23 291.10,467.19 294.10,469.12 297.10,471.62 300.10,473.54 303.10,476.81 306.10,480.08 309.10,482.00 312.10,483.92 315.10,485.08 318.12,487.00 321.14,489.31 324.16,494.12 327.18,499.88 330.20,496.04 333.22,496.04 336.24,494.12 339.26,495.46 342.28,496.04 345.30,497.00 348.32,496.62 351.34,495.08 354.36,493.15 357.38,491.23 360.40,498.54 363.42,499.88 366.44,492.77 369.46,495.08 372.48,496.62 375.50,494.69" fill="none" stroke="#d22c51" stroke-width="0.95" stroke-linejoin="round"/>
<circle cx="285.10" cy="468.15" r="1.05" fill="#b80d33"/>
<circle cx="288.10" cy="466.23" r="1.05" fill="#b80d33"/>
<circle cx="291.10" cy="467.19" r="1.05" fill="#b80d33"/>
<circle cx="294.10" cy="469.12" r="1.05" fill="#b80d33"/>
<circle cx="297.10" cy="471.62" r="1.05" fill="#b80d33"/>
<circle cx="300.10" cy="473.54" r="1.05" fill="#b80d33"/>
<circle cx="303.10" cy="476.81" r="1.05" fill="#b80d33"/>
<circle cx="306.10" cy="480.08" r="1.05" fill="#b80d33"/>
<circle cx="309.10" cy="482.00" r="1.05" fill="#b80d33"/>
<circle cx="312.10" cy="483.92" r="1.05" fill="#b80d33"/>
<circle cx="315.10" cy="485.08" r="1.05" fill="#b80d33"/>
<circle cx="318.12" cy="487.00" r="1.05" fill="#b80d33"/>
<circle cx="321.14" cy="489.31" r="1.05" fill="#b80d33"/>
<circle cx="324.16" cy="494.12" r="1.05" fill="#b80d33"/>
<circle cx="327.18" cy="499.88" r="1.05" fill="#b80d33"/>
<circle cx="330.20" cy="496.04" r="1.05" fill="#b80d33"/>
<circle cx="333.22" cy="496.04" r="1.05" fill="#b80d33"/>
<circle cx="336.24" cy="494.12" r="1.05" fill="#b80d33"/>
<circle cx="339.26" cy="495.46" r="1.05" fill="#b80d33"/>
<circle cx="342.28" cy="496.04" r="1.05" fill="#b80d33"/>
<circle cx="345.30" cy="497.00" r="1.05" fill="#b80d33"/>
<circle cx="348.32" cy="496.62" r="1.05" fill="#b80d33"/>
<circle cx="351.34" cy="495.08" r="1.05" fill="#b80d33"/>
<circle cx="354.36" cy="493.15" r="1.05" fill="#b80d33"/>
<circle cx="357.38" cy="491.23" r="1.05" fill="#b80d33"/>
<circle cx="360.40" cy="498.54" r="1.05" fill="#b80d33"/>
<circle cx="363.42" cy="499.88" r="1.05" fill="#b80d33"/>
<circle cx="366.44" cy="492.77" r="1.05" fill="#b80d33"/>
<circle cx="369.46" cy="495.08" r="1.05" fill="#b80d33"/>
<circle cx="372.48" cy="496.62" r="1.05" fill="#b80d33"/>
<circle cx="375.50" cy="494.69" r="1.05" fill="#b80d33"/>
<line x1="315.10" y1="428.2" x2="315.10" y2="516.6" stroke="#1a1a1a" stroke-width="1.2" stroke-dasharray="3,1.5"/>
<path d="M285.10,427.70 V516.60 H376.00" fill="none" stroke="#1a1a1a" stroke-width="1.6"/>
<line x1="281.80" y1="516.60" x2="285.10" y2="516.60" stroke="#1a1a1a" stroke-width="1.2"/>
<text x="280.60" y="519.10" font-size="6.8" text-anchor="end" fill="#2a2a2a" stroke="#2a2a2a" stroke-width="0.25" textLength="2.95" lengthAdjust="spacingAndGlyphs">0</text>
<line x1="281.80" y1="504.84" x2="285.10" y2="504.84" stroke="#1a1a1a" stroke-width="1.2"/>
<text x="280.60" y="507.34" font-size="6.8" text-anchor="end" fill="#2a2a2a" stroke="#2a2a2a" stroke-width="0.25" textLength="14.75" lengthAdjust="spacingAndGlyphs">20000</text>
<line x1="281.80" y1="493.09" x2="285.10" y2="493.09" stroke="#1a1a1a" stroke-width="1.2"/>
<text x="280.60" y="495.59" font-size="6.8" text-anchor="end" fill="#2a2a2a" stroke="#2a2a2a" stroke-width="0.25" textLength="14.75" lengthAdjust="spacingAndGlyphs">40000</text>
<line x1="281.80" y1="481.33" x2="285.10" y2="481.33" stroke="#1a1a1a" stroke-width="1.2"/>
<text x="280.60" y="483.83" font-size="6.8" text-anchor="end" fill="#2a2a2a" stroke="#2a2a2a" stroke-width="0.25" textLength="14.75" lengthAdjust="spacingAndGlyphs">60000</text>
<line x1="281.80" y1="469.57" x2="285.10" y2="469.57" stroke="#1a1a1a" stroke-width="1.2"/>
<text x="280.60" y="472.07" font-size="6.8" text-anchor="end" fill="#2a2a2a" stroke="#2a2a2a" stroke-width="0.25" textLength="14.75" lengthAdjust="spacingAndGlyphs">80000</text>
<line x1="281.80" y1="457.81" x2="285.10" y2="457.81" stroke="#1a1a1a" stroke-width="1.2"/>
<text x="280.60" y="460.31" font-size="6.8" text-anchor="end" fill="#2a2a2a" stroke="#2a2a2a" stroke-width="0.25" textLength="17.70" lengthAdjust="spacingAndGlyphs">100000</text>
<line x1="281.80" y1="446.06" x2="285.10" y2="446.06" stroke="#1a1a1a" stroke-width="1.2"/>
<text x="280.60" y="448.56" font-size="6.8" text-anchor="end" fill="#2a2a2a" stroke="#2a2a2a" stroke-width="0.25" textLength="17.70" lengthAdjust="spacingAndGlyphs">120000</text>
<line x1="281.80" y1="434.30" x2="285.10" y2="434.30" stroke="#1a1a1a" stroke-width="1.2"/>
<text x="280.60" y="436.80" font-size="6.8" text-anchor="end" fill="#2a2a2a" stroke="#2a2a2a" stroke-width="0.25" textLength="17.70" lengthAdjust="spacingAndGlyphs">140000</text>
<line x1="285.10" y1="516.60" x2="285.10" y2="519.80" stroke="#1a1a1a" stroke-width="1.2"/>
<text x="284.10" y="527.00" font-size="6.8" text-anchor="middle" fill="#2a2a2a" stroke="#2a2a2a" stroke-width="0.25" textLength="8.20" lengthAdjust="spacingAndGlyphs">-10</text>
<line x1="300.10" y1="516.60" x2="300.10" y2="519.80" stroke="#1a1a1a" stroke-width="1.2"/>
<text x="299.10" y="527.00" font-size="6.8" text-anchor="middle" fill="#2a2a2a" stroke="#2a2a2a" stroke-width="0.25" textLength="5.25" lengthAdjust="spacingAndGlyphs">-5</text>
<line x1="315.10" y1="516.60" x2="315.10" y2="519.80" stroke="#1a1a1a" stroke-width="1.2"/>
<text x="315.10" y="527.00" font-size="6.8" text-anchor="middle" fill="#2a2a2a" stroke="#2a2a2a" stroke-width="0.25" textLength="2.95" lengthAdjust="spacingAndGlyphs">0</text>
<line x1="330.20" y1="516.60" x2="330.20" y2="519.80" stroke="#1a1a1a" stroke-width="1.2"/>
<text x="330.20" y="527.00" font-size="6.8" text-anchor="middle" fill="#2a2a2a" stroke="#2a2a2a" stroke-width="0.25" textLength="2.95" lengthAdjust="spacingAndGlyphs">5</text>
<line x1="345.30" y1="516.60" x2="345.30" y2="519.80" stroke="#1a1a1a" stroke-width="1.2"/>
<text x="345.30" y="527.00" font-size="6.8" text-anchor="middle" fill="#2a2a2a" stroke="#2a2a2a" stroke-width="0.25" textLength="5.90" lengthAdjust="spacingAndGlyphs">10</text>
<line x1="360.40" y1="516.60" x2="360.40" y2="519.80" stroke="#1a1a1a" stroke-width="1.2"/>
<text x="360.40" y="527.00" font-size="6.8" text-anchor="middle" fill="#2a2a2a" stroke="#2a2a2a" stroke-width="0.25" textLength="5.90" lengthAdjust="spacingAndGlyphs">15</text>
<line x1="375.50" y1="516.60" x2="375.50" y2="519.80" stroke="#1a1a1a" stroke-width="1.2"/>
<text x="375.50" y="527.00" font-size="6.8" text-anchor="middle" fill="#2a2a2a" stroke="#2a2a2a" stroke-width="0.25" textLength="5.90" lengthAdjust="spacingAndGlyphs">20</text>
<text x="330.30" y="536.60" font-size="7.9" text-anchor="middle" fill="#2a2a2a" stroke="#2a2a2a" stroke-width="0.3" textLength="68.40" lengthAdjust="spacingAndGlyphs">Day relative to CRS onset</text>
<text transform="translate(258.20,472.50) rotate(-90)" font-size="7.9" text-anchor="middle" fill="#2a2a2a" stroke="#2a2a2a" stroke-width="0.3" textLength="66.30" lengthAdjust="spacingAndGlyphs">Platelet count (cells/µL)</text>
<text x="260.50" y="419.80" font-size="11.6" font-weight="bold" fill="#000">M</text>
<polygon points="416.10,483.15 418.97,472.96 421.84,475.27 424.71,473.35 427.58,469.12 430.45,474.88 433.32,476.42 436.19,468.73 439.06,467.58 441.93,469.12 444.80,465.65 447.67,461.81 450.54,461.81 453.41,467.19 456.28,469.50 459.15,467.58 462.02,477.77 464.89,478.35 467.76,478.73 470.63,486.81 473.50,486.81 476.37,485.46 479.24,484.12 482.11,487.38 484.98,484.50 487.85,478.35 490.72,486.42 493.59,475.85 496.46,461.42 499.33,472.38 502.20,447.38 502.20,483.92 499.33,495.46 496.46,469.12 493.59,481.62 490.72,492.19 487.85,484.12 484.98,490.27 482.11,493.15 479.24,489.88 476.37,491.23 473.50,492.58 470.63,492.58 467.76,484.50 464.89,484.12 462.02,483.54 459.15,473.35 456.28,475.27 453.41,472.96 450.54,467.58 447.67,467.58 444.80,471.42 441.93,474.88 439.06,473.35 436.19,474.50 433.32,482.19 430.45,480.65 427.58,474.88 424.71,479.12 421.84,481.04 418.97,478.73 416.10,494.69" fill="#d3e1ee" fill-opacity="0.95" stroke="#b3c9de" stroke-width="0.7" stroke-opacity="0.85"/>
<polygon points="416.10,458.15 418.97,463.35 421.84,465.65 424.71,461.04 427.58,458.54 430.45,464.31 433.32,441.23 436.19,460.08 439.06,464.31 441.93,465.27 444.80,464.31 447.67,459.12 450.54,460.46 453.41,467.19 456.28,471.62 459.15,482.19 462.02,492.19 464.89,493.35 467.76,493.73 470.63,495.46 473.50,494.12 476.37,494.12 479.24,493.54 482.11,493.15 484.98,492.77 487.85,494.31 490.72,495.08 493.59,494.31 496.46,495.46 499.33,492.77 502.20,492.19 502.20,496.04 499.33,496.62 496.46,499.31 493.59,498.15 490.72,498.92 487.85,498.15 484.98,496.62 482.11,497.00 479.24,497.38 476.37,497.96 473.50,497.96 470.63,499.31 467.76,497.58 464.89,497.19 462.02,496.04 459.15,487.96 456.28,477.38 453.41,472.96 450.54,466.23 447.67,464.88 444.80,470.08 441.93,471.04 439.06,470.08 436.19,471.62 433.32,470.08 430.45,477.77 427.58,472.00 424.71,474.50 421.84,479.12 418.97,476.81 416.10,473.54" fill="#f5cdd6" fill-opacity="0.8" stroke="#eba9b8" stroke-width="0.7" stroke-opacity="0.85"/>
<polyline points="416.10,488.92 418.97,475.85 421.84,478.15 424.71,476.23 427.58,472.00 430.45,477.77 433.32,479.31 436.19,471.62 439.06,470.46 441.93,472.00 444.80,468.54 447.67,464.69 450.54,464.69 453.41,470.08 456.28,472.38 459.15,470.46 462.02,480.65 464.89,481.23 467.76,481.62 470.63,489.69 473.50,489.69 476.37,488.35 479.24,487.00 482.11,490.27 484.98,487.38 487.85,481.23 490.72,489.31 493.59,478.73 496.46,465.27 499.33,483.92 502.20,472.38" fill="none" stroke="#3a76ad" stroke-width="0.95" stroke-linejoin="round"/>
<circle cx="416.10" cy="488.92" r="1.05" fill="#0c3b6e"/>
<circle cx="418.97" cy="475.85" r="1.05" fill="#0c3b6e"/>
<circle cx="421.84" cy="478.15" r="1.05" fill="#0c3b6e"/>
<circle cx="424.71" cy="476.23" r="1.05" fill="#0c3b6e"/>
<circle cx="427.58" cy="472.00" r="1.05" fill="#0c3b6e"/>
<circle cx="430.45" cy="477.77" r="1.05" fill="#0c3b6e"/>
<circle cx="433.32" cy="479.31" r="1.05" fill="#0c3b6e"/>
<circle cx="436.19" cy="471.62" r="1.05" fill="#0c3b6e"/>
<circle cx="439.06" cy="470.46" r="1.05" fill="#0c3b6e"/>
<circle cx="441.93" cy="472.00" r="1.05" fill="#0c3b6e"/>
<circle cx="444.80" cy="468.54" r="1.05" fill="#0c3b6e"/>
<circle cx="447.67" cy="464.69" r="1.05" fill="#0c3b6e"/>
<circle cx="450.54" cy="464.69" r="1.05" fill="#0c3b6e"/>
<circle cx="453.41" cy="470.08" r="1.05" fill="#0c3b6e"/>
<circle cx="456.28" cy="472.38" r="1.05" fill="#0c3b6e"/>
<circle cx="459.15" cy="470.46" r="1.05" fill="#0c3b6e"/>
<circle cx="462.02" cy="480.65" r="1.05" fill="#0c3b6e"/>
<circle cx="464.89" cy="481.23" r="1.05" fill="#0c3b6e"/>
<circle cx="467.76" cy="481.62" r="1.05" fill="#0c3b6e"/>
<circle cx="470.63" cy="489.69" r="1.05" fill="#0c3b6e"/>
<circle cx="473.50" cy="489.69" r="1.05" fill="#0c3b6e"/>
<circle cx="476.37" cy="488.35" r="1.05" fill="#0c3b6e"/>
<circle cx="479.24" cy="487.00" r="1.05" fill="#0c3b6e"/>
<circle cx="482.11" cy="490.27" r="1.05" fill="#0c3b6e"/>
<circle cx="484.98" cy="487.38" r="1.05" fill="#0c3b6e"/>
<circle cx="487.85" cy="481.23" r="1.05" fill="#0c3b6e"/>
<circle cx="490.72" cy="489.31" r="1.05" fill="#0c3b6e"/>
<circle cx="493.59" cy="478.73" r="1.05" fill="#0c3b6e"/>
<circle cx="496.46" cy="465.27" r="1.05" fill="#0c3b6e"/>
<circle cx="499.33" cy="483.92" r="1.05" fill="#0c3b6e"/>
<circle cx="502.20" cy="472.38" r="1.05" fill="#0c3b6e"/>
<polyline points="416.10,465.85 418.97,470.08 421.84,472.38 424.71,467.77 427.58,465.27 430.45,471.04 433.32,455.65 436.19,465.85 439.06,467.19 441.93,468.15 444.80,467.19 447.67,462.00 450.54,463.35 453.41,470.08 456.28,474.50 459.15,485.08 462.02,494.12 464.89,495.27 467.76,495.65 470.63,497.38 473.50,496.04 476.37,496.04 479.24,495.46 482.11,495.08 484.98,494.69 487.85,496.23 490.72,497.00 493.59,496.23 496.46,497.38 499.33,494.69 502.20,494.12" fill="none" stroke="#d22c51" stroke-width="0.95" stroke-linejoin="round"/>
<circle cx="416.10" cy="465.85" r="1.05" fill="#b80d33"/>
<circle cx="418.97" cy="470.08" r="1.05" fill="#b80d33"/>
<circle cx="421.84" cy="472.38" r="1.05" fill="#b80d33"/>
<circle cx="424.71" cy="467.77" r="1.05" fill="#b80d33"/>
<circle cx="427.58" cy="465.27" r="1.05" fill="#b80d33"/>
<circle cx="430.45" cy="471.04" r="1.05" fill="#b80d33"/>
<circle cx="433.32" cy="455.65" r="1.05" fill="#b80d33"/>
<circle cx="436.19" cy="465.85" r="1.05" fill="#b80d33"/>
<circle cx="439.06" cy="467.19" r="1.05" fill="#b80d33"/>
<circle cx="441.93" cy="468.15" r="1.05" fill="#b80d33"/>
<circle cx="444.80" cy="467.19" r="1.05" fill="#b80d33"/>
<circle cx="447.67" cy="462.00" r="1.05" fill="#b80d33"/>
<circle cx="450.54" cy="463.35" r="1.05" fill="#b80d33"/>
<circle cx="453.41" cy="470.08" r="1.05" fill="#b80d33"/>
<circle cx="456.28" cy="474.50" r="1.05" fill="#b80d33"/>
<circle cx="459.15" cy="485.08" r="1.05" fill="#b80d33"/>
<circle cx="462.02" cy="494.12" r="1.05" fill="#b80d33"/>
<circle cx="464.89" cy="495.27" r="1.05" fill="#b80d33"/>
<circle cx="467.76" cy="495.65" r="1.05" fill="#b80d33"/>
<circle cx="470.63" cy="497.38" r="1.05" fill="#b80d33"/>
<circle cx="473.50" cy="496.04" r="1.05" fill="#b80d33"/>
<circle cx="476.37" cy="496.04" r="1.05" fill="#b80d33"/>
<circle cx="479.24" cy="495.46" r="1.05" fill="#b80d33"/>
<circle cx="482.11" cy="495.08" r="1.05" fill="#b80d33"/>
<circle cx="484.98" cy="494.69" r="1.05" fill="#b80d33"/>
<circle cx="487.85" cy="496.23" r="1.05" fill="#b80d33"/>
<circle cx="490.72" cy="497.00" r="1.05" fill="#b80d33"/>
<circle cx="493.59" cy="496.23" r="1.05" fill="#b80d33"/>
<circle cx="496.46" cy="497.38" r="1.05" fill="#b80d33"/>
<circle cx="499.33" cy="494.69" r="1.05" fill="#b80d33"/>
<circle cx="502.20" cy="494.12" r="1.05" fill="#b80d33"/>
<line x1="444.80" y1="427.8" x2="444.80" y2="516.6" stroke="#1a1a1a" stroke-width="1.2" stroke-dasharray="3,1.5"/>
<path d="M416.10,427.30 V516.60 H502.70" fill="none" stroke="#1a1a1a" stroke-width="1.6"/>
<line x1="412.80" y1="516.60" x2="416.10" y2="516.60" stroke="#1a1a1a" stroke-width="1.2"/>
<text x="411.60" y="519.10" font-size="6.8" text-anchor="end" fill="#2a2a2a" stroke="#2a2a2a" stroke-width="0.25" textLength="2.95" lengthAdjust="spacingAndGlyphs">0</text>
<line x1="412.80" y1="505.50" x2="416.10" y2="505.50" stroke="#1a1a1a" stroke-width="1.2"/>
<text x="411.60" y="508.00" font-size="6.8" text-anchor="end" fill="#2a2a2a" stroke="#2a2a2a" stroke-width="0.25" textLength="8.85" lengthAdjust="spacingAndGlyphs">100</text>
<line x1="412.80" y1="494.40" x2="416.10" y2="494.40" stroke="#1a1a1a" stroke-width="1.2"/>
<text x="411.60" y="496.90" font-size="6.8" text-anchor="end" fill="#2a2a2a" stroke="#2a2a2a" stroke-width="0.25" textLength="8.85" lengthAdjust="spacingAndGlyphs">200</text>
<line x1="412.80" y1="483.30" x2="416.10" y2="483.30" stroke="#1a1a1a" stroke-width="1.2"/>
<text x="411.60" y="485.80" font-size="6.8" text-anchor="end" fill="#2a2a2a" stroke="#2a2a2a" stroke-width="0.25" textLength="8.85" lengthAdjust="spacingAndGlyphs">300</text>
<line x1="412.80" y1="472.20" x2="416.10" y2="472.20" stroke="#1a1a1a" stroke-width="1.2"/>
<text x="411.60" y="474.70" font-size="6.8" text-anchor="end" fill="#2a2a2a" stroke="#2a2a2a" stroke-width="0.25" textLength="8.85" lengthAdjust="spacingAndGlyphs">400</text>
<line x1="412.80" y1="461.10" x2="416.10" y2="461.10" stroke="#1a1a1a" stroke-width="1.2"/>
<text x="411.60" y="463.60" font-size="6.8" text-anchor="end" fill="#2a2a2a" stroke="#2a2a2a" stroke-width="0.25" textLength="8.85" lengthAdjust="spacingAndGlyphs">500</text>
<line x1="412.80" y1="450.00" x2="416.10" y2="450.00" stroke="#1a1a1a" stroke-width="1.2"/>
<text x="411.60" y="452.50" font-size="6.8" text-anchor="end" fill="#2a2a2a" stroke="#2a2a2a" stroke-width="0.25" textLength="8.85" lengthAdjust="spacingAndGlyphs">600</text>
<line x1="412.80" y1="438.90" x2="416.10" y2="438.90" stroke="#1a1a1a" stroke-width="1.2"/>
<text x="411.60" y="441.40" font-size="6.8" text-anchor="end" fill="#2a2a2a" stroke="#2a2a2a" stroke-width="0.25" textLength="8.85" lengthAdjust="spacingAndGlyphs">700</text>
<line x1="412.80" y1="427.80" x2="416.10" y2="427.80" stroke="#1a1a1a" stroke-width="1.2"/>
<text x="411.60" y="430.30" font-size="6.8" text-anchor="end" fill="#2a2a2a" stroke="#2a2a2a" stroke-width="0.25" textLength="8.85" lengthAdjust="spacingAndGlyphs">800</text>
<line x1="416.10" y1="516.60" x2="416.10" y2="519.80" stroke="#1a1a1a" stroke-width="1.2"/>
<text x="415.10" y="527.00" font-size="6.8" text-anchor="middle" fill="#2a2a2a" stroke="#2a2a2a" stroke-width="0.25" textLength="8.20" lengthAdjust="spacingAndGlyphs">-10</text>
<line x1="430.45" y1="516.60" x2="430.45" y2="519.80" stroke="#1a1a1a" stroke-width="1.2"/>
<text x="429.45" y="527.00" font-size="6.8" text-anchor="middle" fill="#2a2a2a" stroke="#2a2a2a" stroke-width="0.25" textLength="5.25" lengthAdjust="spacingAndGlyphs">-5</text>
<line x1="444.80" y1="516.60" x2="444.80" y2="519.80" stroke="#1a1a1a" stroke-width="1.2"/>
<text x="444.80" y="527.00" font-size="6.8" text-anchor="middle" fill="#2a2a2a" stroke="#2a2a2a" stroke-width="0.25" textLength="2.95" lengthAdjust="spacingAndGlyphs">0</text>
<line x1="459.15" y1="516.60" x2="459.15" y2="519.80" stroke="#1a1a1a" stroke-width="1.2"/>
<text x="459.15" y="527.00" font-size="6.8" text-anchor="middle" fill="#2a2a2a" stroke="#2a2a2a" stroke-width="0.25" textLength="2.95" lengthAdjust="spacingAndGlyphs">5</text>
<line x1="473.50" y1="516.60" x2="473.50" y2="519.80" stroke="#1a1a1a" stroke-width="1.2"/>
<text x="473.50" y="527.00" font-size="6.8" text-anchor="middle" fill="#2a2a2a" stroke="#2a2a2a" stroke-width="0.25" textLength="5.90" lengthAdjust="spacingAndGlyphs">10</text>
<line x1="487.85" y1="516.60" x2="487.85" y2="519.80" stroke="#1a1a1a" stroke-width="1.2"/>
<text x="487.85" y="527.00" font-size="6.8" text-anchor="middle" fill="#2a2a2a" stroke="#2a2a2a" stroke-width="0.25" textLength="5.90" lengthAdjust="spacingAndGlyphs">15</text>
<line x1="502.20" y1="516.60" x2="502.20" y2="519.80" stroke="#1a1a1a" stroke-width="1.2"/>
<text x="502.20" y="527.00" font-size="6.8" text-anchor="middle" fill="#2a2a2a" stroke="#2a2a2a" stroke-width="0.25" textLength="5.90" lengthAdjust="spacingAndGlyphs">20</text>
<text x="459.15" y="536.60" font-size="7.9" text-anchor="middle" fill="#2a2a2a" stroke="#2a2a2a" stroke-width="0.3" textLength="68.40" lengthAdjust="spacingAndGlyphs">Day relative to CRS onset</text>
<text transform="translate(397.80,471.30) rotate(-90)" font-size="7.9" text-anchor="middle" fill="#2a2a2a" stroke="#2a2a2a" stroke-width="0.3" textLength="70.70" lengthAdjust="spacingAndGlyphs">Fibrinogen levels (mg/dL)</text>
<text x="391.00" y="419.80" font-size="11.6" font-weight="bold" fill="#000">N</text>
<rect x="418.30" y="429.10" width="1.8" height="1.8" fill="#333"/>
<rect x="456.30" y="429.10" width="1.8" height="1.8" fill="#333"/>
<rect x="459.90" y="429.10" width="1.8" height="1.8" fill="#333"/>
<rect x="463.50" y="429.10" width="1.8" height="1.8" fill="#333"/>
<rect x="467.10" y="429.10" width="1.8" height="1.8" fill="#333"/>
<rect x="470.70" y="429.10" width="1.8" height="1.8" fill="#333"/>
<rect x="476.60" y="429.10" width="1.8" height="1.8" fill="#333"/>
<rect x="488.00" y="429.10" width="1.8" height="1.8" fill="#333"/>
<rect x="499.40" y="429.10" width="1.8" height="1.8" fill="#333"/>
<rect x="150.9" y="543.2" width="183.6" height="13.0" fill="#fff" stroke="#111" stroke-width="1.0"/>
<line x1="157.3" y1="549.6" x2="177.3" y2="549.6" stroke="#3a76ad" stroke-width="1.7"/>
<line x1="255.0" y1="549.6" x2="275.0" y2="549.6" stroke="#d22c51" stroke-width="1.7"/>
<text x="180.40" y="552.20" font-size="7.4" stroke="#222" stroke-width="0.2" textLength="62.30" lengthAdjust="spacingAndGlyphs">No CarHLH (n=31)</text>
<text x="278.00" y="552.20" font-size="7.4" stroke="#222" stroke-width="0.2" textLength="50.80" lengthAdjust="spacingAndGlyphs">CarHLH (n=21)</text>
<rect x="0.5" y="0.5" width="519" height="563" fill="none" stroke="#000" stroke-width="1.1"/>
</svg></body></html>
